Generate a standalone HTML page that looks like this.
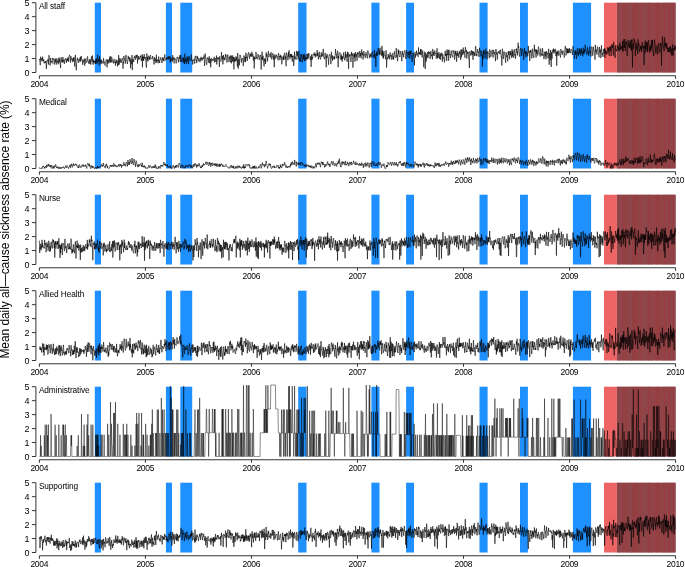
<!DOCTYPE html><html><head><meta charset="utf-8"><style>html,body{margin:0;padding:0;background:#fff;overflow:hidden}svg{display:block;will-change:transform}text{font-family:"Liberation Sans",sans-serif;fill:#000}</style></head><body>
<svg width="685" height="567" viewBox="0 0 685 567">
<rect width="685" height="567" fill="#fff"/>
<text transform="translate(8.9,229.5) rotate(-90)" text-anchor="middle" font-size="12" textLength="258.2" lengthAdjust="spacing">Mean daily all—cause sickness absence rate (%)</text>
<rect x="94.80" y="2.70" width="6.20" height="69.80" fill="#1E90FF"/>
<rect x="165.90" y="2.70" width="6.10" height="69.80" fill="#1E90FF"/>
<rect x="180.30" y="2.70" width="11.90" height="69.80" fill="#1E90FF"/>
<rect x="298.20" y="2.70" width="8.30" height="69.80" fill="#1E90FF"/>
<rect x="371.40" y="2.70" width="8.10" height="69.80" fill="#1E90FF"/>
<rect x="406.10" y="2.70" width="7.90" height="69.80" fill="#1E90FF"/>
<rect x="479.50" y="2.70" width="8.10" height="69.80" fill="#1E90FF"/>
<rect x="520.00" y="2.70" width="7.90" height="69.80" fill="#1E90FF"/>
<rect x="572.90" y="2.70" width="18.20" height="69.80" fill="#1E90FF"/>
<rect x="604.00" y="2.70" width="12.90" height="69.80" fill="#EC6464"/>
<rect x="616.90" y="2.70" width="58.90" height="69.80" fill="#924346"/>
<rect x="617.50" y="2.70" width="0.90" height="69.80" fill="#8C494D"/>
<rect x="619.01" y="2.70" width="1.18" height="69.80" fill="#8C494D"/>
<rect x="620.85" y="2.70" width="0.77" height="69.80" fill="#8C494D"/>
<rect x="623.56" y="2.70" width="0.79" height="69.80" fill="#983E41"/>
<rect x="626.07" y="2.70" width="1.06" height="69.80" fill="#983E41"/>
<rect x="627.58" y="2.70" width="1.02" height="69.80" fill="#8C494D"/>
<rect x="629.51" y="2.70" width="0.86" height="69.80" fill="#8C494D"/>
<rect x="631.04" y="2.70" width="0.96" height="69.80" fill="#8C494D"/>
<rect x="632.61" y="2.70" width="0.72" height="69.80" fill="#983E41"/>
<rect x="633.73" y="2.70" width="0.66" height="69.80" fill="#983E41"/>
<rect x="634.81" y="2.70" width="0.96" height="69.80" fill="#983E41"/>
<rect x="636.59" y="2.70" width="1.18" height="69.80" fill="#983E41"/>
<rect x="638.15" y="2.70" width="1.01" height="69.80" fill="#8C494D"/>
<rect x="639.98" y="2.70" width="0.97" height="69.80" fill="#983E41"/>
<rect x="641.88" y="2.70" width="0.94" height="69.80" fill="#8C494D"/>
<rect x="643.56" y="2.70" width="1.06" height="69.80" fill="#8C494D"/>
<rect x="645.15" y="2.70" width="0.62" height="69.80" fill="#8C494D"/>
<rect x="646.69" y="2.70" width="0.69" height="69.80" fill="#8C494D"/>
<rect x="648.10" y="2.70" width="1.02" height="69.80" fill="#983E41"/>
<rect x="649.39" y="2.70" width="0.76" height="69.80" fill="#8C494D"/>
<rect x="650.66" y="2.70" width="0.75" height="69.80" fill="#983E41"/>
<rect x="652.19" y="2.70" width="0.75" height="69.80" fill="#8C494D"/>
<rect x="655.45" y="2.70" width="0.93" height="69.80" fill="#983E41"/>
<rect x="657.12" y="2.70" width="1.11" height="69.80" fill="#983E41"/>
<rect x="658.46" y="2.70" width="0.88" height="69.80" fill="#983E41"/>
<rect x="661.60" y="2.70" width="1.10" height="69.80" fill="#8C494D"/>
<rect x="663.47" y="2.70" width="1.19" height="69.80" fill="#983E41"/>
<rect x="665.07" y="2.70" width="0.91" height="69.80" fill="#983E41"/>
<rect x="666.82" y="2.70" width="1.15" height="69.80" fill="#8C494D"/>
<rect x="668.28" y="2.70" width="0.83" height="69.80" fill="#983E41"/>
<rect x="669.82" y="2.70" width="0.75" height="69.80" fill="#983E41"/>
<rect x="671.18" y="2.70" width="0.77" height="69.80" fill="#8C494D"/>
<rect x="672.42" y="2.70" width="1.06" height="69.80" fill="#983E41"/>
<rect x="674.27" y="2.70" width="0.67" height="69.80" fill="#8C494D"/>
<path d="M39.40 59.61 L39.69 58.95 L39.98 62.12 L40.27 65.13 L40.56 56.74 L40.85 58.32 L41.14 60.01 L41.43 58.27 L41.72 59.75 L42.01 61.42 L42.30 61.02 L42.59 56.63 L42.88 60.63 L43.17 59.93 L43.46 61.00 L43.75 59.35 L44.04 63.34 L44.34 63.28 L44.63 61.55 L44.92 61.66 L45.21 61.29 L45.50 62.87 L45.79 61.06 L46.08 63.43 L46.37 68.90 L46.66 62.89 L46.95 60.78 L47.24 61.35 L47.53 60.32 L47.82 60.59 L48.11 58.83 L48.40 64.57 L48.69 59.15 L48.98 55.14 L49.27 57.21 L49.56 57.32 L49.85 61.00 L50.14 65.46 L50.43 61.62 L50.72 57.98 L51.01 62.02 L51.30 61.67 L51.59 61.08 L51.88 63.05 L52.17 63.38 L52.46 62.19 L52.75 57.95 L53.04 59.50 L53.33 58.63 L53.62 58.87 L53.92 60.58 L54.21 64.50 L54.50 61.41 L54.79 60.02 L55.08 58.67 L55.37 62.37 L55.66 58.78 L55.95 60.49 L56.24 64.63 L56.53 62.34 L56.82 58.34 L57.11 59.18 L57.40 62.27 L57.69 62.62 L57.98 60.70 L58.27 64.22 L58.56 62.43 L58.85 57.51 L59.14 62.61 L59.43 60.02 L59.72 58.60 L60.01 61.91 L60.30 64.79 L60.59 68.09 L60.88 58.31 L61.17 57.19 L61.46 59.45 L61.75 61.74 L62.04 59.91 L62.33 62.58 L62.62 60.11 L62.91 56.98 L63.20 62.33 L63.50 62.04 L63.79 59.50 L64.08 60.22 L64.37 63.88 L64.66 62.66 L64.95 59.00 L65.24 59.15 L65.53 58.35 L65.82 59.67 L66.11 60.21 L66.40 62.75 L66.69 59.48 L66.98 61.07 L67.27 57.89 L67.56 58.19 L67.85 60.83 L68.14 57.72 L68.43 61.85 L68.72 58.25 L69.01 56.13 L69.30 55.63 L69.59 54.87 L69.88 56.61 L70.17 59.20 L70.46 62.66 L70.75 56.14 L71.04 56.41 L71.33 58.49 L71.62 58.43 L71.91 60.23 L72.20 58.59 L72.49 62.02 L72.78 61.63 L73.08 58.96 L73.37 57.55 L73.66 61.31 L73.95 58.64 L74.24 57.54 L74.53 65.19 L74.82 66.53 L75.11 57.31 L75.40 54.90 L75.69 62.07 L75.98 62.81 L76.27 70.22 L76.56 63.85 L76.85 62.62 L77.14 59.18 L77.43 57.74 L77.72 60.23 L78.01 59.37 L78.30 60.10 L78.59 62.84 L78.88 62.16 L79.17 59.33 L79.46 58.57 L79.75 61.02 L80.04 61.37 L80.33 56.91 L80.62 61.48 L80.91 61.19 L81.20 55.96 L81.49 59.22 L81.78 59.72 L82.07 59.37 L82.36 60.10 L82.66 64.78 L82.95 60.78 L83.24 59.76 L83.53 61.61 L83.82 62.58 L84.11 62.00 L84.40 58.55 L84.69 65.70 L84.98 63.04 L85.27 63.60 L85.56 59.76 L85.85 58.62 L86.14 60.90 L86.43 62.13 L86.72 62.63 L87.01 61.67 L87.30 57.24 L87.59 56.39 L87.88 60.03 L88.17 61.86 L88.46 61.49 L88.75 63.87 L89.04 63.54 L89.33 59.47 L89.62 60.13 L89.91 63.65 L90.20 59.18 L90.49 61.87 L90.78 64.51 L91.07 61.30 L91.36 56.43 L91.65 58.44 L91.94 60.17 L92.24 61.83 L92.53 55.57 L92.82 61.08 L93.11 64.72 L93.40 60.07 L93.69 59.61 L93.98 63.26 L94.27 60.96 L94.56 61.95 L94.85 61.41 L95.14 61.19 L95.43 63.89 L95.72 59.49 L96.01 63.51 L96.30 58.49 L96.59 60.19 L96.88 61.33 L97.17 63.70 L97.46 54.72 L97.75 54.96 L98.04 61.55 L98.33 59.13 L98.62 61.30 L98.91 62.62 L99.20 65.52 L99.49 55.98 L99.78 61.95 L100.07 60.77 L100.36 59.67 L100.65 62.34 L100.94 64.01 L101.23 64.13 L101.52 59.69 L101.82 62.78 L102.11 62.01 L102.40 61.46 L102.69 62.00 L102.98 63.56 L103.27 63.54 L103.56 58.20 L103.85 61.54 L104.14 61.49 L104.43 62.98 L104.72 62.57 L105.01 65.60 L105.30 62.20 L105.59 61.22 L105.88 60.73 L106.17 59.41 L106.46 60.15 L106.75 62.24 L107.04 67.34 L107.33 62.88 L107.62 59.76 L107.91 63.31 L108.20 59.40 L108.49 62.55 L108.78 63.33 L109.07 62.58 L109.36 61.92 L109.65 57.50 L109.94 61.79 L110.23 56.05 L110.52 60.83 L110.81 62.84 L111.10 60.32 L111.40 61.90 L111.69 56.79 L111.98 59.29 L112.27 59.50 L112.56 59.65 L112.85 62.18 L113.14 61.56 L113.43 63.37 L113.72 60.06 L114.01 58.83 L114.30 59.40 L114.59 60.59 L114.88 63.06 L115.17 62.10 L115.46 65.63 L115.75 60.70 L116.04 59.64 L116.33 63.08 L116.62 60.54 L116.91 62.37 L117.20 62.82 L117.49 66.33 L117.78 61.69 L118.07 60.09 L118.36 65.17 L118.65 55.14 L118.94 62.30 L119.23 64.54 L119.52 60.65 L119.81 58.16 L120.10 62.51 L120.39 59.28 L120.68 59.48 L120.98 61.75 L121.27 62.80 L121.56 60.31 L121.85 59.36 L122.14 57.93 L122.43 58.44 L122.72 60.41 L123.01 68.61 L123.30 62.28 L123.59 63.21 L123.88 55.97 L124.17 58.54 L124.46 58.19 L124.75 60.45 L125.04 59.91 L125.33 63.67 L125.62 61.20 L125.91 54.83 L126.20 59.45 L126.49 60.30 L126.78 60.02 L127.07 61.36 L127.36 63.98 L127.65 61.85 L127.94 58.42 L128.23 55.93 L128.52 58.93 L128.81 58.30 L129.10 57.52 L129.39 61.37 L129.68 57.42 L129.97 57.31 L130.26 58.62 L130.56 68.26 L130.85 59.29 L131.14 62.73 L131.43 61.63 L131.72 64.20 L132.01 55.04 L132.30 70.06 L132.59 59.23 L132.88 60.20 L133.17 59.33 L133.46 61.14 L133.75 62.14 L134.04 57.38 L134.33 56.60 L134.62 58.12 L134.91 55.74 L135.20 55.47 L135.49 59.65 L135.78 58.71 L136.07 57.48 L136.36 55.05 L136.65 57.60 L136.94 57.13 L137.23 54.69 L137.52 63.55 L137.81 58.27 L138.10 57.93 L138.39 56.04 L138.68 59.71 L138.97 58.92 L139.26 57.62 L139.55 58.72 L139.84 59.21 L140.14 56.33 L140.43 57.12 L140.72 55.47 L141.01 57.58 L141.30 61.06 L141.59 59.21 L141.88 59.09 L142.17 54.36 L142.46 67.32 L142.75 55.90 L143.04 60.00 L143.33 57.04 L143.62 60.96 L143.91 58.21 L144.20 54.19 L144.49 58.40 L144.78 57.70 L145.07 58.42 L145.36 57.07 L145.65 59.91 L145.94 62.53 L146.23 67.34 L146.52 67.57 L146.81 53.45 L147.10 60.49 L147.39 58.32 L147.68 56.94 L147.97 61.35 L148.26 57.07 L148.55 55.79 L148.84 55.65 L149.13 59.04 L149.43 57.04 L149.72 59.99 L150.01 56.69 L150.30 55.91 L150.59 55.12 L150.88 58.58 L151.17 58.38 L151.46 58.75 L151.75 58.58 L152.04 59.24 L152.33 58.01 L152.62 56.04 L152.91 57.02 L153.20 59.61 L153.49 60.08 L153.78 62.40 L154.07 64.49 L154.36 57.12 L154.65 58.16 L154.94 60.91 L155.23 58.42 L155.52 62.46 L155.81 63.16 L156.10 62.62 L156.39 54.77 L156.68 62.18 L156.97 59.61 L157.26 59.24 L157.55 60.76 L157.84 60.28 L158.13 63.22 L158.42 61.64 L158.71 56.58 L159.01 60.69 L159.30 60.04 L159.59 63.00 L159.88 60.38 L160.17 60.08 L160.46 59.79 L160.75 57.37 L161.04 59.01 L161.33 60.17 L161.62 59.88 L161.91 63.02 L162.20 61.12 L162.49 57.64 L162.78 59.33 L163.07 57.32 L163.36 60.58 L163.65 59.15 L163.94 61.16 L164.23 58.17 L164.52 57.98 L164.81 54.47 L165.10 58.01 L165.39 59.26 L165.68 60.35 L165.97 59.91 L166.26 59.94 L166.55 57.71 L166.84 58.98 L167.13 58.48 L167.42 59.19 L167.71 56.84 L168.00 58.83 L168.29 59.23 L168.59 56.43 L168.88 59.32 L169.17 59.12 L169.46 57.93 L169.75 56.05 L170.04 60.73 L170.33 62.64 L170.62 57.46 L170.91 59.58 L171.20 60.89 L171.49 59.24 L171.78 58.88 L172.07 58.13 L172.36 61.74 L172.65 55.22 L172.94 55.90 L173.23 59.57 L173.52 57.53 L173.81 60.20 L174.10 63.45 L174.39 61.74 L174.68 57.73 L174.97 58.74 L175.26 59.64 L175.55 59.39 L175.84 59.43 L176.13 63.39 L176.42 61.17 L176.71 60.07 L177.00 57.03 L177.29 56.87 L177.58 58.02 L177.87 58.63 L178.17 59.95 L178.46 62.44 L178.75 57.46 L179.04 57.39 L179.33 57.08 L179.62 58.74 L179.91 55.16 L180.20 61.81 L180.49 59.41 L180.78 54.93 L181.07 58.98 L181.36 61.63 L181.65 62.12 L181.94 59.84 L182.23 60.71 L182.52 60.92 L182.81 57.36 L183.10 59.01 L183.39 57.78 L183.68 63.08 L183.97 58.98 L184.26 61.95 L184.55 64.03 L184.84 53.64 L185.13 60.94 L185.42 61.13 L185.71 62.04 L186.00 58.55 L186.29 63.77 L186.58 60.81 L186.87 56.70 L187.16 58.01 L187.45 61.53 L187.75 60.51 L188.04 56.58 L188.33 64.20 L188.62 62.76 L188.91 56.70 L189.20 56.33 L189.49 58.16 L189.78 58.04 L190.07 60.93 L190.36 59.93 L190.65 60.16 L190.94 59.63 L191.23 55.23 L191.52 54.59 L191.81 60.89 L192.10 60.37 L192.39 59.93 L192.68 64.44 L192.97 61.41 L193.26 60.94 L193.55 59.97 L193.84 59.93 L194.13 58.75 L194.42 61.13 L194.71 63.67 L195.00 57.06 L195.29 55.84 L195.58 57.39 L195.87 58.03 L196.16 60.64 L196.45 60.19 L196.74 63.08 L197.03 55.89 L197.33 58.52 L197.62 56.79 L197.91 58.59 L198.20 61.37 L198.49 61.08 L198.78 58.41 L199.07 58.73 L199.36 59.23 L199.65 60.06 L199.94 62.24 L200.23 58.23 L200.52 59.61 L200.81 60.36 L201.10 56.84 L201.39 58.84 L201.68 58.31 L201.97 60.75 L202.26 57.82 L202.55 59.06 L202.84 59.19 L203.13 58.02 L203.42 57.42 L203.71 58.48 L204.00 55.37 L204.29 59.51 L204.58 65.95 L204.87 61.04 L205.16 53.54 L205.45 56.91 L205.74 57.56 L206.03 59.40 L206.32 63.26 L206.61 64.78 L206.91 63.46 L207.20 58.02 L207.49 57.47 L207.78 57.64 L208.07 59.40 L208.36 58.32 L208.65 62.44 L208.94 62.89 L209.23 56.25 L209.52 59.90 L209.81 63.30 L210.10 60.96 L210.39 59.03 L210.68 67.33 L210.97 62.13 L211.26 57.90 L211.55 60.90 L211.84 61.37 L212.13 60.44 L212.42 60.59 L212.71 58.98 L213.00 60.19 L213.29 59.96 L213.58 60.50 L213.87 58.28 L214.16 56.77 L214.45 59.82 L214.74 62.40 L215.03 58.97 L215.32 58.02 L215.61 59.36 L215.90 61.84 L216.19 60.46 L216.49 55.57 L216.78 64.51 L217.07 61.07 L217.36 59.25 L217.65 57.54 L217.94 57.24 L218.23 59.09 L218.52 57.68 L218.81 60.04 L219.10 59.99 L219.39 66.86 L219.68 56.19 L219.97 59.39 L220.26 60.41 L220.55 61.18 L220.84 60.99 L221.13 61.48 L221.42 52.11 L221.71 54.99 L222.00 59.28 L222.29 59.54 L222.58 56.04 L222.87 64.37 L223.16 62.17 L223.45 54.99 L223.74 59.10 L224.03 58.72 L224.32 59.23 L224.61 57.63 L224.90 60.33 L225.19 58.71 L225.48 53.93 L225.77 56.52 L226.07 55.28 L226.36 58.85 L226.65 60.44 L226.94 62.51 L227.23 61.91 L227.52 56.06 L227.81 54.47 L228.10 56.51 L228.39 58.77 L228.68 60.55 L228.97 62.09 L229.26 60.84 L229.55 56.61 L229.84 59.30 L230.13 57.94 L230.42 55.46 L230.71 62.17 L231.00 60.54 L231.29 63.38 L231.58 55.63 L231.87 58.75 L232.16 61.75 L232.45 58.02 L232.74 55.48 L233.03 61.17 L233.32 58.59 L233.61 57.05 L233.90 69.36 L234.19 57.41 L234.48 59.48 L234.77 62.06 L235.06 59.79 L235.35 61.08 L235.65 58.29 L235.94 56.38 L236.23 60.45 L236.52 57.47 L236.81 60.59 L237.10 60.41 L237.39 66.67 L237.68 53.13 L237.97 56.08 L238.26 68.74 L238.55 59.71 L238.84 59.23 L239.13 59.03 L239.42 65.30 L239.71 58.03 L240.00 54.88 L240.29 55.90 L240.58 55.81 L240.87 58.35 L241.16 60.21 L241.45 62.53 L241.74 58.74 L242.03 59.59 L242.32 58.21 L242.61 58.44 L242.90 58.96 L243.19 66.12 L243.48 63.25 L243.77 55.74 L244.06 55.44 L244.35 57.90 L244.64 58.93 L244.93 62.09 L245.23 56.82 L245.52 62.03 L245.81 52.71 L246.10 53.27 L246.39 56.06 L246.68 58.26 L246.97 56.83 L247.26 60.97 L247.55 57.75 L247.84 53.88 L248.13 53.89 L248.42 53.72 L248.71 52.31 L249.00 56.84 L249.29 56.88 L249.58 58.82 L249.87 53.92 L250.16 54.47 L250.45 56.43 L250.74 53.30 L251.03 53.58 L251.32 55.12 L251.61 56.78 L251.90 51.72 L252.19 54.00 L252.48 56.24 L252.77 54.19 L253.06 55.36 L253.35 60.56 L253.64 56.25 L253.93 56.62 L254.22 68.44 L254.51 56.87 L254.81 57.75 L255.10 59.23 L255.39 58.52 L255.68 58.70 L255.97 51.92 L256.26 54.94 L256.55 58.15 L256.84 57.38 L257.13 59.19 L257.42 59.19 L257.71 57.20 L258.00 54.15 L258.29 55.97 L258.58 56.42 L258.87 56.09 L259.16 59.86 L259.45 59.82 L259.74 58.87 L260.03 54.93 L260.32 55.94 L260.61 55.39 L260.90 57.91 L261.19 69.55 L261.48 57.61 L261.77 58.73 L262.06 51.71 L262.35 57.19 L262.64 60.21 L262.93 55.76 L263.22 56.35 L263.51 62.13 L263.80 62.84 L264.09 66.40 L264.39 59.22 L264.68 58.50 L264.97 61.57 L265.26 58.72 L265.55 64.01 L265.84 60.09 L266.13 52.39 L266.42 56.67 L266.71 54.23 L267.00 56.73 L267.29 57.94 L267.58 61.40 L267.87 55.88 L268.16 53.00 L268.45 51.09 L268.74 57.15 L269.03 56.48 L269.32 56.21 L269.61 55.79 L269.90 53.70 L270.19 53.82 L270.48 55.62 L270.77 57.66 L271.06 52.22 L271.35 55.53 L271.64 59.34 L271.93 58.54 L272.22 58.09 L272.51 57.64 L272.80 53.22 L273.09 55.05 L273.38 55.03 L273.67 59.95 L273.97 56.43 L274.26 67.24 L274.55 55.63 L274.84 54.39 L275.13 56.25 L275.42 55.84 L275.71 58.58 L276.00 58.38 L276.29 54.87 L276.58 54.78 L276.87 56.65 L277.16 56.30 L277.45 56.48 L277.74 58.24 L278.03 60.29 L278.32 54.32 L278.61 53.06 L278.90 56.26 L279.19 57.07 L279.48 56.19 L279.77 60.07 L280.06 59.66 L280.35 54.85 L280.64 57.67 L280.93 56.00 L281.22 55.72 L281.51 57.67 L281.80 64.35 L282.09 59.77 L282.38 57.21 L282.67 56.75 L282.96 57.42 L283.25 59.98 L283.55 55.58 L283.84 59.97 L284.13 57.77 L284.42 53.02 L284.71 52.74 L285.00 53.45 L285.29 59.03 L285.58 56.62 L285.87 63.25 L286.16 66.21 L286.45 52.59 L286.74 53.60 L287.03 54.01 L287.32 56.95 L287.61 56.89 L287.90 60.30 L288.19 57.32 L288.48 52.27 L288.77 57.01 L289.06 50.42 L289.35 56.81 L289.64 58.28 L289.93 59.21 L290.22 58.50 L290.51 53.88 L290.80 56.87 L291.09 54.40 L291.38 57.26 L291.67 54.24 L291.96 57.68 L292.25 61.69 L292.54 55.95 L292.83 57.00 L293.13 55.62 L293.42 57.48 L293.71 65.90 L294.00 61.55 L294.29 58.81 L294.58 51.61 L294.87 58.62 L295.16 57.32 L295.45 56.74 L295.74 57.62 L296.03 59.90 L296.32 54.95 L296.61 50.88 L296.90 52.39 L297.19 55.89 L297.48 51.69 L297.77 56.01 L298.06 59.32 L298.35 58.53 L298.64 54.01 L298.93 50.96 L299.22 55.41 L299.51 56.76 L299.80 61.54 L300.09 58.47 L300.38 61.49 L300.67 56.92 L300.96 54.23 L301.25 57.51 L301.54 54.75 L301.83 54.37 L302.12 62.37 L302.41 59.00 L302.71 57.55 L303.00 55.54 L303.29 54.64 L303.58 59.28 L303.87 54.50 L304.16 60.48 L304.45 61.21 L304.74 54.28 L305.03 54.35 L305.32 59.40 L305.61 57.37 L305.90 60.69 L306.19 58.22 L306.48 59.08 L306.77 55.48 L307.06 53.93 L307.35 59.19 L307.64 57.61 L307.93 53.68 L308.22 58.61 L308.51 55.44 L308.80 53.05 L309.09 55.63 L309.38 55.76 L309.67 55.67 L309.96 56.62 L310.25 60.03 L310.54 59.15 L310.83 56.42 L311.12 66.82 L311.41 54.48 L311.70 54.51 L311.99 59.93 L312.29 57.09 L312.58 58.29 L312.87 55.39 L313.16 53.99 L313.45 53.54 L313.74 54.52 L314.03 53.91 L314.32 56.00 L314.61 55.54 L314.90 52.39 L315.19 57.42 L315.48 56.17 L315.77 54.00 L316.06 55.55 L316.35 56.36 L316.64 55.64 L316.93 52.61 L317.22 50.06 L317.51 55.87 L317.80 53.01 L318.09 56.54 L318.38 59.34 L318.67 56.12 L318.96 53.49 L319.25 51.69 L319.54 56.85 L319.83 55.52 L320.12 58.09 L320.41 59.43 L320.70 58.44 L320.99 54.84 L321.28 52.29 L321.57 56.67 L321.87 56.98 L322.16 53.77 L322.45 55.98 L322.74 55.48 L323.03 50.79 L323.32 48.86 L323.61 57.19 L323.90 56.87 L324.19 58.39 L324.48 58.04 L324.77 59.16 L325.06 52.82 L325.35 54.17 L325.64 57.08 L325.93 57.78 L326.22 67.20 L326.51 55.77 L326.80 57.93 L327.09 53.90 L327.38 56.57 L327.67 56.88 L327.96 58.15 L328.25 58.09 L328.54 64.69 L328.83 59.39 L329.12 54.89 L329.41 54.36 L329.70 55.08 L329.99 54.58 L330.28 56.50 L330.57 58.10 L330.86 64.13 L331.15 56.50 L331.45 51.85 L331.74 58.30 L332.03 57.35 L332.32 55.36 L332.61 60.74 L332.90 57.25 L333.19 56.52 L333.48 58.45 L333.77 57.95 L334.06 59.10 L334.35 56.36 L334.64 59.31 L334.93 57.15 L335.22 54.26 L335.51 49.01 L335.80 54.34 L336.09 54.14 L336.38 53.79 L336.67 58.22 L336.96 58.36 L337.25 52.14 L337.54 50.75 L337.83 51.88 L338.12 67.21 L338.41 56.03 L338.70 58.44 L338.99 53.44 L339.28 52.71 L339.57 52.61 L339.86 53.11 L340.15 52.73 L340.44 58.30 L340.73 59.89 L341.03 59.47 L341.32 54.35 L341.61 59.40 L341.90 56.12 L342.19 61.71 L342.48 56.58 L342.77 58.82 L343.06 57.93 L343.35 55.67 L343.64 52.47 L343.93 57.11 L344.22 58.21 L344.51 58.01 L344.80 60.44 L345.09 57.83 L345.38 51.63 L345.67 57.93 L345.96 56.59 L346.25 54.32 L346.54 56.34 L346.83 58.63 L347.12 61.77 L347.41 51.73 L347.70 57.03 L347.99 54.60 L348.28 52.70 L348.57 68.85 L348.86 58.13 L349.15 57.64 L349.44 55.15 L349.73 56.06 L350.02 53.84 L350.31 56.44 L350.61 56.69 L350.90 61.96 L351.19 58.84 L351.48 51.94 L351.77 55.38 L352.06 55.86 L352.35 53.50 L352.64 56.92 L352.93 67.64 L353.22 61.35 L353.51 55.10 L353.80 55.61 L354.09 52.99 L354.38 57.62 L354.67 53.89 L354.96 61.63 L355.25 59.62 L355.54 52.15 L355.83 54.90 L356.12 56.78 L356.41 54.53 L356.70 53.85 L356.99 60.78 L357.28 57.62 L357.57 52.43 L357.86 53.86 L358.15 52.32 L358.44 55.20 L358.73 55.58 L359.02 57.80 L359.31 55.37 L359.60 51.54 L359.90 50.87 L360.19 56.13 L360.48 53.10 L360.77 57.73 L361.06 58.36 L361.35 57.33 L361.64 49.48 L361.93 51.70 L362.22 55.17 L362.51 52.78 L362.80 55.65 L363.09 59.56 L363.38 56.74 L363.67 52.09 L363.96 51.13 L364.25 55.47 L364.54 54.72 L364.83 54.88 L365.12 57.75 L365.41 58.00 L365.70 53.78 L365.99 52.25 L366.28 54.67 L366.57 54.05 L366.86 56.29 L367.15 57.04 L367.44 58.30 L367.73 50.64 L368.02 50.39 L368.31 53.26 L368.60 53.17 L368.89 54.57 L369.18 55.79 L369.48 58.26 L369.77 55.75 L370.06 53.51 L370.35 54.94 L370.64 56.66 L370.93 54.24 L371.22 57.37 L371.51 56.86 L371.80 52.63 L372.09 53.22 L372.38 53.35 L372.67 51.50 L372.96 56.80 L373.25 57.75 L373.54 56.25 L373.83 55.19 L374.12 55.92 L374.41 49.99 L374.70 57.75 L374.99 53.86 L375.28 58.89 L375.57 57.79 L375.86 67.00 L376.15 53.74 L376.44 51.71 L376.73 55.71 L377.02 53.14 L377.31 55.62 L377.60 51.17 L377.89 49.66 L378.18 47.99 L378.47 48.90 L378.76 51.42 L379.06 54.34 L379.35 50.18 L379.64 55.08 L379.93 48.23 L380.22 47.81 L380.51 49.46 L380.80 53.69 L381.09 52.81 L381.38 55.79 L381.67 52.65 L381.96 45.90 L382.25 54.91 L382.54 50.47 L382.83 57.41 L383.12 53.36 L383.41 58.58 L383.70 52.75 L383.99 51.03 L384.28 54.58 L384.57 55.32 L384.86 55.38 L385.15 55.06 L385.44 59.14 L385.73 57.12 L386.02 50.27 L386.31 52.64 L386.60 67.53 L386.89 58.62 L387.18 57.92 L387.47 57.65 L387.76 59.31 L388.05 54.37 L388.34 54.04 L388.64 57.47 L388.93 57.85 L389.22 55.37 L389.51 59.40 L389.80 58.52 L390.09 52.46 L390.38 55.37 L390.67 56.19 L390.96 56.55 L391.25 55.11 L391.54 58.46 L391.83 59.89 L392.12 53.53 L392.41 53.43 L392.70 53.17 L392.99 58.79 L393.28 56.47 L393.57 59.59 L393.86 56.91 L394.15 52.54 L394.44 51.34 L394.73 54.46 L395.02 56.89 L395.31 57.47 L395.60 58.07 L395.89 57.04 L396.18 48.09 L396.47 50.86 L396.76 56.90 L397.05 54.92 L397.34 58.11 L397.63 61.24 L397.92 55.67 L398.22 49.47 L398.51 54.02 L398.80 50.37 L399.09 55.57 L399.38 56.40 L399.67 56.04 L399.96 56.96 L400.25 51.09 L400.54 52.17 L400.83 53.10 L401.12 55.38 L401.41 55.42 L401.70 61.15 L401.99 59.53 L402.28 50.91 L402.57 54.54 L402.86 53.32 L403.15 53.67 L403.44 55.95 L403.73 57.34 L404.02 53.61 L404.31 50.97 L404.60 50.32 L404.89 50.73 L405.18 52.61 L405.47 55.37 L405.76 59.07 L406.05 58.75 L406.34 50.12 L406.63 51.47 L406.92 53.66 L407.21 52.35 L407.50 55.71 L407.80 55.98 L408.09 57.70 L408.38 52.23 L408.67 54.01 L408.96 55.08 L409.25 51.04 L409.54 58.70 L409.83 58.10 L410.12 55.61 L410.41 51.06 L410.70 53.90 L410.99 50.68 L411.28 56.82 L411.57 58.46 L411.86 58.07 L412.15 61.97 L412.44 58.23 L412.73 53.02 L413.02 53.62 L413.31 53.55 L413.60 56.30 L413.89 57.77 L414.18 59.44 L414.47 65.43 L414.76 51.87 L415.05 52.46 L415.34 57.77 L415.63 54.22 L415.92 55.50 L416.21 55.33 L416.50 50.69 L416.79 53.25 L417.08 54.38 L417.38 53.21 L417.67 54.51 L417.96 56.16 L418.25 56.85 L418.54 47.46 L418.83 53.40 L419.12 52.70 L419.41 54.16 L419.70 52.28 L419.99 54.52 L420.28 54.57 L420.57 49.08 L420.86 54.87 L421.15 49.28 L421.44 52.75 L421.73 55.36 L422.02 57.19 L422.31 57.47 L422.60 50.53 L422.89 51.89 L423.18 54.42 L423.47 59.35 L423.76 67.16 L424.05 57.56 L424.34 56.73 L424.63 51.70 L424.92 52.25 L425.21 68.96 L425.50 56.07 L425.79 52.92 L426.08 61.62 L426.37 60.13 L426.66 54.70 L426.96 58.25 L427.25 56.17 L427.54 52.02 L427.83 53.03 L428.12 57.66 L428.41 53.63 L428.70 51.38 L428.99 53.48 L429.28 52.47 L429.57 53.57 L429.86 52.43 L430.15 59.08 L430.44 54.08 L430.73 51.66 L431.02 50.93 L431.31 56.29 L431.60 55.21 L431.89 54.47 L432.18 55.99 L432.47 59.22 L432.76 48.96 L433.05 52.14 L433.34 55.15 L433.63 51.92 L433.92 55.27 L434.21 56.01 L434.50 53.36 L434.79 50.52 L435.08 53.36 L435.37 53.71 L435.66 52.88 L435.95 53.46 L436.24 58.66 L436.54 57.39 L436.83 49.95 L437.12 48.29 L437.41 58.36 L437.70 53.01 L437.99 55.95 L438.28 57.73 L438.57 56.79 L438.86 52.12 L439.15 55.22 L439.44 56.91 L439.73 58.94 L440.02 53.93 L440.31 59.52 L440.60 59.63 L440.89 53.13 L441.18 56.13 L441.47 53.82 L441.76 52.63 L442.05 53.83 L442.34 61.60 L442.63 55.65 L442.92 54.26 L443.21 57.62 L443.50 57.87 L443.79 58.66 L444.08 57.66 L444.37 62.44 L444.66 62.13 L444.95 53.96 L445.24 50.86 L445.53 55.82 L445.82 54.18 L446.12 55.25 L446.41 53.68 L446.70 60.86 L446.99 49.49 L447.28 55.00 L447.57 55.12 L447.86 55.17 L448.15 50.02 L448.44 59.94 L448.73 60.77 L449.02 49.69 L449.31 54.91 L449.60 54.81 L449.89 54.00 L450.18 54.47 L450.47 58.06 L450.76 56.25 L451.05 50.59 L451.34 50.76 L451.63 54.71 L451.92 55.02 L452.21 56.24 L452.50 56.32 L452.79 57.33 L453.08 50.36 L453.37 51.58 L453.66 50.72 L453.95 53.48 L454.24 53.24 L454.53 59.64 L454.82 58.60 L455.11 50.72 L455.40 53.84 L455.70 51.33 L455.99 55.53 L456.28 53.39 L456.57 61.71 L456.86 58.09 L457.15 50.84 L457.44 52.30 L457.73 56.06 L458.02 54.03 L458.31 53.36 L458.60 56.73 L458.89 57.80 L459.18 51.74 L459.47 53.94 L459.76 51.73 L460.05 50.52 L460.34 54.91 L460.63 59.79 L460.92 55.82 L461.21 49.35 L461.50 57.26 L461.79 53.26 L462.08 49.68 L462.37 51.41 L462.66 55.01 L462.95 54.97 L463.24 47.62 L463.53 52.41 L463.82 53.49 L464.11 51.11 L464.40 53.47 L464.69 54.45 L464.98 57.82 L465.28 47.07 L465.57 47.94 L465.86 51.09 L466.15 51.94 L466.44 49.97 L466.73 58.51 L467.02 56.86 L467.31 51.54 L467.60 51.85 L467.89 53.79 L468.18 51.95 L468.47 53.94 L468.76 58.74 L469.05 58.68 L469.34 68.03 L469.63 51.50 L469.92 51.80 L470.21 51.54 L470.50 53.80 L470.79 55.63 L471.08 55.14 L471.37 50.29 L471.66 52.92 L471.95 54.56 L472.24 55.00 L472.53 51.15 L472.82 58.30 L473.11 59.84 L473.40 51.44 L473.69 53.11 L473.98 52.04 L474.27 55.48 L474.56 53.09 L474.86 56.05 L475.15 53.79 L475.44 46.16 L475.73 46.22 L476.02 50.07 L476.31 55.21 L476.60 54.33 L476.89 56.16 L477.18 52.43 L477.47 49.12 L477.76 49.65 L478.05 52.91 L478.34 52.10 L478.63 51.69 L478.92 56.92 L479.21 54.02 L479.50 47.79 L479.79 51.32 L480.08 50.37 L480.37 50.25 L480.66 53.69 L480.95 56.12 L481.24 56.40 L481.53 51.25 L481.82 51.17 L482.11 53.07 L482.40 66.45 L482.69 54.80 L482.98 59.24 L483.27 57.82 L483.56 49.88 L483.85 54.11 L484.14 54.54 L484.44 50.79 L484.73 51.89 L485.02 58.37 L485.31 55.61 L485.60 51.29 L485.89 48.57 L486.18 52.95 L486.47 53.62 L486.76 51.93 L487.05 59.31 L487.34 54.91 L487.63 52.34 L487.92 51.25 L488.21 53.26 L488.50 53.13 L488.79 53.81 L489.08 57.08 L489.37 58.17 L489.66 49.43 L489.95 50.58 L490.24 50.78 L490.53 51.04 L490.82 56.93 L491.11 55.02 L491.40 54.03 L491.69 51.32 L491.98 49.97 L492.27 49.90 L492.56 54.10 L492.85 56.44 L493.14 57.55 L493.43 51.17 L493.72 49.93 L494.02 53.49 L494.31 52.02 L494.60 54.29 L494.89 53.95 L495.18 56.47 L495.47 61.16 L495.76 49.34 L496.05 49.03 L496.34 52.79 L496.63 54.33 L496.92 52.53 L497.21 59.55 L497.50 58.60 L497.79 52.72 L498.08 51.63 L498.37 51.52 L498.66 52.65 L498.95 51.48 L499.24 53.82 L499.53 53.88 L499.82 50.74 L500.11 51.33 L500.40 49.74 L500.69 53.99 L500.98 53.91 L501.27 57.54 L501.56 56.85 L501.85 65.55 L502.14 54.16 L502.43 48.79 L502.72 53.14 L503.01 56.55 L503.30 58.93 L503.60 56.31 L503.89 51.59 L504.18 51.58 L504.47 54.85 L504.76 54.94 L505.05 55.63 L505.34 59.69 L505.63 62.75 L505.92 52.09 L506.21 52.72 L506.50 53.98 L506.79 57.04 L507.08 55.16 L507.37 58.37 L507.66 61.34 L507.95 55.53 L508.24 51.25 L508.53 54.98 L508.82 52.10 L509.11 51.30 L509.40 59.31 L509.69 58.44 L509.98 51.14 L510.27 51.00 L510.56 55.27 L510.85 51.51 L511.14 52.31 L511.43 55.57 L511.72 57.86 L512.01 49.21 L512.30 51.78 L512.59 56.36 L512.88 51.14 L513.18 56.25 L513.47 57.25 L513.76 57.95 L514.05 49.71 L514.34 49.34 L514.63 53.19 L514.92 55.52 L515.21 54.12 L515.50 58.74 L515.79 56.06 L516.08 49.13 L516.37 50.40 L516.66 48.43 L516.95 52.99 L517.24 51.49 L517.53 55.43 L517.82 51.29 L518.11 42.68 L518.40 47.97 L518.69 46.34 L518.98 51.50 L519.27 53.67 L519.56 56.57 L519.85 56.57 L520.14 49.08 L520.43 49.42 L520.72 48.00 L521.01 49.61 L521.30 50.77 L521.59 55.28 L521.88 55.89 L522.17 48.76 L522.46 49.12 L522.76 50.83 L523.05 51.60 L523.34 52.85 L523.63 59.96 L523.92 58.16 L524.21 51.89 L524.50 47.95 L524.79 53.16 L525.08 51.54 L525.37 51.03 L525.66 56.08 L525.95 57.16 L526.24 51.48 L526.53 54.24 L526.82 53.30 L527.11 52.42 L527.40 53.93 L527.69 56.30 L527.98 55.00 L528.27 45.97 L528.56 52.56 L528.85 52.41 L529.14 51.33 L529.43 51.04 L529.72 60.90 L530.01 56.31 L530.30 49.96 L530.59 52.41 L530.88 50.16 L531.17 51.45 L531.46 53.35 L531.75 58.34 L532.04 56.73 L532.34 49.47 L532.63 48.66 L532.92 52.97 L533.21 55.85 L533.50 56.15 L533.79 57.80 L534.08 52.92 L534.37 44.81 L534.66 51.75 L534.95 49.39 L535.24 49.21 L535.53 49.79 L535.82 55.55 L536.11 57.61 L536.40 49.44 L536.69 53.47 L536.98 50.26 L537.27 50.19 L537.56 55.54 L537.85 55.38 L538.14 54.29 L538.43 46.60 L538.72 47.48 L539.01 50.10 L539.30 53.90 L539.59 53.58 L539.88 54.09 L540.17 56.62 L540.46 50.09 L540.75 48.58 L541.04 51.71 L541.33 55.07 L541.62 53.70 L541.92 55.21 L542.21 56.00 L542.50 48.20 L542.79 49.95 L543.08 54.21 L543.37 55.27 L543.66 54.56 L543.95 59.16 L544.24 56.07 L544.53 51.82 L544.82 52.29 L545.11 55.49 L545.40 56.54 L545.69 51.57 L545.98 59.24 L546.27 57.29 L546.56 51.07 L546.85 52.03 L547.14 54.19 L547.43 53.59 L547.72 55.54 L548.01 58.20 L548.30 56.13 L548.59 48.79 L548.88 50.76 L549.17 64.69 L549.46 53.21 L549.75 54.94 L550.04 58.10 L550.33 60.31 L550.62 49.95 L550.91 52.20 L551.20 66.95 L551.50 52.31 L551.79 55.70 L552.08 58.61 L552.37 53.36 L552.66 51.30 L552.95 49.63 L553.24 52.47 L553.53 48.64 L553.82 53.43 L554.11 52.99 L554.40 52.76 L554.69 49.72 L554.98 51.12 L555.27 48.80 L555.56 53.13 L555.85 55.87 L556.14 56.10 L556.43 52.38 L556.72 65.69 L557.01 50.71 L557.30 53.91 L557.59 51.90 L557.88 55.39 L558.17 55.01 L558.46 55.46 L558.75 50.46 L559.04 50.72 L559.33 53.91 L559.62 55.02 L559.91 54.97 L560.20 55.43 L560.49 57.48 L560.78 48.98 L561.08 50.35 L561.37 50.72 L561.66 52.91 L561.95 51.86 L562.24 54.94 L562.53 52.15 L562.82 50.48 L563.11 51.31 L563.40 51.47 L563.69 52.36 L563.98 54.88 L564.27 57.55 L564.56 53.28 L564.85 49.16 L565.14 47.25 L565.43 45.95 L565.72 48.86 L566.01 55.36 L566.30 53.94 L566.59 53.77 L566.88 47.96 L567.17 52.94 L567.46 49.14 L567.75 53.19 L568.04 49.73 L568.33 53.17 L568.62 49.70 L568.91 48.64 L569.20 52.51 L569.49 48.31 L569.78 49.38 L570.07 52.49 L570.37 52.17 L570.66 53.08 L570.95 50.23 L571.24 49.08 L571.53 50.22 L571.82 50.34 L572.11 50.81 L572.40 54.98 L572.69 53.07 L572.98 46.28 L573.27 48.55 L573.56 50.34 L573.85 51.68 L574.14 52.08 L574.43 58.79 L574.72 53.89 L575.01 50.46 L575.30 50.32 L575.59 54.59 L575.88 50.95 L576.17 52.59 L576.46 58.99 L576.75 55.66 L577.04 51.85 L577.33 48.54 L577.62 52.27 L577.91 54.26 L578.20 52.24 L578.49 56.19 L578.78 53.18 L579.07 48.29 L579.36 49.60 L579.65 53.73 L579.95 50.65 L580.24 49.08 L580.53 54.94 L580.82 55.45 L581.11 48.31 L581.40 51.84 L581.69 50.64 L581.98 53.58 L582.27 51.92 L582.56 55.94 L582.85 56.28 L583.14 47.75 L583.43 52.79 L583.72 51.14 L584.01 54.27 L584.30 49.14 L584.59 51.03 L584.88 52.12 L585.17 44.77 L585.46 48.02 L585.75 49.16 L586.04 52.09 L586.33 53.11 L586.62 54.49 L586.91 54.63 L587.20 48.49 L587.49 47.38 L587.78 50.18 L588.07 53.16 L588.36 51.17 L588.65 55.90 L588.94 54.26 L589.23 49.27 L589.53 46.61 L589.82 47.19 L590.11 53.26 L590.40 50.92 L590.69 53.69 L590.98 56.51 L591.27 47.64 L591.56 46.65 L591.85 47.71 L592.14 47.54 L592.43 52.98 L592.72 55.70 L593.01 53.57 L593.30 46.69 L593.59 48.52 L593.88 49.97 L594.17 51.49 L594.46 53.09 L594.75 54.13 L595.04 59.62 L595.33 44.78 L595.62 49.41 L595.91 52.24 L596.20 49.42 L596.49 53.72 L596.78 53.85 L597.07 54.63 L597.36 46.57 L597.65 47.48 L597.94 47.81 L598.23 52.01 L598.52 52.49 L598.81 55.44 L599.11 57.29 L599.40 46.98 L599.69 48.40 L599.98 52.86 L600.27 49.50 L600.56 49.91 L600.85 58.05 L601.14 53.80 L601.43 45.22 L601.72 48.23 L602.01 52.83 L602.30 54.90 L602.59 53.19 L602.88 56.87 L603.17 55.79 L603.46 48.96 L603.75 49.46 L604.04 53.14 L604.33 53.67 L604.62 48.07 L604.91 57.88 L605.20 54.75 L605.49 49.72 L605.78 50.99 L606.07 53.90 L606.36 51.49 L606.65 52.93 L606.94 54.55 L607.23 50.73 L607.52 48.25 L607.81 47.19 L608.10 52.40 L608.39 50.65 L608.69 47.82 L608.98 55.09 L609.27 55.71 L609.56 46.74 L609.85 48.62 L610.14 50.16 L610.43 51.14 L610.72 46.28 L611.01 56.12 L611.30 53.77 L611.59 47.08 L611.88 44.01 L612.17 47.89 L612.46 45.28 L612.75 47.98 L613.04 51.70 L613.33 55.57 L613.62 41.76 L613.91 45.87 L614.20 47.42 L614.49 50.71 L614.78 51.73 L615.07 57.89 L615.36 50.17 L615.65 45.29 L615.94 48.44 L616.23 51.12 L616.52 49.85 L616.81 51.06 L617.10 49.44 L617.39 49.39 L617.68 44.99 L617.97 47.59 L618.27 46.67 L618.56 49.63 L618.85 47.90 L619.14 51.17 L619.43 49.25 L619.72 42.66 L620.01 45.68 L620.30 44.79 L620.59 49.70 L620.88 47.02 L621.17 47.98 L621.46 48.18 L621.75 46.02 L622.04 47.50 L622.33 50.38 L622.62 40.97 L622.91 51.39 L623.20 51.52 L623.49 44.74 L623.78 39.41 L624.07 41.43 L624.36 47.91 L624.65 44.30 L624.94 39.02 L625.23 50.99 L625.52 48.40 L625.81 42.87 L626.10 43.41 L626.39 44.14 L626.68 41.58 L626.97 50.04 L627.26 56.09 L627.55 50.58 L627.85 43.09 L628.14 39.85 L628.43 42.90 L628.72 47.05 L629.01 43.84 L629.30 46.43 L629.59 48.03 L629.88 41.87 L630.17 40.68 L630.46 43.98 L630.75 48.66 L631.04 40.25 L631.33 51.06 L631.62 47.58 L631.91 39.42 L632.20 41.30 L632.49 67.27 L632.78 47.83 L633.07 43.58 L633.36 48.99 L633.65 47.87 L633.94 38.51 L634.23 40.43 L634.52 40.62 L634.81 40.10 L635.10 45.75 L635.39 56.09 L635.68 48.91 L635.97 42.60 L636.26 44.31 L636.55 46.92 L636.84 49.90 L637.13 45.29 L637.43 49.69 L637.72 54.03 L638.01 39.35 L638.30 44.01 L638.59 45.98 L638.88 43.46 L639.17 46.83 L639.46 51.89 L639.75 49.67 L640.04 47.88 L640.33 46.04 L640.62 46.86 L640.91 50.11 L641.20 45.71 L641.49 49.54 L641.78 51.84 L642.07 42.68 L642.36 42.27 L642.65 42.64 L642.94 48.30 L643.23 46.01 L643.52 47.91 L643.81 49.98 L644.10 65.10 L644.39 45.95 L644.68 45.44 L644.97 48.42 L645.26 40.50 L645.55 52.81 L645.84 49.49 L646.13 42.04 L646.42 42.03 L646.71 47.42 L647.01 50.31 L647.30 42.48 L647.59 51.97 L647.88 50.89 L648.17 41.78 L648.46 40.26 L648.75 44.25 L649.04 44.24 L649.33 46.56 L649.62 52.48 L649.91 51.43 L650.20 45.39 L650.49 50.90 L650.78 47.37 L651.07 49.72 L651.36 40.08 L651.65 47.46 L651.94 47.51 L652.23 44.90 L652.52 40.07 L652.81 52.19 L653.10 51.86 L653.39 52.27 L653.68 56.07 L653.97 51.33 L654.26 42.55 L654.55 39.64 L654.84 43.67 L655.13 44.19 L655.42 46.72 L655.71 53.34 L656.00 53.65 L656.29 47.65 L656.59 48.25 L656.88 47.64 L657.17 45.34 L657.46 52.01 L657.75 54.39 L658.04 48.93 L658.33 44.69 L658.62 42.95 L658.91 46.94 L659.20 48.58 L659.49 52.09 L659.78 51.84 L660.07 52.27 L660.36 43.87 L660.65 45.25 L660.94 42.73 L661.23 43.69 L661.52 65.62 L661.81 48.96 L662.10 47.01 L662.39 36.53 L662.68 40.53 L662.97 42.99 L663.26 47.94 L663.55 48.19 L663.84 47.36 L664.13 51.17 L664.42 37.37 L664.71 38.02 L665.00 46.19 L665.29 43.03 L665.58 46.30 L665.87 44.06 L666.17 48.43 L666.46 43.68 L666.75 42.82 L667.04 49.12 L667.33 47.36 L667.62 47.78 L667.91 52.17 L668.20 51.93 L668.49 47.84 L668.78 52.08 L669.07 48.99 L669.36 51.07 L669.65 51.76 L669.94 46.96 L670.23 49.78 L670.52 45.98 L670.81 52.97 L671.10 53.81 L671.39 49.96 L671.68 48.63 L671.97 55.86 L672.26 52.67 L672.55 45.11 L672.84 44.48 L673.13 55.45 L673.42 48.95 L673.71 48.09 L674.00 50.03 L674.29 49.91 L674.58 45.90 L674.87 46.60 L675.16 50.18 L675.45 45.33" fill="none" stroke="#000" stroke-opacity="0.85" stroke-width="0.70" stroke-linejoin="miter" stroke-miterlimit="4"/>
<path d="M35.90 2.70 V72.50" stroke="#333" stroke-width="1" fill="none"/>
<text x="29.6" y="75.80" text-anchor="end" font-size="9">0</text>
<text x="29.6" y="61.84" text-anchor="end" font-size="9">1</text>
<text x="29.6" y="47.88" text-anchor="end" font-size="9">2</text>
<text x="29.6" y="33.92" text-anchor="end" font-size="9">3</text>
<text x="29.6" y="19.96" text-anchor="end" font-size="9">4</text>
<text x="29.6" y="6.00" text-anchor="end" font-size="9">5</text>
<path d="M31.90 72.50 H35.90 M31.90 58.54 H35.90 M31.90 44.58 H35.90 M31.90 30.62 H35.90 M31.90 16.66 H35.90 M31.90 2.70 H35.90" stroke="#333" stroke-width="1" fill="none"/>
<path d="M39.40 75.75 H675.60" stroke="#333" stroke-width="1" fill="none"/>
<text x="39.25" y="86.90" text-anchor="middle" font-size="8.5" letter-spacing="-0.3">2004</text>
<text x="145.28" y="86.90" text-anchor="middle" font-size="8.5" letter-spacing="-0.3">2005</text>
<text x="251.32" y="86.90" text-anchor="middle" font-size="8.5" letter-spacing="-0.3">2006</text>
<text x="357.35" y="86.90" text-anchor="middle" font-size="8.5" letter-spacing="-0.3">2007</text>
<text x="463.38" y="86.90" text-anchor="middle" font-size="8.5" letter-spacing="-0.3">2008</text>
<text x="569.42" y="86.90" text-anchor="middle" font-size="8.5" letter-spacing="-0.3">2009</text>
<text x="675.45" y="86.90" text-anchor="middle" font-size="8.5" letter-spacing="-0.3">2010</text>
<path d="M39.40 75.75 V78.75 M145.43 75.75 V78.75 M251.47 75.75 V78.75 M357.50 75.75 V78.75 M463.53 75.75 V78.75 M569.57 75.75 V78.75 M675.60 75.75 V78.75" stroke="#333" stroke-width="1" fill="none"/>
<text x="38.9" y="9.20" font-size="8.3" letter-spacing="-0.1">All staff</text>
<rect x="94.80" y="98.70" width="6.20" height="69.80" fill="#1E90FF"/>
<rect x="165.90" y="98.70" width="6.10" height="69.80" fill="#1E90FF"/>
<rect x="180.30" y="98.70" width="11.90" height="69.80" fill="#1E90FF"/>
<rect x="298.20" y="98.70" width="8.30" height="69.80" fill="#1E90FF"/>
<rect x="371.40" y="98.70" width="8.10" height="69.80" fill="#1E90FF"/>
<rect x="406.10" y="98.70" width="7.90" height="69.80" fill="#1E90FF"/>
<rect x="479.50" y="98.70" width="8.10" height="69.80" fill="#1E90FF"/>
<rect x="520.00" y="98.70" width="7.90" height="69.80" fill="#1E90FF"/>
<rect x="572.90" y="98.70" width="18.20" height="69.80" fill="#1E90FF"/>
<rect x="604.00" y="98.70" width="12.90" height="69.80" fill="#EC6464"/>
<rect x="616.90" y="98.70" width="58.90" height="69.80" fill="#924346"/>
<rect x="617.50" y="98.70" width="0.90" height="69.80" fill="#8C494D"/>
<rect x="619.01" y="98.70" width="1.18" height="69.80" fill="#8C494D"/>
<rect x="620.85" y="98.70" width="0.77" height="69.80" fill="#8C494D"/>
<rect x="623.56" y="98.70" width="0.79" height="69.80" fill="#983E41"/>
<rect x="626.07" y="98.70" width="1.06" height="69.80" fill="#983E41"/>
<rect x="627.58" y="98.70" width="1.02" height="69.80" fill="#8C494D"/>
<rect x="629.51" y="98.70" width="0.86" height="69.80" fill="#8C494D"/>
<rect x="631.04" y="98.70" width="0.96" height="69.80" fill="#8C494D"/>
<rect x="632.61" y="98.70" width="0.72" height="69.80" fill="#983E41"/>
<rect x="633.73" y="98.70" width="0.66" height="69.80" fill="#983E41"/>
<rect x="634.81" y="98.70" width="0.96" height="69.80" fill="#983E41"/>
<rect x="636.59" y="98.70" width="1.18" height="69.80" fill="#983E41"/>
<rect x="638.15" y="98.70" width="1.01" height="69.80" fill="#8C494D"/>
<rect x="639.98" y="98.70" width="0.97" height="69.80" fill="#983E41"/>
<rect x="641.88" y="98.70" width="0.94" height="69.80" fill="#8C494D"/>
<rect x="643.56" y="98.70" width="1.06" height="69.80" fill="#8C494D"/>
<rect x="645.15" y="98.70" width="0.62" height="69.80" fill="#8C494D"/>
<rect x="646.69" y="98.70" width="0.69" height="69.80" fill="#8C494D"/>
<rect x="648.10" y="98.70" width="1.02" height="69.80" fill="#983E41"/>
<rect x="649.39" y="98.70" width="0.76" height="69.80" fill="#8C494D"/>
<rect x="650.66" y="98.70" width="0.75" height="69.80" fill="#983E41"/>
<rect x="652.19" y="98.70" width="0.75" height="69.80" fill="#8C494D"/>
<rect x="655.45" y="98.70" width="0.93" height="69.80" fill="#983E41"/>
<rect x="657.12" y="98.70" width="1.11" height="69.80" fill="#983E41"/>
<rect x="658.46" y="98.70" width="0.88" height="69.80" fill="#983E41"/>
<rect x="661.60" y="98.70" width="1.10" height="69.80" fill="#8C494D"/>
<rect x="663.47" y="98.70" width="1.19" height="69.80" fill="#983E41"/>
<rect x="665.07" y="98.70" width="0.91" height="69.80" fill="#983E41"/>
<rect x="666.82" y="98.70" width="1.15" height="69.80" fill="#8C494D"/>
<rect x="668.28" y="98.70" width="0.83" height="69.80" fill="#983E41"/>
<rect x="669.82" y="98.70" width="0.75" height="69.80" fill="#983E41"/>
<rect x="671.18" y="98.70" width="0.77" height="69.80" fill="#8C494D"/>
<rect x="672.42" y="98.70" width="1.06" height="69.80" fill="#983E41"/>
<rect x="674.27" y="98.70" width="0.67" height="69.80" fill="#8C494D"/>
<path d="M39.40 167.35 L39.69 168.50 L39.98 168.50 L40.27 168.50 L40.56 168.10 L40.85 168.50 L41.14 168.50 L41.43 168.38 L41.72 167.68 L42.01 168.50 L42.30 167.66 L42.59 167.08 L42.88 166.10 L43.17 166.76 L43.46 165.86 L43.75 166.60 L44.04 167.16 L44.34 168.50 L44.63 167.24 L44.92 168.14 L45.21 167.05 L45.50 166.07 L45.79 166.42 L46.08 166.65 L46.37 167.85 L46.66 164.88 L46.95 164.57 L47.24 166.14 L47.53 166.82 L47.82 166.47 L48.11 164.89 L48.40 165.82 L48.69 163.89 L48.98 164.63 L49.27 165.92 L49.56 166.54 L49.85 166.74 L50.14 165.32 L50.43 167.22 L50.72 165.56 L51.01 166.04 L51.30 164.99 L51.59 167.84 L51.88 168.50 L52.17 168.50 L52.46 167.67 L52.75 167.50 L53.04 165.72 L53.33 168.15 L53.62 166.60 L53.92 167.47 L54.21 168.50 L54.50 167.47 L54.79 165.73 L55.08 166.76 L55.37 165.71 L55.66 164.32 L55.95 165.36 L56.24 166.72 L56.53 167.72 L56.82 166.88 L57.11 167.92 L57.40 168.05 L57.69 167.34 L57.98 166.58 L58.27 168.50 L58.56 168.10 L58.85 168.50 L59.14 166.87 L59.43 168.35 L59.72 167.82 L60.01 168.50 L60.30 168.50 L60.59 168.50 L60.88 167.08 L61.17 168.50 L61.46 168.50 L61.75 167.22 L62.04 167.66 L62.33 167.55 L62.62 167.99 L62.91 167.40 L63.20 166.54 L63.50 166.74 L63.79 167.90 L64.08 168.50 L64.37 168.50 L64.66 168.50 L64.95 167.05 L65.24 167.36 L65.53 165.80 L65.82 166.07 L66.11 166.89 L66.40 167.87 L66.69 167.06 L66.98 165.34 L67.27 166.54 L67.56 166.80 L67.85 166.85 L68.14 167.05 L68.43 168.50 L68.72 168.50 L69.01 166.84 L69.30 166.27 L69.59 166.48 L69.88 164.80 L70.17 165.69 L70.46 167.68 L70.75 165.37 L71.04 165.45 L71.33 163.84 L71.62 165.30 L71.91 164.38 L72.20 167.47 L72.49 166.42 L72.78 166.37 L73.08 165.04 L73.37 163.43 L73.66 164.86 L73.95 165.76 L74.24 165.98 L74.53 164.86 L74.82 164.74 L75.11 163.90 L75.40 163.95 L75.69 165.17 L75.98 163.90 L76.27 164.17 L76.56 165.78 L76.85 165.62 L77.14 165.39 L77.43 165.89 L77.72 165.89 L78.01 167.92 L78.30 166.76 L78.59 167.78 L78.88 165.17 L79.17 164.62 L79.46 164.61 L79.75 166.14 L80.04 167.57 L80.33 166.59 L80.62 167.02 L80.91 166.96 L81.20 167.42 L81.49 166.47 L81.78 166.84 L82.07 164.70 L82.36 165.49 L82.66 166.10 L82.95 165.94 L83.24 164.55 L83.53 166.58 L83.82 166.37 L84.11 166.54 L84.40 165.62 L84.69 166.24 L84.98 166.36 L85.27 164.68 L85.56 164.74 L85.85 166.65 L86.14 166.80 L86.43 166.76 L86.72 168.50 L87.01 165.39 L87.30 164.33 L87.59 164.19 L87.88 163.07 L88.17 163.87 L88.46 164.12 L88.75 166.00 L89.04 165.81 L89.33 163.74 L89.62 166.39 L89.91 165.28 L90.20 166.21 L90.49 168.50 L90.78 168.23 L91.07 168.50 L91.36 165.49 L91.65 166.43 L91.94 167.25 L92.24 166.96 L92.53 165.85 L92.82 168.06 L93.11 166.84 L93.40 166.50 L93.69 166.83 L93.98 166.80 L94.27 168.50 L94.56 167.95 L94.85 168.50 L95.14 168.50 L95.43 167.54 L95.72 167.37 L96.01 167.90 L96.30 168.45 L96.59 168.50 L96.88 167.35 L97.17 168.50 L97.46 166.23 L97.75 167.37 L98.04 166.70 L98.33 167.86 L98.62 166.83 L98.91 167.73 L99.20 167.92 L99.49 167.46 L99.78 166.93 L100.07 166.30 L100.36 166.64 L100.65 166.29 L100.94 166.14 L101.23 165.07 L101.52 164.36 L101.82 164.61 L102.11 166.81 L102.40 165.06 L102.69 165.03 L102.98 166.16 L103.27 162.94 L103.56 163.91 L103.85 165.66 L104.14 166.38 L104.43 166.34 L104.72 167.06 L105.01 167.99 L105.30 168.15 L105.59 164.81 L105.88 165.50 L106.17 165.96 L106.46 163.81 L106.75 164.67 L107.04 166.86 L107.33 167.57 L107.62 165.90 L107.91 168.02 L108.20 168.21 L108.49 168.44 L108.78 168.50 L109.07 168.50 L109.36 167.85 L109.65 166.99 L109.94 166.30 L110.23 165.07 L110.52 165.87 L110.81 165.81 L111.10 166.82 L111.40 165.93 L111.69 165.03 L111.98 166.19 L112.27 164.97 L112.56 165.99 L112.85 166.16 L113.14 167.00 L113.43 166.57 L113.72 163.50 L114.01 163.53 L114.30 165.70 L114.59 165.48 L114.88 164.89 L115.17 166.64 L115.46 165.24 L115.75 165.08 L116.04 166.51 L116.33 166.76 L116.62 165.73 L116.91 166.33 L117.20 166.53 L117.49 167.05 L117.78 165.71 L118.07 165.54 L118.36 165.75 L118.65 164.10 L118.94 164.59 L119.23 166.52 L119.52 165.25 L119.81 164.60 L120.10 163.95 L120.39 164.51 L120.68 165.93 L120.98 164.57 L121.27 166.23 L121.56 167.68 L121.85 164.78 L122.14 165.01 L122.43 165.99 L122.72 165.32 L123.01 165.63 L123.30 165.82 L123.59 165.58 L123.88 162.29 L124.17 164.87 L124.46 164.60 L124.75 165.34 L125.04 164.36 L125.33 166.21 L125.62 166.27 L125.91 162.87 L126.20 162.42 L126.49 163.02 L126.78 162.43 L127.07 163.15 L127.36 166.40 L127.65 163.70 L127.94 159.97 L128.23 162.20 L128.52 163.23 L128.81 164.84 L129.10 161.97 L129.39 164.36 L129.68 164.61 L129.97 159.22 L130.26 160.41 L130.56 162.18 L130.85 162.63 L131.14 162.75 L131.43 163.84 L131.72 163.15 L132.01 157.97 L132.30 162.65 L132.59 161.42 L132.88 161.94 L133.17 163.58 L133.46 165.06 L133.75 164.92 L134.04 158.95 L134.33 161.41 L134.62 161.99 L134.91 162.55 L135.20 163.49 L135.49 166.77 L135.78 163.26 L136.07 160.60 L136.36 161.14 L136.65 161.92 L136.94 164.63 L137.23 165.42 L137.52 166.34 L137.81 167.12 L138.10 164.24 L138.39 166.71 L138.68 165.70 L138.97 164.95 L139.26 164.79 L139.55 166.15 L139.84 164.54 L140.14 163.92 L140.43 163.78 L140.72 163.67 L141.01 164.87 L141.30 165.68 L141.59 165.05 L141.88 167.07 L142.17 162.71 L142.46 164.19 L142.75 166.30 L143.04 167.04 L143.33 165.90 L143.62 167.24 L143.91 166.31 L144.20 166.33 L144.49 165.51 L144.78 167.51 L145.07 166.41 L145.36 166.71 L145.65 168.50 L145.94 168.21 L146.23 168.50 L146.52 168.32 L146.81 167.76 L147.10 167.41 L147.39 167.60 L147.68 168.50 L147.97 168.30 L148.26 166.80 L148.55 165.47 L148.84 165.04 L149.13 165.82 L149.43 167.67 L149.72 167.66 L150.01 166.64 L150.30 165.56 L150.59 166.42 L150.88 167.04 L151.17 166.88 L151.46 167.11 L151.75 168.24 L152.04 167.25 L152.33 166.58 L152.62 167.21 L152.91 167.83 L153.20 166.11 L153.49 166.48 L153.78 167.75 L154.07 166.39 L154.36 166.65 L154.65 167.95 L154.94 164.59 L155.23 164.78 L155.52 166.73 L155.81 165.69 L156.10 168.48 L156.39 167.32 L156.68 167.93 L156.97 168.50 L157.26 168.50 L157.55 168.50 L157.84 168.22 L158.13 167.47 L158.42 168.50 L158.71 166.20 L159.01 167.43 L159.30 166.59 L159.59 167.05 L159.88 167.43 L160.17 168.50 L160.46 166.15 L160.75 164.94 L161.04 165.79 L161.33 165.53 L161.62 165.16 L161.91 166.76 L162.20 166.68 L162.49 165.48 L162.78 166.27 L163.07 165.46 L163.36 164.23 L163.65 164.43 L163.94 162.08 L164.23 164.86 L164.52 164.44 L164.81 164.24 L165.10 165.44 L165.39 163.80 L165.68 165.76 L165.97 165.30 L166.26 165.50 L166.55 165.63 L166.84 164.94 L167.13 166.29 L167.42 164.52 L167.71 166.48 L168.00 167.32 L168.29 167.68 L168.59 166.84 L168.88 166.37 L169.17 166.87 L169.46 166.80 L169.75 166.63 L170.04 167.62 L170.33 165.78 L170.62 167.37 L170.91 166.57 L171.20 168.47 L171.49 168.36 L171.78 167.70 L172.07 168.50 L172.36 166.80 L172.65 166.51 L172.94 165.97 L173.23 165.02 L173.52 166.43 L173.81 167.03 L174.10 168.34 L174.39 168.50 L174.68 166.21 L174.97 165.86 L175.26 166.74 L175.55 167.59 L175.84 165.64 L176.13 167.61 L176.42 165.10 L176.71 165.75 L177.00 164.95 L177.29 165.57 L177.58 165.97 L177.87 166.10 L178.17 167.55 L178.46 165.58 L178.75 163.87 L179.04 163.37 L179.33 163.72 L179.62 163.13 L179.91 165.06 L180.20 165.85 L180.49 167.79 L180.78 166.24 L181.07 165.97 L181.36 165.33 L181.65 164.60 L181.94 166.05 L182.23 167.88 L182.52 166.33 L182.81 165.20 L183.10 165.22 L183.39 165.68 L183.68 165.84 L183.97 168.50 L184.26 168.24 L184.55 167.19 L184.84 166.68 L185.13 167.15 L185.42 168.09 L185.71 165.50 L186.00 166.71 L186.29 165.43 L186.58 165.27 L186.87 165.35 L187.16 165.06 L187.45 165.85 L187.75 166.67 L188.04 167.43 L188.33 165.25 L188.62 165.60 L188.91 165.23 L189.20 165.71 L189.49 164.63 L189.78 164.59 L190.07 166.25 L190.36 166.65 L190.65 167.25 L190.94 164.95 L191.23 165.87 L191.52 167.40 L191.81 166.20 L192.10 167.03 L192.39 168.26 L192.68 166.01 L192.97 165.26 L193.26 164.57 L193.55 165.24 L193.84 167.09 L194.13 164.20 L194.42 165.37 L194.71 164.08 L195.00 163.25 L195.29 164.74 L195.58 165.37 L195.87 165.51 L196.16 164.52 L196.45 167.56 L196.74 167.38 L197.03 164.77 L197.33 165.24 L197.62 164.91 L197.91 166.56 L198.20 164.66 L198.49 165.55 L198.78 165.54 L199.07 163.24 L199.36 164.06 L199.65 165.17 L199.94 166.40 L200.23 167.61 L200.52 167.57 L200.81 168.03 L201.10 166.14 L201.39 168.11 L201.68 166.99 L201.97 166.74 L202.26 164.93 L202.55 166.71 L202.84 165.60 L203.13 164.72 L203.42 163.41 L203.71 165.49 L204.00 165.22 L204.29 164.07 L204.58 164.56 L204.87 164.35 L205.16 163.69 L205.45 163.87 L205.74 162.41 L206.03 161.64 L206.32 163.57 L206.61 164.47 L206.91 164.45 L207.20 162.07 L207.49 162.57 L207.78 162.91 L208.07 164.44 L208.36 165.13 L208.65 165.75 L208.94 164.77 L209.23 161.99 L209.52 163.29 L209.81 164.47 L210.10 162.68 L210.39 162.98 L210.68 166.67 L210.97 165.74 L211.26 163.24 L211.55 164.41 L211.84 163.51 L212.13 162.67 L212.42 164.24 L212.71 166.05 L213.00 164.93 L213.29 164.45 L213.58 163.63 L213.87 164.03 L214.16 164.88 L214.45 164.09 L214.74 163.43 L215.03 165.75 L215.32 163.61 L215.61 165.08 L215.90 166.10 L216.19 165.98 L216.49 163.65 L216.78 165.34 L217.07 166.88 L217.36 164.89 L217.65 163.76 L217.94 164.11 L218.23 165.40 L218.52 165.52 L218.81 166.67 L219.10 165.91 L219.39 163.84 L219.68 166.64 L219.97 164.20 L220.26 166.40 L220.55 164.55 L220.84 164.17 L221.13 164.79 L221.42 163.75 L221.71 163.65 L222.00 164.89 L222.29 165.82 L222.58 166.43 L222.87 164.72 L223.16 166.32 L223.45 166.01 L223.74 166.66 L224.03 166.90 L224.32 166.15 L224.61 166.29 L224.90 166.69 L225.19 165.62 L225.48 165.09 L225.77 165.04 L226.07 164.32 L226.36 165.82 L226.65 166.71 L226.94 166.88 L227.23 167.25 L227.52 167.05 L227.81 167.25 L228.10 167.30 L228.39 167.05 L228.68 167.23 L228.97 168.50 L229.26 168.50 L229.55 167.63 L229.84 167.65 L230.13 166.54 L230.42 165.61 L230.71 166.36 L231.00 167.42 L231.29 167.78 L231.58 165.24 L231.87 165.91 L232.16 166.53 L232.45 167.73 L232.74 166.17 L233.03 166.60 L233.32 168.03 L233.61 165.79 L233.90 168.50 L234.19 167.79 L234.48 168.24 L234.77 168.50 L235.06 168.50 L235.35 167.56 L235.65 166.29 L235.94 168.18 L236.23 167.74 L236.52 166.58 L236.81 167.88 L237.10 168.50 L237.39 168.14 L237.68 167.17 L237.97 165.51 L238.26 166.87 L238.55 167.28 L238.84 166.05 L239.13 167.78 L239.42 166.73 L239.71 165.86 L240.00 166.21 L240.29 167.89 L240.58 167.37 L240.87 167.90 L241.16 168.50 L241.45 168.50 L241.74 167.36 L242.03 167.26 L242.32 166.90 L242.61 167.84 L242.90 165.90 L243.19 166.24 L243.48 168.20 L243.77 164.33 L244.06 166.79 L244.35 168.50 L244.64 166.62 L244.93 167.91 L245.23 167.41 L245.52 167.78 L245.81 164.48 L246.10 164.30 L246.39 165.12 L246.68 165.22 L246.97 165.54 L247.26 165.79 L247.55 165.61 L247.84 164.29 L248.13 164.73 L248.42 164.31 L248.71 164.29 L249.00 166.18 L249.29 166.12 L249.58 164.78 L249.87 168.11 L250.16 167.70 L250.45 168.23 L250.74 167.82 L251.03 168.50 L251.32 168.46 L251.61 167.70 L251.90 167.15 L252.19 166.84 L252.48 166.88 L252.77 168.50 L253.06 165.92 L253.35 167.08 L253.64 168.34 L253.93 166.09 L254.22 166.37 L254.51 168.41 L254.81 165.74 L255.10 167.88 L255.39 168.25 L255.68 168.44 L255.97 166.95 L256.26 166.58 L256.55 167.57 L256.84 168.37 L257.13 168.50 L257.42 167.90 L257.71 167.86 L258.00 167.82 L258.29 168.05 L258.58 166.35 L258.87 167.69 L259.16 167.70 L259.45 167.61 L259.74 166.86 L260.03 165.27 L260.32 164.22 L260.61 164.52 L260.90 166.22 L261.19 168.42 L261.48 167.55 L261.77 165.56 L262.06 164.22 L262.35 162.52 L262.64 165.01 L262.93 165.32 L263.22 164.21 L263.51 164.81 L263.80 165.34 L264.09 164.89 L264.39 167.22 L264.68 165.87 L264.97 164.19 L265.26 166.03 L265.55 164.24 L265.84 163.25 L266.13 160.89 L266.42 163.54 L266.71 164.10 L267.00 165.78 L267.29 166.83 L267.58 168.36 L267.87 167.14 L268.16 166.09 L268.45 165.52 L268.74 164.22 L269.03 163.44 L269.32 165.18 L269.61 165.09 L269.90 163.86 L270.19 165.27 L270.48 164.13 L270.77 167.70 L271.06 168.17 L271.35 168.50 L271.64 168.50 L271.93 167.94 L272.22 166.24 L272.51 166.92 L272.80 167.43 L273.09 166.74 L273.38 167.12 L273.67 166.77 L273.97 165.58 L274.26 167.85 L274.55 166.30 L274.84 167.39 L275.13 167.77 L275.42 167.47 L275.71 167.97 L276.00 168.04 L276.29 167.71 L276.58 166.44 L276.87 165.22 L277.16 166.09 L277.45 166.00 L277.74 166.13 L278.03 166.29 L278.32 165.39 L278.61 168.22 L278.90 167.11 L279.19 168.38 L279.48 167.29 L279.77 168.50 L280.06 167.32 L280.35 164.54 L280.64 167.18 L280.93 166.14 L281.22 166.64 L281.51 167.11 L281.80 167.82 L282.09 165.83 L282.38 163.89 L282.67 165.51 L282.96 165.82 L283.25 165.76 L283.55 164.45 L283.84 165.09 L284.13 165.43 L284.42 163.00 L284.71 162.19 L285.00 163.80 L285.29 164.65 L285.58 165.49 L285.87 167.56 L286.16 166.53 L286.45 165.43 L286.74 165.84 L287.03 167.99 L287.32 167.36 L287.61 167.23 L287.90 167.90 L288.19 166.16 L288.48 166.50 L288.77 166.44 L289.06 166.95 L289.35 166.18 L289.64 166.04 L289.93 167.48 L290.22 166.62 L290.51 163.87 L290.80 165.89 L291.09 163.04 L291.38 162.32 L291.67 164.39 L291.96 164.49 L292.25 163.67 L292.54 161.59 L292.83 163.13 L293.13 164.53 L293.42 164.09 L293.71 164.40 L294.00 163.23 L294.29 164.72 L294.58 159.93 L294.87 160.68 L295.16 161.85 L295.45 162.88 L295.74 163.52 L296.03 165.05 L296.32 166.41 L296.61 161.82 L296.90 161.84 L297.19 163.49 L297.48 163.34 L297.77 164.33 L298.06 165.19 L298.35 164.41 L298.64 162.54 L298.93 164.02 L299.22 162.91 L299.51 164.88 L299.80 164.31 L300.09 165.21 L300.38 165.19 L300.67 162.37 L300.96 163.28 L301.25 162.14 L301.54 162.69 L301.83 162.10 L302.12 164.86 L302.41 165.33 L302.71 163.58 L303.00 163.73 L303.29 164.05 L303.58 164.01 L303.87 165.30 L304.16 164.91 L304.45 166.45 L304.74 165.20 L305.03 164.55 L305.32 166.74 L305.61 166.16 L305.90 165.86 L306.19 166.91 L306.48 164.66 L306.77 164.52 L307.06 165.86 L307.35 165.47 L307.64 165.35 L307.93 164.76 L308.22 166.57 L308.51 166.83 L308.80 165.36 L309.09 166.60 L309.38 166.20 L309.67 166.57 L309.96 165.72 L310.25 167.38 L310.54 165.71 L310.83 166.22 L311.12 168.13 L311.41 166.14 L311.70 165.71 L311.99 165.88 L312.29 167.00 L312.58 167.83 L312.87 168.38 L313.16 167.53 L313.45 168.10 L313.74 166.34 L314.03 166.54 L314.32 168.28 L314.61 167.66 L314.90 167.51 L315.19 165.79 L315.48 165.37 L315.77 163.35 L316.06 164.52 L316.35 167.24 L316.64 165.32 L316.93 164.46 L317.22 163.11 L317.51 164.04 L317.80 164.49 L318.09 162.68 L318.38 163.90 L318.67 163.47 L318.96 163.59 L319.25 162.70 L319.54 164.52 L319.83 163.79 L320.12 165.52 L320.41 167.16 L320.70 165.45 L320.99 163.73 L321.28 161.67 L321.57 162.31 L321.87 162.20 L322.16 163.31 L322.45 162.13 L322.74 164.96 L323.03 162.05 L323.32 164.40 L323.61 164.06 L323.90 164.76 L324.19 164.19 L324.48 167.24 L324.77 167.21 L325.06 165.47 L325.35 166.64 L325.64 164.41 L325.93 164.85 L326.22 164.53 L326.51 165.47 L326.80 165.53 L327.09 162.68 L327.38 162.51 L327.67 161.47 L327.96 164.43 L328.25 164.56 L328.54 164.97 L328.83 163.57 L329.12 165.55 L329.41 164.28 L329.70 165.20 L329.99 166.94 L330.28 164.74 L330.57 163.80 L330.86 164.03 L331.15 163.27 L331.45 161.48 L331.74 161.41 L332.03 161.02 L332.32 164.08 L332.61 164.86 L332.90 165.27 L333.19 161.56 L333.48 161.68 L333.77 162.59 L334.06 163.03 L334.35 165.15 L334.64 165.66 L334.93 166.20 L335.22 163.92 L335.51 164.19 L335.80 163.24 L336.09 163.96 L336.38 165.28 L336.67 166.47 L336.96 165.11 L337.25 163.21 L337.54 163.94 L337.83 163.98 L338.12 161.56 L338.41 160.69 L338.70 162.99 L338.99 163.75 L339.28 158.65 L339.57 160.18 L339.86 163.09 L340.15 164.32 L340.44 166.49 L340.73 165.63 L341.03 167.16 L341.32 162.71 L341.61 162.72 L341.90 163.43 L342.19 161.32 L342.48 163.25 L342.77 164.80 L343.06 163.55 L343.35 161.90 L343.64 163.15 L343.93 161.88 L344.22 162.85 L344.51 163.32 L344.80 165.18 L345.09 165.06 L345.38 160.91 L345.67 163.42 L345.96 164.34 L346.25 165.16 L346.54 164.41 L346.83 165.18 L347.12 163.64 L347.41 161.86 L347.70 163.83 L347.99 163.74 L348.28 163.16 L348.57 163.18 L348.86 166.12 L349.15 164.28 L349.44 162.34 L349.73 162.61 L350.02 161.92 L350.31 163.48 L350.61 162.82 L350.90 165.22 L351.19 164.97 L351.48 161.87 L351.77 162.94 L352.06 163.83 L352.35 164.35 L352.64 164.27 L352.93 163.62 L353.22 163.52 L353.51 160.75 L353.80 162.08 L354.09 163.08 L354.38 163.15 L354.67 163.27 L354.96 164.87 L355.25 164.73 L355.54 163.66 L355.83 161.68 L356.12 164.73 L356.41 163.85 L356.70 163.90 L356.99 164.66 L357.28 163.80 L357.57 163.03 L357.86 164.49 L358.15 164.37 L358.44 164.66 L358.73 164.40 L359.02 165.74 L359.31 165.27 L359.60 163.11 L359.90 163.88 L360.19 165.27 L360.48 164.66 L360.77 163.93 L361.06 165.90 L361.35 164.82 L361.64 162.59 L361.93 162.69 L362.22 164.77 L362.51 165.18 L362.80 164.18 L363.09 164.77 L363.38 167.85 L363.67 164.38 L363.96 164.56 L364.25 164.05 L364.54 163.26 L364.83 164.51 L365.12 166.69 L365.41 164.93 L365.70 162.59 L365.99 163.22 L366.28 165.14 L366.57 164.22 L366.86 166.46 L367.15 165.33 L367.44 163.99 L367.73 162.59 L368.02 162.36 L368.31 164.52 L368.60 165.08 L368.89 166.86 L369.18 167.60 L369.48 165.94 L369.77 163.26 L370.06 163.88 L370.35 162.97 L370.64 162.91 L370.93 164.17 L371.22 167.02 L371.51 163.38 L371.80 162.88 L372.09 161.19 L372.38 163.61 L372.67 164.05 L372.96 164.42 L373.25 165.49 L373.54 163.70 L373.83 161.68 L374.12 163.47 L374.41 163.51 L374.70 164.40 L374.99 166.01 L375.28 165.53 L375.57 166.05 L375.86 164.68 L376.15 163.70 L376.44 165.32 L376.73 164.26 L377.02 165.65 L377.31 165.67 L377.60 166.18 L377.89 162.61 L378.18 163.90 L378.47 162.62 L378.76 162.11 L379.06 162.86 L379.35 165.11 L379.64 164.87 L379.93 164.16 L380.22 162.28 L380.51 163.46 L380.80 164.80 L381.09 166.35 L381.38 167.85 L381.67 167.20 L381.96 164.34 L382.25 164.18 L382.54 165.39 L382.83 165.15 L383.12 165.54 L383.41 165.88 L383.70 164.75 L383.99 163.52 L384.28 165.73 L384.57 167.88 L384.86 168.50 L385.15 168.33 L385.44 168.50 L385.73 168.47 L386.02 167.98 L386.31 165.07 L386.60 166.96 L386.89 165.52 L387.18 164.92 L387.47 166.77 L387.76 165.80 L388.05 162.10 L388.34 163.43 L388.64 163.73 L388.93 163.85 L389.22 164.32 L389.51 164.45 L389.80 164.75 L390.09 162.69 L390.38 162.86 L390.67 162.18 L390.96 164.26 L391.25 164.45 L391.54 165.76 L391.83 164.95 L392.12 162.00 L392.41 162.59 L392.70 163.06 L392.99 163.21 L393.28 164.56 L393.57 164.60 L393.86 165.47 L394.15 162.14 L394.44 162.59 L394.73 163.24 L395.02 162.64 L395.31 165.21 L395.60 164.33 L395.89 164.79 L396.18 162.97 L396.47 162.51 L396.76 165.37 L397.05 164.21 L397.34 165.29 L397.63 166.66 L397.92 165.92 L398.22 164.08 L398.51 164.37 L398.80 162.95 L399.09 161.96 L399.38 162.81 L399.67 161.82 L399.96 162.42 L400.25 161.01 L400.54 162.52 L400.83 162.93 L401.12 164.79 L401.41 164.29 L401.70 165.64 L401.99 164.24 L402.28 163.23 L402.57 164.81 L402.86 166.01 L403.15 164.65 L403.44 162.62 L403.73 165.99 L404.02 165.13 L404.31 162.35 L404.60 163.33 L404.89 162.51 L405.18 163.80 L405.47 164.78 L405.76 167.41 L406.05 164.85 L406.34 162.53 L406.63 164.03 L406.92 162.33 L407.21 164.05 L407.50 163.33 L407.80 163.33 L408.09 164.63 L408.38 163.62 L408.67 163.42 L408.96 165.48 L409.25 165.67 L409.54 166.56 L409.83 166.49 L410.12 165.49 L410.41 164.38 L410.70 165.70 L410.99 164.09 L411.28 166.47 L411.57 166.53 L411.86 166.65 L412.15 164.83 L412.44 164.41 L412.73 164.23 L413.02 165.13 L413.31 165.05 L413.60 164.99 L413.89 167.44 L414.18 167.23 L414.47 163.51 L414.76 161.82 L415.05 162.03 L415.34 161.87 L415.63 163.62 L415.92 165.17 L416.21 164.81 L416.50 164.64 L416.79 163.41 L417.08 165.45 L417.38 163.86 L417.67 165.38 L417.96 165.97 L418.25 167.56 L418.54 164.20 L418.83 165.88 L419.12 164.08 L419.41 164.03 L419.70 164.32 L419.99 164.50 L420.28 166.42 L420.57 163.95 L420.86 165.92 L421.15 166.18 L421.44 166.89 L421.73 164.54 L422.02 165.16 L422.31 164.38 L422.60 163.75 L422.89 164.35 L423.18 162.57 L423.47 163.33 L423.76 165.60 L424.05 165.94 L424.34 167.52 L424.63 163.47 L424.92 164.24 L425.21 164.13 L425.50 165.72 L425.79 165.34 L426.08 165.15 L426.37 164.23 L426.66 162.99 L426.96 163.50 L427.25 165.51 L427.54 165.48 L427.83 163.77 L428.12 165.10 L428.41 166.04 L428.70 164.35 L428.99 166.46 L429.28 166.37 L429.57 166.40 L429.86 164.70 L430.15 166.00 L430.44 166.21 L430.73 164.41 L431.02 164.82 L431.31 165.85 L431.60 165.00 L431.89 165.60 L432.18 165.70 L432.47 166.06 L432.76 165.87 L433.05 165.17 L433.34 166.79 L433.63 166.63 L433.92 167.46 L434.21 166.86 L434.50 167.67 L434.79 163.98 L435.08 162.43 L435.37 163.86 L435.66 165.83 L435.95 164.69 L436.24 166.35 L436.54 164.11 L436.83 163.29 L437.12 162.96 L437.41 163.22 L437.70 165.05 L437.99 163.28 L438.28 165.44 L438.57 166.21 L438.86 163.04 L439.15 163.03 L439.44 165.16 L439.73 166.58 L440.02 164.76 L440.31 166.91 L440.60 166.39 L440.89 165.40 L441.18 165.92 L441.47 165.07 L441.76 164.38 L442.05 164.31 L442.34 164.88 L442.63 165.52 L442.92 164.13 L443.21 164.30 L443.50 163.67 L443.79 164.07 L444.08 165.76 L444.37 165.56 L444.66 164.51 L444.95 163.14 L445.24 163.78 L445.53 162.41 L445.82 161.44 L446.12 162.99 L446.41 164.70 L446.70 164.54 L446.99 164.06 L447.28 163.79 L447.57 163.71 L447.86 162.75 L448.15 164.06 L448.44 163.81 L448.73 166.80 L449.02 164.32 L449.31 164.52 L449.60 163.00 L449.89 163.91 L450.18 163.09 L450.47 164.49 L450.76 164.51 L451.05 161.53 L451.34 160.65 L451.63 162.66 L451.92 164.53 L452.21 164.85 L452.50 162.06 L452.79 164.46 L453.08 162.27 L453.37 161.04 L453.66 161.07 L453.95 163.25 L454.24 164.11 L454.53 163.34 L454.82 163.54 L455.11 161.17 L455.40 160.47 L455.70 163.72 L455.99 161.43 L456.28 161.42 L456.57 160.79 L456.86 163.04 L457.15 160.09 L457.44 161.58 L457.73 160.99 L458.02 161.57 L458.31 162.20 L458.60 164.36 L458.89 162.07 L459.18 159.55 L459.47 160.21 L459.76 161.10 L460.05 162.19 L460.34 163.84 L460.63 165.36 L460.92 163.44 L461.21 159.76 L461.50 159.92 L461.79 161.82 L462.08 162.82 L462.37 162.24 L462.66 163.74 L462.95 164.24 L463.24 159.43 L463.53 160.00 L463.82 160.43 L464.11 161.39 L464.40 161.77 L464.69 163.94 L464.98 164.74 L465.28 158.31 L465.57 158.42 L465.86 159.89 L466.15 159.86 L466.44 159.52 L466.73 162.67 L467.02 162.94 L467.31 157.28 L467.60 159.53 L467.89 158.37 L468.18 159.12 L468.47 159.77 L468.76 161.78 L469.05 161.16 L469.34 157.34 L469.63 159.46 L469.92 159.62 L470.21 160.64 L470.50 159.77 L470.79 165.02 L471.08 162.97 L471.37 158.56 L471.66 160.26 L471.95 161.42 L472.24 161.98 L472.53 161.00 L472.82 163.25 L473.11 161.97 L473.40 157.88 L473.69 160.28 L473.98 159.99 L474.27 160.83 L474.56 160.88 L474.86 163.25 L475.15 162.98 L475.44 160.51 L475.73 158.76 L476.02 160.71 L476.31 161.09 L476.60 159.54 L476.89 163.39 L477.18 161.96 L477.47 157.92 L477.76 158.00 L478.05 160.59 L478.34 160.43 L478.63 161.96 L478.92 161.80 L479.21 161.62 L479.50 157.38 L479.79 158.96 L480.08 159.07 L480.37 159.09 L480.66 161.52 L480.95 165.20 L481.24 164.03 L481.53 159.20 L481.82 160.96 L482.11 161.22 L482.40 162.88 L482.69 163.38 L482.98 164.40 L483.27 162.53 L483.56 158.10 L483.85 160.34 L484.14 159.24 L484.44 159.38 L484.73 159.32 L485.02 161.87 L485.31 161.15 L485.60 158.02 L485.89 159.13 L486.18 158.52 L486.47 160.24 L486.76 162.35 L487.05 161.33 L487.34 163.03 L487.63 159.11 L487.92 159.73 L488.21 162.87 L488.50 160.66 L488.79 161.38 L489.08 164.09 L489.37 163.30 L489.66 160.03 L489.95 160.65 L490.24 160.06 L490.53 161.88 L490.82 161.41 L491.11 161.59 L491.40 162.13 L491.69 157.64 L491.98 159.85 L492.27 161.05 L492.56 160.67 L492.85 159.60 L493.14 163.06 L493.43 161.88 L493.72 158.06 L494.02 158.34 L494.31 159.76 L494.60 162.58 L494.89 162.36 L495.18 162.62 L495.47 162.65 L495.76 159.01 L496.05 159.15 L496.34 159.69 L496.63 159.48 L496.92 161.48 L497.21 163.39 L497.50 164.66 L497.79 159.45 L498.08 158.65 L498.37 161.61 L498.66 161.69 L498.95 163.25 L499.24 162.78 L499.53 163.50 L499.82 158.32 L500.11 160.83 L500.40 162.52 L500.69 159.60 L500.98 162.40 L501.27 163.31 L501.56 161.98 L501.85 157.68 L502.14 161.49 L502.43 161.19 L502.72 161.02 L503.01 162.01 L503.30 163.29 L503.60 162.82 L503.89 157.86 L504.18 159.46 L504.47 161.32 L504.76 160.84 L505.05 160.84 L505.34 162.11 L505.63 162.35 L505.92 158.37 L506.21 158.71 L506.50 160.30 L506.79 160.96 L507.08 161.14 L507.37 163.39 L507.66 161.78 L507.95 159.16 L508.24 159.26 L508.53 161.63 L508.82 160.59 L509.11 161.35 L509.40 165.26 L509.69 163.30 L509.98 158.98 L510.27 161.17 L510.56 161.96 L510.85 163.61 L511.14 163.28 L511.43 164.85 L511.72 162.41 L512.01 158.39 L512.30 159.29 L512.59 160.13 L512.88 159.05 L513.18 158.82 L513.47 161.60 L513.76 161.31 L514.05 157.44 L514.34 157.67 L514.63 158.49 L514.92 160.26 L515.21 162.45 L515.50 163.33 L515.79 162.15 L516.08 158.31 L516.37 160.20 L516.66 160.98 L516.95 159.78 L517.24 160.42 L517.53 163.00 L517.82 160.72 L518.11 157.22 L518.40 158.27 L518.69 158.08 L518.98 158.96 L519.27 160.56 L519.56 164.03 L519.85 163.88 L520.14 159.74 L520.43 160.54 L520.72 161.76 L521.01 160.73 L521.30 161.58 L521.59 164.68 L521.88 162.73 L522.17 160.43 L522.46 160.49 L522.76 160.67 L523.05 160.79 L523.34 162.68 L523.63 164.97 L523.92 163.98 L524.21 161.78 L524.50 161.81 L524.79 161.79 L525.08 163.06 L525.37 161.72 L525.66 165.11 L525.95 164.91 L526.24 159.89 L526.53 160.73 L526.82 161.32 L527.11 162.53 L527.40 162.37 L527.69 165.59 L527.98 165.91 L528.27 162.19 L528.56 159.88 L528.85 161.96 L529.14 162.34 L529.43 162.30 L529.72 164.58 L530.01 163.95 L530.30 159.24 L530.59 159.72 L530.88 162.24 L531.17 161.71 L531.46 161.53 L531.75 164.65 L532.04 164.26 L532.34 159.80 L532.63 161.78 L532.92 162.42 L533.21 160.44 L533.50 162.22 L533.79 165.91 L534.08 164.66 L534.37 161.82 L534.66 161.11 L534.95 163.28 L535.24 162.90 L535.53 162.58 L535.82 165.58 L536.11 165.33 L536.40 161.16 L536.69 162.98 L536.98 162.53 L537.27 164.23 L537.56 162.33 L537.85 163.25 L538.14 163.09 L538.43 159.37 L538.72 158.51 L539.01 158.94 L539.30 160.34 L539.59 161.01 L539.88 162.69 L540.17 162.61 L540.46 158.79 L540.75 158.16 L541.04 159.32 L541.33 159.40 L541.62 159.70 L541.92 163.78 L542.21 161.01 L542.50 156.40 L542.79 157.10 L543.08 157.05 L543.37 158.46 L543.66 160.25 L543.95 163.00 L544.24 164.45 L544.53 159.96 L544.82 158.66 L545.11 161.39 L545.40 163.34 L545.69 162.59 L545.98 164.62 L546.27 166.31 L546.56 160.63 L546.85 162.55 L547.14 161.26 L547.43 163.18 L547.72 161.03 L548.01 166.58 L548.30 165.18 L548.59 161.54 L548.88 160.80 L549.17 162.22 L549.46 162.36 L549.75 163.02 L550.04 164.97 L550.33 164.32 L550.62 160.37 L550.91 161.95 L551.20 161.25 L551.50 161.01 L551.79 161.45 L552.08 164.15 L552.37 164.73 L552.66 159.77 L552.95 162.22 L553.24 161.33 L553.53 161.49 L553.82 162.18 L554.11 164.97 L554.40 165.42 L554.69 160.10 L554.98 160.91 L555.27 162.26 L555.56 161.47 L555.85 162.38 L556.14 162.07 L556.43 162.69 L556.72 160.70 L557.01 159.54 L557.30 160.62 L557.59 159.71 L557.88 161.02 L558.17 163.38 L558.46 163.05 L558.75 158.72 L559.04 159.91 L559.33 158.86 L559.62 161.51 L559.91 162.10 L560.20 165.33 L560.49 165.47 L560.78 160.34 L561.08 162.95 L561.37 163.16 L561.66 160.57 L561.95 163.21 L562.24 162.86 L562.53 164.06 L562.82 159.69 L563.11 161.53 L563.40 159.51 L563.69 160.25 L563.98 160.95 L564.27 163.10 L564.56 162.31 L564.85 159.80 L565.14 160.57 L565.43 162.40 L565.72 163.42 L566.01 161.82 L566.30 164.48 L566.59 160.63 L566.88 157.69 L567.17 158.81 L567.46 160.42 L567.75 160.09 L568.04 160.83 L568.33 160.53 L568.62 160.15 L568.91 154.75 L569.20 156.68 L569.49 159.07 L569.78 157.50 L570.07 160.96 L570.37 162.62 L570.66 160.61 L570.95 155.97 L571.24 158.95 L571.53 158.90 L571.82 158.80 L572.11 159.09 L572.40 162.15 L572.69 160.95 L572.98 155.78 L573.27 154.92 L573.56 157.80 L573.85 155.89 L574.14 158.83 L574.43 160.37 L574.72 158.87 L575.01 153.03 L575.30 153.09 L575.59 154.17 L575.88 155.88 L576.17 156.41 L576.46 160.29 L576.75 159.28 L577.04 153.34 L577.33 152.39 L577.62 155.29 L577.91 156.50 L578.20 157.10 L578.49 161.16 L578.78 160.61 L579.07 153.06 L579.36 154.20 L579.65 154.79 L579.95 157.09 L580.24 158.15 L580.53 162.07 L580.82 160.99 L581.11 155.07 L581.40 156.49 L581.69 157.84 L581.98 158.76 L582.27 159.57 L582.56 161.26 L582.85 159.33 L583.14 153.97 L583.43 155.14 L583.72 158.28 L584.01 157.86 L584.30 158.90 L584.59 162.02 L584.88 161.32 L585.17 156.19 L585.46 156.54 L585.75 157.25 L586.04 156.38 L586.33 158.92 L586.62 162.66 L586.91 159.62 L587.20 154.48 L587.49 156.52 L587.78 156.02 L588.07 158.68 L588.36 159.60 L588.65 159.83 L588.94 159.92 L589.23 155.84 L589.53 156.77 L589.82 158.01 L590.11 160.04 L590.40 160.00 L590.69 162.02 L590.98 162.65 L591.27 158.25 L591.56 158.37 L591.85 159.41 L592.14 160.42 L592.43 158.25 L592.72 160.11 L593.01 161.01 L593.30 158.45 L593.59 158.02 L593.88 157.74 L594.17 162.67 L594.46 163.40 L594.75 162.30 L595.04 161.52 L595.33 158.47 L595.62 157.98 L595.91 159.00 L596.20 158.15 L596.49 158.65 L596.78 161.29 L597.07 162.63 L597.36 159.58 L597.65 159.51 L597.94 160.71 L598.23 162.64 L598.52 161.30 L598.81 164.64 L599.11 162.95 L599.40 160.19 L599.69 162.07 L599.98 161.86 L600.27 161.11 L600.56 161.19 L600.85 165.67 L601.14 165.41 L601.43 162.92 L601.72 163.16 L602.01 163.31 L602.30 163.71 L602.59 163.37 L602.88 164.39 L603.17 164.45 L603.46 162.66 L603.75 163.88 L604.04 165.82 L604.33 165.09 L604.62 164.63 L604.91 164.70 L605.20 164.87 L605.49 160.03 L605.78 161.57 L606.07 163.91 L606.36 163.20 L606.65 164.44 L606.94 167.48 L607.23 165.17 L607.52 162.26 L607.81 162.60 L608.10 163.71 L608.39 165.14 L608.69 165.02 L608.98 164.87 L609.27 164.04 L609.56 162.70 L609.85 163.70 L610.14 164.48 L610.43 168.26 L610.72 166.68 L611.01 168.50 L611.30 168.50 L611.59 163.60 L611.88 166.42 L612.17 165.62 L612.46 165.31 L612.75 168.41 L613.04 168.50 L613.33 166.82 L613.62 165.23 L613.91 163.82 L614.20 164.49 L614.49 162.84 L614.78 165.50 L615.07 164.67 L615.36 163.87 L615.65 164.35 L615.94 162.76 L616.23 164.73 L616.52 163.98 L616.81 166.09 L617.10 164.45 L617.39 164.31 L617.68 162.78 L617.97 163.87 L618.27 163.62 L618.56 164.71 L618.85 163.50 L619.14 162.76 L619.43 161.65 L619.72 159.42 L620.01 160.68 L620.30 161.43 L620.59 164.37 L620.88 162.14 L621.17 165.09 L621.46 162.63 L621.75 158.64 L622.04 159.10 L622.33 162.10 L622.62 162.51 L622.91 161.11 L623.20 164.98 L623.49 164.05 L623.78 158.81 L624.07 161.17 L624.36 161.07 L624.65 162.85 L624.94 162.62 L625.23 161.67 L625.52 162.10 L625.81 156.44 L626.10 161.43 L626.39 160.52 L626.68 158.91 L626.97 161.14 L627.26 160.80 L627.55 160.10 L627.85 157.90 L628.14 158.25 L628.43 160.36 L628.72 160.38 L629.01 160.52 L629.30 162.28 L629.59 163.65 L629.88 161.59 L630.17 160.78 L630.46 162.01 L630.75 163.60 L631.04 163.40 L631.33 163.61 L631.62 162.39 L631.91 159.85 L632.20 162.96 L632.49 161.41 L632.78 161.02 L633.07 164.00 L633.36 164.97 L633.65 160.68 L633.94 163.13 L634.23 157.98 L634.52 157.90 L634.81 159.04 L635.10 160.14 L635.39 163.26 L635.68 158.85 L635.97 158.63 L636.26 159.05 L636.55 158.01 L636.84 159.42 L637.13 160.91 L637.43 162.92 L637.72 163.67 L638.01 157.30 L638.30 160.79 L638.59 163.04 L638.88 158.41 L639.17 160.08 L639.46 162.48 L639.75 163.07 L640.04 156.19 L640.33 160.38 L640.62 162.60 L640.91 161.00 L641.20 159.79 L641.49 161.42 L641.78 159.11 L642.07 156.52 L642.36 156.44 L642.65 157.39 L642.94 159.22 L643.23 162.31 L643.52 165.65 L643.81 166.94 L644.10 162.23 L644.39 163.52 L644.68 163.44 L644.97 163.30 L645.26 163.17 L645.55 162.93 L645.84 164.10 L646.13 158.71 L646.42 160.17 L646.71 160.65 L647.01 160.56 L647.30 161.10 L647.59 165.12 L647.88 162.47 L648.17 157.71 L648.46 161.52 L648.75 161.85 L649.04 160.95 L649.33 162.07 L649.62 162.48 L649.91 162.48 L650.20 154.65 L650.49 157.68 L650.78 162.03 L651.07 161.51 L651.36 159.17 L651.65 163.10 L651.94 161.97 L652.23 159.86 L652.52 161.16 L652.81 160.68 L653.10 161.33 L653.39 160.75 L653.68 161.09 L653.97 157.11 L654.26 153.87 L654.55 156.69 L654.84 156.76 L655.13 160.07 L655.42 163.54 L655.71 162.43 L656.00 164.94 L656.29 158.86 L656.59 158.89 L656.88 158.61 L657.17 162.15 L657.46 158.90 L657.75 160.25 L658.04 162.70 L658.33 159.44 L658.62 160.06 L658.91 160.49 L659.20 160.90 L659.49 157.62 L659.78 162.36 L660.07 161.05 L660.36 157.21 L660.65 161.10 L660.94 160.12 L661.23 159.09 L661.52 159.01 L661.81 165.55 L662.10 160.82 L662.39 156.43 L662.68 158.65 L662.97 156.51 L663.26 157.79 L663.55 158.26 L663.84 162.27 L664.13 161.39 L664.42 156.14 L664.71 157.20 L665.00 157.86 L665.29 156.40 L665.58 160.37 L665.87 160.86 L666.17 162.44 L666.46 153.88 L666.75 156.70 L667.04 156.32 L667.33 155.19 L667.62 155.09 L667.91 159.14 L668.20 158.89 L668.49 149.86 L668.78 154.04 L669.07 157.47 L669.36 156.45 L669.65 156.32 L669.94 159.58 L670.23 158.69 L670.52 151.62 L670.81 156.69 L671.10 156.83 L671.39 157.34 L671.68 158.64 L671.97 159.68 L672.26 160.16 L672.55 153.28 L672.84 156.92 L673.13 157.85 L673.42 159.52 L673.71 159.55 L674.00 162.02 L674.29 162.45 L674.58 154.99 L674.87 157.36 L675.16 159.34 L675.45 159.66" fill="none" stroke="#000" stroke-opacity="0.85" stroke-width="0.70" stroke-linejoin="miter" stroke-miterlimit="4"/>
<path d="M35.90 98.70 V168.50" stroke="#333" stroke-width="1" fill="none"/>
<text x="29.6" y="171.80" text-anchor="end" font-size="9">0</text>
<text x="29.6" y="157.84" text-anchor="end" font-size="9">1</text>
<text x="29.6" y="143.88" text-anchor="end" font-size="9">2</text>
<text x="29.6" y="129.92" text-anchor="end" font-size="9">3</text>
<text x="29.6" y="115.96" text-anchor="end" font-size="9">4</text>
<text x="29.6" y="102.00" text-anchor="end" font-size="9">5</text>
<path d="M31.90 168.50 H35.90 M31.90 154.54 H35.90 M31.90 140.58 H35.90 M31.90 126.62 H35.90 M31.90 112.66 H35.90 M31.90 98.70 H35.90" stroke="#333" stroke-width="1" fill="none"/>
<path d="M39.40 171.75 H675.60" stroke="#333" stroke-width="1" fill="none"/>
<text x="39.25" y="182.90" text-anchor="middle" font-size="8.5" letter-spacing="-0.3">2004</text>
<text x="145.28" y="182.90" text-anchor="middle" font-size="8.5" letter-spacing="-0.3">2005</text>
<text x="251.32" y="182.90" text-anchor="middle" font-size="8.5" letter-spacing="-0.3">2006</text>
<text x="357.35" y="182.90" text-anchor="middle" font-size="8.5" letter-spacing="-0.3">2007</text>
<text x="463.38" y="182.90" text-anchor="middle" font-size="8.5" letter-spacing="-0.3">2008</text>
<text x="569.42" y="182.90" text-anchor="middle" font-size="8.5" letter-spacing="-0.3">2009</text>
<text x="675.45" y="182.90" text-anchor="middle" font-size="8.5" letter-spacing="-0.3">2010</text>
<path d="M39.40 171.75 V174.75 M145.43 171.75 V174.75 M251.47 171.75 V174.75 M357.50 171.75 V174.75 M463.53 171.75 V174.75 M569.57 171.75 V174.75 M675.60 171.75 V174.75" stroke="#333" stroke-width="1" fill="none"/>
<text x="38.9" y="105.20" font-size="8.3" letter-spacing="-0.1">Medical</text>
<rect x="94.80" y="194.70" width="6.20" height="69.80" fill="#1E90FF"/>
<rect x="165.90" y="194.70" width="6.10" height="69.80" fill="#1E90FF"/>
<rect x="180.30" y="194.70" width="11.90" height="69.80" fill="#1E90FF"/>
<rect x="298.20" y="194.70" width="8.30" height="69.80" fill="#1E90FF"/>
<rect x="371.40" y="194.70" width="8.10" height="69.80" fill="#1E90FF"/>
<rect x="406.10" y="194.70" width="7.90" height="69.80" fill="#1E90FF"/>
<rect x="479.50" y="194.70" width="8.10" height="69.80" fill="#1E90FF"/>
<rect x="520.00" y="194.70" width="7.90" height="69.80" fill="#1E90FF"/>
<rect x="572.90" y="194.70" width="18.20" height="69.80" fill="#1E90FF"/>
<rect x="604.00" y="194.70" width="12.90" height="69.80" fill="#EC6464"/>
<rect x="616.90" y="194.70" width="58.90" height="69.80" fill="#924346"/>
<rect x="617.50" y="194.70" width="0.90" height="69.80" fill="#8C494D"/>
<rect x="619.01" y="194.70" width="1.18" height="69.80" fill="#8C494D"/>
<rect x="620.85" y="194.70" width="0.77" height="69.80" fill="#8C494D"/>
<rect x="623.56" y="194.70" width="0.79" height="69.80" fill="#983E41"/>
<rect x="626.07" y="194.70" width="1.06" height="69.80" fill="#983E41"/>
<rect x="627.58" y="194.70" width="1.02" height="69.80" fill="#8C494D"/>
<rect x="629.51" y="194.70" width="0.86" height="69.80" fill="#8C494D"/>
<rect x="631.04" y="194.70" width="0.96" height="69.80" fill="#8C494D"/>
<rect x="632.61" y="194.70" width="0.72" height="69.80" fill="#983E41"/>
<rect x="633.73" y="194.70" width="0.66" height="69.80" fill="#983E41"/>
<rect x="634.81" y="194.70" width="0.96" height="69.80" fill="#983E41"/>
<rect x="636.59" y="194.70" width="1.18" height="69.80" fill="#983E41"/>
<rect x="638.15" y="194.70" width="1.01" height="69.80" fill="#8C494D"/>
<rect x="639.98" y="194.70" width="0.97" height="69.80" fill="#983E41"/>
<rect x="641.88" y="194.70" width="0.94" height="69.80" fill="#8C494D"/>
<rect x="643.56" y="194.70" width="1.06" height="69.80" fill="#8C494D"/>
<rect x="645.15" y="194.70" width="0.62" height="69.80" fill="#8C494D"/>
<rect x="646.69" y="194.70" width="0.69" height="69.80" fill="#8C494D"/>
<rect x="648.10" y="194.70" width="1.02" height="69.80" fill="#983E41"/>
<rect x="649.39" y="194.70" width="0.76" height="69.80" fill="#8C494D"/>
<rect x="650.66" y="194.70" width="0.75" height="69.80" fill="#983E41"/>
<rect x="652.19" y="194.70" width="0.75" height="69.80" fill="#8C494D"/>
<rect x="655.45" y="194.70" width="0.93" height="69.80" fill="#983E41"/>
<rect x="657.12" y="194.70" width="1.11" height="69.80" fill="#983E41"/>
<rect x="658.46" y="194.70" width="0.88" height="69.80" fill="#983E41"/>
<rect x="661.60" y="194.70" width="1.10" height="69.80" fill="#8C494D"/>
<rect x="663.47" y="194.70" width="1.19" height="69.80" fill="#983E41"/>
<rect x="665.07" y="194.70" width="0.91" height="69.80" fill="#983E41"/>
<rect x="666.82" y="194.70" width="1.15" height="69.80" fill="#8C494D"/>
<rect x="668.28" y="194.70" width="0.83" height="69.80" fill="#983E41"/>
<rect x="669.82" y="194.70" width="0.75" height="69.80" fill="#983E41"/>
<rect x="671.18" y="194.70" width="0.77" height="69.80" fill="#8C494D"/>
<rect x="672.42" y="194.70" width="1.06" height="69.80" fill="#983E41"/>
<rect x="674.27" y="194.70" width="0.67" height="69.80" fill="#8C494D"/>
<path d="M39.40 240.60 L39.69 252.90 L39.98 247.45 L40.27 248.99 L40.56 243.83 L40.85 245.51 L41.14 250.29 L41.43 245.89 L41.72 247.94 L42.01 239.79 L42.30 246.97 L42.59 243.32 L42.88 244.95 L43.17 246.78 L43.46 248.10 L43.75 247.38 L44.04 248.30 L44.34 248.29 L44.63 239.90 L44.92 244.17 L45.21 244.79 L45.50 243.24 L45.79 247.12 L46.08 252.26 L46.37 249.89 L46.66 244.28 L46.95 242.16 L47.24 247.10 L47.53 247.05 L47.82 244.14 L48.11 250.59 L48.40 248.62 L48.69 240.78 L48.98 242.19 L49.27 243.73 L49.56 243.59 L49.85 251.97 L50.14 246.01 L50.43 250.88 L50.72 245.62 L51.01 242.28 L51.30 241.70 L51.59 245.89 L51.88 248.28 L52.17 248.52 L52.46 248.41 L52.75 239.27 L53.04 240.92 L53.33 242.67 L53.62 240.04 L53.92 244.41 L54.21 247.94 L54.50 243.42 L54.79 257.50 L55.08 241.37 L55.37 244.01 L55.66 241.34 L55.95 248.59 L56.24 243.30 L56.53 243.92 L56.82 244.50 L57.11 241.22 L57.40 244.36 L57.69 241.16 L57.98 249.12 L58.27 248.70 L58.56 244.93 L58.85 238.26 L59.14 247.85 L59.43 244.73 L59.72 244.89 L60.01 257.92 L60.30 246.43 L60.59 253.13 L60.88 244.79 L61.17 249.03 L61.46 243.49 L61.75 247.69 L62.04 250.33 L62.33 255.13 L62.62 246.08 L62.91 242.86 L63.20 244.31 L63.50 244.07 L63.79 246.06 L64.08 248.88 L64.37 251.13 L64.66 250.68 L64.95 238.88 L65.24 248.42 L65.53 247.43 L65.82 246.63 L66.11 245.99 L66.40 247.92 L66.69 253.07 L66.98 248.35 L67.27 246.32 L67.56 243.65 L67.85 245.15 L68.14 246.43 L68.43 249.33 L68.72 247.73 L69.01 244.55 L69.30 243.18 L69.59 249.14 L69.88 246.72 L70.17 248.09 L70.46 248.79 L70.75 249.69 L71.04 238.66 L71.33 242.73 L71.62 243.50 L71.91 253.53 L72.20 249.01 L72.49 252.53 L72.78 250.63 L73.08 251.99 L73.37 244.45 L73.66 245.95 L73.95 250.64 L74.24 250.34 L74.53 253.22 L74.82 250.80 L75.11 243.83 L75.40 241.45 L75.69 247.01 L75.98 258.45 L76.27 247.01 L76.56 245.44 L76.85 246.99 L77.14 240.60 L77.43 248.15 L77.72 246.16 L78.01 247.99 L78.30 243.65 L78.59 248.63 L78.88 250.68 L79.17 245.97 L79.46 245.13 L79.75 247.98 L80.04 249.70 L80.33 259.81 L80.62 244.63 L80.91 252.23 L81.20 248.39 L81.49 250.43 L81.78 252.35 L82.07 248.55 L82.36 247.33 L82.66 251.50 L82.95 249.93 L83.24 245.09 L83.53 246.47 L83.82 251.15 L84.11 249.04 L84.40 246.44 L84.69 250.87 L84.98 249.77 L85.27 245.59 L85.56 245.46 L85.85 244.22 L86.14 248.42 L86.43 247.26 L86.72 248.26 L87.01 248.41 L87.30 239.92 L87.59 249.54 L87.88 243.66 L88.17 246.62 L88.46 245.91 L88.75 245.64 L89.04 244.22 L89.33 239.53 L89.62 242.50 L89.91 239.44 L90.20 245.39 L90.49 244.30 L90.78 244.88 L91.07 247.11 L91.36 235.70 L91.65 241.04 L91.94 239.76 L92.24 245.93 L92.53 246.95 L92.82 260.18 L93.11 245.08 L93.40 243.58 L93.69 243.16 L93.98 245.06 L94.27 241.35 L94.56 249.10 L94.85 246.45 L95.14 249.38 L95.43 243.65 L95.72 244.89 L96.01 247.01 L96.30 244.30 L96.59 243.58 L96.88 248.88 L97.17 247.77 L97.46 239.73 L97.75 243.98 L98.04 244.13 L98.33 246.19 L98.62 251.03 L98.91 247.32 L99.20 252.82 L99.49 241.22 L99.78 243.26 L100.07 241.71 L100.36 244.82 L100.65 248.02 L100.94 247.54 L101.23 248.87 L101.52 242.95 L101.82 243.44 L102.11 245.70 L102.40 246.82 L102.69 248.87 L102.98 250.57 L103.27 255.37 L103.56 243.60 L103.85 247.19 L104.14 242.77 L104.43 243.61 L104.72 251.33 L105.01 250.44 L105.30 250.67 L105.59 247.36 L105.88 244.84 L106.17 247.78 L106.46 252.27 L106.75 248.99 L107.04 251.15 L107.33 249.87 L107.62 247.95 L107.91 244.37 L108.20 244.16 L108.49 249.64 L108.78 249.36 L109.07 250.63 L109.36 251.44 L109.65 241.45 L109.94 247.57 L110.23 252.17 L110.52 251.76 L110.81 250.72 L111.10 247.41 L111.40 250.98 L111.69 244.28 L111.98 244.56 L112.27 247.18 L112.56 240.98 L112.85 257.53 L113.14 247.66 L113.43 248.21 L113.72 241.07 L114.01 247.31 L114.30 240.26 L114.59 246.86 L114.88 247.17 L115.17 251.49 L115.46 250.01 L115.75 242.89 L116.04 242.52 L116.33 243.70 L116.62 243.22 L116.91 245.54 L117.20 250.02 L117.49 247.78 L117.78 242.61 L118.07 245.20 L118.36 243.33 L118.65 242.13 L118.94 246.27 L119.23 250.28 L119.52 245.67 L119.81 260.36 L120.10 244.74 L120.39 245.89 L120.68 247.19 L120.98 244.21 L121.27 253.89 L121.56 247.34 L121.85 239.89 L122.14 245.56 L122.43 241.82 L122.72 244.31 L123.01 247.43 L123.30 248.32 L123.59 252.21 L123.88 245.24 L124.17 239.65 L124.46 247.92 L124.75 242.60 L125.04 247.99 L125.33 248.21 L125.62 250.02 L125.91 249.58 L126.20 246.64 L126.49 245.52 L126.78 248.02 L127.07 250.11 L127.36 248.19 L127.65 249.47 L127.94 246.07 L128.23 243.39 L128.52 241.05 L128.81 244.79 L129.10 242.10 L129.39 243.69 L129.68 247.50 L129.97 246.32 L130.26 247.73 L130.56 244.96 L130.85 244.03 L131.14 245.68 L131.43 247.98 L131.72 250.59 L132.01 245.23 L132.30 247.47 L132.59 247.43 L132.88 250.60 L133.17 252.08 L133.46 252.71 L133.75 253.25 L134.04 247.66 L134.33 244.27 L134.62 246.92 L134.91 240.77 L135.20 247.25 L135.49 253.31 L135.78 250.15 L136.07 245.64 L136.36 248.64 L136.65 245.71 L136.94 250.38 L137.23 256.53 L137.52 248.96 L137.81 252.24 L138.10 241.65 L138.39 247.77 L138.68 248.69 L138.97 241.92 L139.26 248.79 L139.55 249.05 L139.84 245.10 L140.14 243.71 L140.43 245.36 L140.72 245.54 L141.01 243.61 L141.30 247.95 L141.59 246.90 L141.88 246.49 L142.17 236.05 L142.46 244.58 L142.75 246.92 L143.04 242.50 L143.33 246.15 L143.62 246.57 L143.91 245.92 L144.20 236.99 L144.49 260.66 L144.78 243.01 L145.07 249.94 L145.36 246.31 L145.65 242.43 L145.94 247.37 L146.23 241.19 L146.52 243.20 L146.81 240.62 L147.10 242.85 L147.39 248.38 L147.68 245.28 L147.97 245.97 L148.26 239.77 L148.55 245.59 L148.84 240.82 L149.13 244.50 L149.43 246.73 L149.72 258.88 L150.01 249.80 L150.30 240.54 L150.59 244.98 L150.88 243.47 L151.17 245.64 L151.46 244.50 L151.75 248.47 L152.04 250.23 L152.33 250.35 L152.62 246.01 L152.91 245.31 L153.20 248.32 L153.49 246.50 L153.78 250.56 L154.07 251.00 L154.36 247.42 L154.65 242.09 L154.94 245.11 L155.23 246.23 L155.52 250.27 L155.81 250.70 L156.10 246.44 L156.39 243.30 L156.68 248.14 L156.97 243.27 L157.26 243.52 L157.55 244.74 L157.84 248.70 L158.13 247.03 L158.42 243.27 L158.71 244.09 L159.01 247.97 L159.30 243.03 L159.59 245.84 L159.88 244.39 L160.17 252.94 L160.46 239.83 L160.75 241.00 L161.04 245.09 L161.33 243.58 L161.62 244.18 L161.91 246.77 L162.20 248.70 L162.49 243.16 L162.78 241.40 L163.07 241.10 L163.36 244.84 L163.65 246.02 L163.94 256.66 L164.23 245.35 L164.52 245.21 L164.81 246.38 L165.10 243.19 L165.39 248.20 L165.68 247.73 L165.97 248.76 L166.26 247.32 L166.55 245.58 L166.84 241.70 L167.13 248.99 L167.42 243.62 L167.71 248.92 L168.00 250.04 L168.29 246.02 L168.59 242.03 L168.88 244.67 L169.17 244.24 L169.46 243.73 L169.75 245.99 L170.04 249.39 L170.33 245.32 L170.62 243.96 L170.91 244.55 L171.20 245.70 L171.49 241.80 L171.78 243.49 L172.07 245.77 L172.36 248.97 L172.65 243.44 L172.94 242.03 L173.23 246.85 L173.52 244.05 L173.81 244.50 L174.10 249.76 L174.39 248.03 L174.68 242.62 L174.97 237.79 L175.26 236.85 L175.55 244.53 L175.84 244.56 L176.13 253.38 L176.42 246.59 L176.71 242.27 L177.00 246.66 L177.29 242.29 L177.58 249.06 L177.87 246.92 L178.17 248.82 L178.46 251.77 L178.75 240.98 L179.04 241.01 L179.33 246.88 L179.62 248.42 L179.91 244.15 L180.20 249.58 L180.49 251.76 L180.78 243.81 L181.07 244.92 L181.36 246.44 L181.65 245.15 L181.94 247.71 L182.23 246.27 L182.52 245.29 L182.81 242.49 L183.10 241.50 L183.39 241.83 L183.68 244.87 L183.97 249.87 L184.26 246.73 L184.55 247.87 L184.84 238.91 L185.13 242.83 L185.42 242.89 L185.71 243.62 L186.00 240.48 L186.29 247.59 L186.58 249.41 L186.87 243.79 L187.16 247.01 L187.45 246.03 L187.75 248.13 L188.04 248.32 L188.33 245.63 L188.62 251.97 L188.91 245.12 L189.20 246.52 L189.49 244.58 L189.78 250.72 L190.07 249.73 L190.36 251.53 L190.65 248.44 L190.94 245.13 L191.23 247.08 L191.52 249.31 L191.81 246.22 L192.10 245.36 L192.39 250.46 L192.68 249.67 L192.97 260.46 L193.26 247.15 L193.55 246.18 L193.84 257.02 L194.13 245.02 L194.42 247.31 L194.71 250.27 L195.00 239.37 L195.29 239.34 L195.58 244.79 L195.87 243.63 L196.16 244.09 L196.45 245.36 L196.74 250.93 L197.03 238.00 L197.33 244.20 L197.62 242.32 L197.91 244.95 L198.20 247.13 L198.49 257.30 L198.78 246.03 L199.07 245.33 L199.36 246.23 L199.65 247.45 L199.94 250.15 L200.23 242.46 L200.52 246.14 L200.81 247.51 L201.10 259.07 L201.39 245.28 L201.68 243.05 L201.97 239.24 L202.26 242.47 L202.55 254.51 L202.84 255.75 L203.13 245.74 L203.42 241.32 L203.71 245.46 L204.00 243.30 L204.29 241.86 L204.58 248.51 L204.87 245.01 L205.16 238.07 L205.45 239.35 L205.74 240.18 L206.03 244.01 L206.32 243.37 L206.61 248.27 L206.91 243.85 L207.20 234.47 L207.49 244.94 L207.78 249.33 L208.07 246.04 L208.36 245.20 L208.65 245.02 L208.94 244.28 L209.23 243.82 L209.52 244.56 L209.81 240.86 L210.10 247.64 L210.39 243.18 L210.68 247.80 L210.97 244.56 L211.26 239.06 L211.55 239.42 L211.84 240.47 L212.13 245.84 L212.42 244.39 L212.71 247.47 L213.00 246.02 L213.29 238.71 L213.58 242.90 L213.87 246.17 L214.16 246.52 L214.45 247.00 L214.74 247.70 L215.03 251.10 L215.32 239.82 L215.61 243.95 L215.90 246.72 L216.19 250.77 L216.49 245.88 L216.78 247.01 L217.07 252.28 L217.36 238.13 L217.65 238.08 L217.94 243.75 L218.23 244.28 L218.52 240.80 L218.81 244.98 L219.10 250.70 L219.39 242.89 L219.68 244.73 L219.97 245.84 L220.26 251.90 L220.55 244.67 L220.84 251.22 L221.13 249.34 L221.42 245.05 L221.71 258.32 L222.00 248.45 L222.29 249.99 L222.58 247.13 L222.87 247.08 L223.16 257.27 L223.45 239.78 L223.74 244.17 L224.03 247.63 L224.32 242.23 L224.61 249.11 L224.90 246.98 L225.19 249.44 L225.48 241.75 L225.77 247.36 L226.07 246.55 L226.36 242.14 L226.65 245.30 L226.94 249.14 L227.23 249.93 L227.52 243.39 L227.81 249.64 L228.10 250.38 L228.39 248.14 L228.68 249.73 L228.97 260.45 L229.26 250.31 L229.55 245.70 L229.84 247.81 L230.13 243.99 L230.42 245.59 L230.71 245.10 L231.00 250.36 L231.29 251.00 L231.58 249.73 L231.87 247.25 L232.16 251.42 L232.45 247.51 L232.74 244.04 L233.03 243.80 L233.32 243.08 L233.61 242.24 L233.90 239.14 L234.19 242.92 L234.48 239.24 L234.77 242.52 L235.06 243.22 L235.35 239.26 L235.65 237.78 L235.94 235.78 L236.23 257.39 L236.52 245.44 L236.81 242.66 L237.10 243.25 L237.39 248.58 L237.68 241.58 L237.97 247.40 L238.26 245.85 L238.55 242.93 L238.84 246.11 L239.13 249.82 L239.42 250.08 L239.71 238.91 L240.00 238.72 L240.29 257.38 L240.58 241.46 L240.87 246.27 L241.16 240.13 L241.45 245.16 L241.74 240.24 L242.03 240.67 L242.32 249.75 L242.61 244.79 L242.90 245.27 L243.19 246.48 L243.48 243.69 L243.77 241.01 L244.06 248.35 L244.35 245.71 L244.64 244.16 L244.93 243.92 L245.23 249.98 L245.52 250.79 L245.81 240.54 L246.10 242.05 L246.39 244.04 L246.68 250.15 L246.97 240.96 L247.26 255.39 L247.55 248.62 L247.84 237.64 L248.13 245.00 L248.42 244.22 L248.71 248.95 L249.00 243.01 L249.29 251.86 L249.58 246.10 L249.87 240.65 L250.16 244.92 L250.45 241.31 L250.74 247.16 L251.03 245.32 L251.32 246.76 L251.61 246.82 L251.90 239.42 L252.19 240.66 L252.48 245.30 L252.77 245.94 L253.06 245.52 L253.35 247.45 L253.64 244.13 L253.93 241.87 L254.22 241.18 L254.51 243.18 L254.81 246.83 L255.10 242.69 L255.39 250.67 L255.68 246.98 L255.97 237.52 L256.26 256.63 L256.55 242.41 L256.84 246.50 L257.13 245.24 L257.42 251.19 L257.71 257.49 L258.00 241.86 L258.29 259.10 L258.58 241.14 L258.87 244.33 L259.16 242.46 L259.45 246.46 L259.74 246.61 L260.03 242.58 L260.32 248.13 L260.61 244.96 L260.90 240.88 L261.19 243.77 L261.48 250.45 L261.77 243.48 L262.06 242.89 L262.35 243.94 L262.64 246.51 L262.93 246.51 L263.22 246.06 L263.51 242.89 L263.80 247.22 L264.09 244.52 L264.39 257.39 L264.68 244.70 L264.97 248.33 L265.26 243.68 L265.55 246.61 L265.84 246.62 L266.13 239.77 L266.42 246.13 L266.71 248.21 L267.00 241.41 L267.29 243.25 L267.58 252.60 L267.87 246.49 L268.16 241.19 L268.45 240.10 L268.74 241.29 L269.03 243.01 L269.32 241.96 L269.61 244.44 L269.90 258.54 L270.19 241.57 L270.48 245.77 L270.77 241.93 L271.06 245.54 L271.35 241.45 L271.64 242.92 L271.93 244.89 L272.22 240.97 L272.51 240.96 L272.80 239.03 L273.09 244.89 L273.38 239.89 L273.67 242.77 L273.97 244.42 L274.26 236.58 L274.55 242.80 L274.84 239.32 L275.13 244.69 L275.42 245.05 L275.71 248.80 L276.00 244.82 L276.29 243.59 L276.58 241.96 L276.87 247.78 L277.16 243.27 L277.45 241.01 L277.74 248.28 L278.03 244.84 L278.32 240.69 L278.61 237.15 L278.90 243.40 L279.19 248.62 L279.48 241.68 L279.77 248.71 L280.06 250.52 L280.35 244.53 L280.64 247.75 L280.93 245.34 L281.22 249.37 L281.51 244.28 L281.80 248.90 L282.09 254.63 L282.38 250.20 L282.67 247.74 L282.96 251.52 L283.25 247.71 L283.55 248.32 L283.84 252.36 L284.13 250.11 L284.42 242.31 L284.71 240.83 L285.00 241.90 L285.29 245.87 L285.58 245.10 L285.87 252.96 L286.16 249.20 L286.45 246.99 L286.74 243.31 L287.03 249.49 L287.32 248.35 L287.61 246.42 L287.90 246.66 L288.19 251.30 L288.48 242.50 L288.77 258.29 L289.06 242.79 L289.35 245.50 L289.64 245.05 L289.93 249.45 L290.22 243.37 L290.51 241.02 L290.80 247.28 L291.09 250.00 L291.38 243.83 L291.67 242.11 L291.96 247.35 L292.25 245.73 L292.54 259.98 L292.83 246.56 L293.13 241.96 L293.42 244.25 L293.71 243.13 L294.00 251.03 L294.29 246.40 L294.58 243.16 L294.87 241.47 L295.16 245.40 L295.45 246.85 L295.74 246.69 L296.03 243.39 L296.32 244.97 L296.61 240.01 L296.90 242.85 L297.19 243.86 L297.48 238.92 L297.77 248.39 L298.06 249.98 L298.35 246.44 L298.64 260.14 L298.93 242.98 L299.22 240.77 L299.51 240.77 L299.80 240.41 L300.09 246.24 L300.38 241.75 L300.67 239.39 L300.96 236.55 L301.25 244.49 L301.54 240.43 L301.83 246.95 L302.12 249.34 L302.41 243.45 L302.71 241.57 L303.00 240.23 L303.29 244.76 L303.58 239.85 L303.87 244.64 L304.16 250.66 L304.45 247.10 L304.74 239.55 L305.03 244.61 L305.32 240.26 L305.61 237.08 L305.90 240.31 L306.19 257.58 L306.48 247.94 L306.77 238.71 L307.06 243.96 L307.35 249.52 L307.64 244.31 L307.93 245.31 L308.22 241.05 L308.51 246.17 L308.80 242.72 L309.09 244.54 L309.38 240.84 L309.67 245.51 L309.96 244.93 L310.25 245.85 L310.54 245.35 L310.83 239.45 L311.12 241.14 L311.41 239.46 L311.70 239.69 L311.99 249.00 L312.29 241.57 L312.58 246.24 L312.87 237.96 L313.16 244.91 L313.45 242.18 L313.74 242.71 L314.03 242.95 L314.32 244.00 L314.61 260.76 L314.90 242.16 L315.19 241.87 L315.48 240.63 L315.77 241.28 L316.06 244.41 L316.35 246.56 L316.64 246.83 L316.93 243.37 L317.22 245.61 L317.51 239.51 L317.80 244.72 L318.09 244.03 L318.38 249.39 L318.67 243.06 L318.96 236.30 L319.25 241.87 L319.54 240.16 L319.83 244.29 L320.12 239.36 L320.41 244.23 L320.70 247.50 L320.99 236.44 L321.28 240.74 L321.57 242.65 L321.87 243.95 L322.16 247.66 L322.45 249.58 L322.74 245.87 L323.03 241.23 L323.32 244.73 L323.61 237.01 L323.90 243.28 L324.19 244.44 L324.48 247.92 L324.77 243.52 L325.06 236.47 L325.35 239.13 L325.64 237.77 L325.93 244.91 L326.22 242.53 L326.51 244.61 L326.80 242.82 L327.09 236.25 L327.38 244.19 L327.67 232.66 L327.96 243.34 L328.25 240.13 L328.54 241.62 L328.83 241.13 L329.12 237.69 L329.41 247.73 L329.70 242.59 L329.99 239.05 L330.28 243.98 L330.57 247.60 L330.86 250.22 L331.15 235.95 L331.45 239.00 L331.74 242.60 L332.03 241.94 L332.32 242.24 L332.61 247.80 L332.90 244.68 L333.19 238.25 L333.48 238.59 L333.77 238.49 L334.06 243.48 L334.35 246.18 L334.64 247.39 L334.93 249.97 L335.22 245.89 L335.51 240.26 L335.80 245.68 L336.09 244.62 L336.38 243.71 L336.67 251.34 L336.96 246.81 L337.25 241.16 L337.54 260.66 L337.83 243.21 L338.12 246.73 L338.41 250.92 L338.70 249.70 L338.99 250.43 L339.28 239.92 L339.57 241.45 L339.86 245.21 L340.15 244.88 L340.44 242.07 L340.73 245.75 L341.03 247.19 L341.32 241.19 L341.61 244.31 L341.90 244.78 L342.19 243.21 L342.48 246.58 L342.77 247.87 L343.06 252.13 L343.35 246.47 L343.64 247.09 L343.93 245.20 L344.22 240.64 L344.51 241.69 L344.80 249.70 L345.09 258.24 L345.38 238.10 L345.67 240.22 L345.96 245.40 L346.25 240.10 L346.54 243.24 L346.83 243.84 L347.12 246.81 L347.41 238.56 L347.70 240.73 L347.99 245.80 L348.28 244.31 L348.57 245.89 L348.86 246.37 L349.15 250.74 L349.44 246.26 L349.73 240.70 L350.02 239.72 L350.31 238.78 L350.61 240.15 L350.90 248.97 L351.19 247.16 L351.48 240.67 L351.77 240.22 L352.06 247.44 L352.35 242.56 L352.64 241.52 L352.93 246.34 L353.22 242.28 L353.51 234.51 L353.80 238.90 L354.09 237.82 L354.38 237.90 L354.67 240.77 L354.96 244.52 L355.25 246.89 L355.54 236.93 L355.83 242.23 L356.12 244.16 L356.41 241.75 L356.70 246.06 L356.99 245.13 L357.28 243.78 L357.57 240.43 L357.86 241.46 L358.15 240.09 L358.44 240.31 L358.73 246.21 L359.02 248.42 L359.31 240.26 L359.60 236.23 L359.90 243.72 L360.19 242.86 L360.48 240.99 L360.77 244.18 L361.06 244.05 L361.35 245.19 L361.64 238.53 L361.93 245.09 L362.22 242.06 L362.51 239.55 L362.80 246.77 L363.09 244.48 L363.38 244.30 L363.67 238.22 L363.96 240.76 L364.25 245.26 L364.54 246.31 L364.83 243.33 L365.12 246.14 L365.41 246.00 L365.70 241.70 L365.99 243.96 L366.28 248.33 L366.57 249.65 L366.86 245.39 L367.15 248.07 L367.44 259.14 L367.73 247.45 L368.02 247.06 L368.31 250.19 L368.60 246.46 L368.89 250.28 L369.18 250.33 L369.48 248.46 L369.77 242.16 L370.06 240.56 L370.35 247.05 L370.64 250.44 L370.93 243.05 L371.22 244.35 L371.51 244.43 L371.80 241.80 L372.09 242.38 L372.38 244.46 L372.67 248.37 L372.96 247.62 L373.25 255.63 L373.54 250.52 L373.83 238.01 L374.12 248.35 L374.41 245.58 L374.70 241.79 L374.99 246.14 L375.28 249.86 L375.57 257.77 L375.86 241.42 L376.15 237.61 L376.44 241.13 L376.73 241.06 L377.02 244.15 L377.31 243.60 L377.60 258.05 L377.89 242.29 L378.18 242.39 L378.47 240.86 L378.76 239.55 L379.06 242.85 L379.35 244.15 L379.64 239.65 L379.93 241.19 L380.22 243.71 L380.51 240.21 L380.80 242.08 L381.09 243.79 L381.38 246.12 L381.67 246.52 L381.96 238.17 L382.25 242.05 L382.54 239.57 L382.83 245.48 L383.12 243.63 L383.41 244.98 L383.70 246.31 L383.99 258.06 L384.28 240.74 L384.57 242.19 L384.86 240.91 L385.15 243.69 L385.44 248.02 L385.73 245.72 L386.02 239.19 L386.31 239.85 L386.60 240.49 L386.89 239.10 L387.18 239.57 L387.47 240.31 L387.76 241.86 L388.05 239.42 L388.34 237.65 L388.64 238.80 L388.93 244.49 L389.22 243.58 L389.51 244.58 L389.80 245.14 L390.09 236.86 L390.38 240.94 L390.67 242.13 L390.96 245.04 L391.25 245.15 L391.54 249.97 L391.83 246.99 L392.12 246.14 L392.41 241.42 L392.70 259.54 L392.99 243.46 L393.28 245.05 L393.57 246.99 L393.86 250.02 L394.15 244.53 L394.44 244.68 L394.73 244.67 L395.02 241.49 L395.31 245.80 L395.60 244.21 L395.89 250.49 L396.18 241.73 L396.47 242.94 L396.76 241.70 L397.05 246.21 L397.34 249.12 L397.63 246.17 L397.92 246.48 L398.22 243.70 L398.51 244.88 L398.80 244.95 L399.09 244.01 L399.38 242.87 L399.67 259.58 L399.96 240.71 L400.25 240.52 L400.54 243.40 L400.83 255.63 L401.12 242.97 L401.41 238.48 L401.70 243.66 L401.99 246.33 L402.28 240.50 L402.57 242.06 L402.86 242.92 L403.15 241.58 L403.44 244.89 L403.73 241.64 L404.02 245.51 L404.31 239.65 L404.60 238.37 L404.89 246.26 L405.18 243.36 L405.47 240.67 L405.76 245.03 L406.05 244.46 L406.34 236.98 L406.63 239.97 L406.92 240.58 L407.21 245.65 L407.50 247.70 L407.80 243.87 L408.09 247.52 L408.38 241.25 L408.67 237.43 L408.96 239.07 L409.25 243.55 L409.54 244.48 L409.83 246.36 L410.12 247.21 L410.41 237.46 L410.70 238.62 L410.99 239.51 L411.28 240.22 L411.57 240.37 L411.86 241.76 L412.15 241.60 L412.44 242.01 L412.73 236.18 L413.02 243.09 L413.31 245.11 L413.60 240.40 L413.89 246.09 L414.18 244.96 L414.47 234.60 L414.76 240.19 L415.05 241.95 L415.34 239.73 L415.63 237.13 L415.92 243.07 L416.21 248.40 L416.50 239.34 L416.79 238.85 L417.08 235.56 L417.38 239.46 L417.67 240.97 L417.96 242.75 L418.25 246.23 L418.54 237.04 L418.83 237.88 L419.12 242.46 L419.41 240.64 L419.70 239.56 L419.99 246.33 L420.28 240.98 L420.57 234.80 L420.86 259.64 L421.15 240.83 L421.44 238.77 L421.73 236.32 L422.02 241.73 L422.31 255.94 L422.60 235.20 L422.89 232.77 L423.18 238.82 L423.47 238.30 L423.76 233.95 L424.05 243.94 L424.34 243.73 L424.63 239.93 L424.92 240.84 L425.21 236.69 L425.50 241.34 L425.79 245.46 L426.08 248.71 L426.37 246.29 L426.66 238.71 L426.96 243.33 L427.25 241.30 L427.54 244.89 L427.83 243.26 L428.12 245.37 L428.41 244.33 L428.70 239.86 L428.99 240.59 L429.28 239.74 L429.57 244.44 L429.86 242.40 L430.15 244.38 L430.44 241.33 L430.73 237.70 L431.02 239.66 L431.31 238.69 L431.60 241.62 L431.89 240.31 L432.18 243.60 L432.47 243.18 L432.76 240.55 L433.05 239.90 L433.34 244.71 L433.63 238.26 L433.92 242.52 L434.21 245.62 L434.50 247.68 L434.79 237.90 L435.08 237.90 L435.37 237.94 L435.66 244.30 L435.95 238.82 L436.24 244.17 L436.54 257.14 L436.83 234.78 L437.12 239.14 L437.41 239.95 L437.70 240.94 L437.99 239.75 L438.28 243.49 L438.57 243.83 L438.86 240.29 L439.15 260.08 L439.44 241.13 L439.73 239.33 L440.02 242.91 L440.31 241.83 L440.60 245.21 L440.89 241.88 L441.18 239.97 L441.47 258.59 L441.76 242.30 L442.05 239.35 L442.34 246.67 L442.63 245.60 L442.92 232.10 L443.21 239.53 L443.50 240.09 L443.79 239.67 L444.08 242.73 L444.37 245.27 L444.66 243.53 L444.95 244.88 L445.24 236.13 L445.53 243.38 L445.82 244.44 L446.12 241.56 L446.41 245.59 L446.70 248.48 L446.99 238.23 L447.28 242.32 L447.57 242.32 L447.86 244.33 L448.15 255.72 L448.44 243.96 L448.73 243.58 L449.02 235.48 L449.31 235.45 L449.60 254.78 L449.89 240.94 L450.18 241.49 L450.47 240.49 L450.76 244.29 L451.05 236.59 L451.34 239.58 L451.63 239.74 L451.92 239.39 L452.21 240.43 L452.50 243.49 L452.79 243.49 L453.08 238.08 L453.37 236.79 L453.66 236.88 L453.95 236.53 L454.24 239.23 L454.53 245.30 L454.82 241.15 L455.11 235.85 L455.40 242.08 L455.70 238.57 L455.99 239.65 L456.28 236.92 L456.57 246.60 L456.86 247.36 L457.15 235.52 L457.44 243.64 L457.73 242.22 L458.02 242.75 L458.31 243.12 L458.60 249.58 L458.89 245.35 L459.18 235.27 L459.47 237.88 L459.76 239.66 L460.05 243.41 L460.34 239.83 L460.63 245.52 L460.92 242.79 L461.21 243.05 L461.50 239.19 L461.79 243.12 L462.08 241.11 L462.37 242.49 L462.66 247.95 L462.95 244.20 L463.24 235.15 L463.53 237.58 L463.82 238.92 L464.11 243.52 L464.40 244.80 L464.69 248.68 L464.98 245.06 L465.28 236.00 L465.57 240.89 L465.86 242.24 L466.15 245.15 L466.44 242.37 L466.73 246.42 L467.02 251.37 L467.31 244.23 L467.60 243.13 L467.89 243.62 L468.18 239.57 L468.47 244.93 L468.76 251.15 L469.05 248.26 L469.34 235.75 L469.63 243.17 L469.92 240.00 L470.21 240.06 L470.50 238.66 L470.79 244.03 L471.08 244.48 L471.37 236.43 L471.66 239.56 L471.95 237.62 L472.24 240.66 L472.53 237.16 L472.82 245.60 L473.11 242.24 L473.40 238.63 L473.69 237.66 L473.98 238.99 L474.27 239.89 L474.56 237.79 L474.86 244.16 L475.15 243.58 L475.44 232.39 L475.73 237.45 L476.02 239.52 L476.31 235.57 L476.60 237.64 L476.89 249.96 L477.18 242.83 L477.47 234.20 L477.76 235.93 L478.05 240.72 L478.34 236.65 L478.63 244.08 L478.92 246.44 L479.21 244.23 L479.50 238.17 L479.79 238.05 L480.08 237.46 L480.37 241.74 L480.66 238.14 L480.95 246.43 L481.24 245.41 L481.53 234.18 L481.82 239.89 L482.11 237.66 L482.40 241.53 L482.69 242.06 L482.98 245.75 L483.27 245.38 L483.56 240.03 L483.85 241.41 L484.14 240.83 L484.44 240.19 L484.73 243.26 L485.02 244.44 L485.31 242.89 L485.60 240.87 L485.89 243.65 L486.18 236.05 L486.47 237.00 L486.76 239.90 L487.05 241.69 L487.34 244.83 L487.63 240.36 L487.92 237.22 L488.21 242.15 L488.50 237.44 L488.79 241.27 L489.08 242.24 L489.37 237.58 L489.66 230.95 L489.95 238.87 L490.24 237.75 L490.53 243.94 L490.82 244.29 L491.11 245.15 L491.40 241.80 L491.69 241.65 L491.98 240.68 L492.27 242.35 L492.56 247.85 L492.85 245.72 L493.14 245.59 L493.43 249.81 L493.72 240.59 L494.02 240.27 L494.31 245.35 L494.60 241.27 L494.89 240.20 L495.18 242.37 L495.47 242.27 L495.76 239.43 L496.05 241.11 L496.34 242.90 L496.63 243.51 L496.92 244.24 L497.21 242.69 L497.50 240.94 L497.79 239.83 L498.08 238.02 L498.37 243.98 L498.66 241.74 L498.95 243.90 L499.24 249.42 L499.53 244.06 L499.82 237.93 L500.11 255.13 L500.40 242.80 L500.69 244.10 L500.98 255.91 L501.27 246.37 L501.56 242.65 L501.85 239.12 L502.14 237.36 L502.43 237.34 L502.72 236.54 L503.01 237.60 L503.30 242.82 L503.60 244.43 L503.89 241.69 L504.18 238.72 L504.47 236.49 L504.76 236.69 L505.05 248.23 L505.34 247.80 L505.63 246.99 L505.92 241.45 L506.21 239.24 L506.50 240.42 L506.79 242.54 L507.08 240.77 L507.37 247.64 L507.66 245.40 L507.95 238.04 L508.24 235.16 L508.53 256.03 L508.82 239.37 L509.11 237.39 L509.40 242.92 L509.69 240.41 L509.98 237.14 L510.27 235.28 L510.56 235.95 L510.85 233.79 L511.14 239.07 L511.43 240.12 L511.72 243.11 L512.01 235.64 L512.30 234.01 L512.59 237.10 L512.88 236.17 L513.18 239.02 L513.47 238.50 L513.76 237.37 L514.05 239.12 L514.34 233.25 L514.63 238.01 L514.92 237.87 L515.21 238.55 L515.50 240.36 L515.79 244.56 L516.08 237.95 L516.37 256.64 L516.66 257.05 L516.95 237.37 L517.24 238.43 L517.53 242.46 L517.82 244.71 L518.11 241.99 L518.40 237.29 L518.69 238.88 L518.98 238.37 L519.27 236.49 L519.56 243.47 L519.85 243.17 L520.14 241.79 L520.43 236.20 L520.72 238.64 L521.01 240.28 L521.30 237.89 L521.59 246.83 L521.88 244.87 L522.17 231.80 L522.46 235.81 L522.76 236.42 L523.05 238.09 L523.34 239.60 L523.63 244.28 L523.92 238.67 L524.21 236.84 L524.50 235.91 L524.79 239.41 L525.08 239.89 L525.37 244.57 L525.66 246.94 L525.95 237.61 L526.24 231.29 L526.53 238.52 L526.82 239.06 L527.11 238.79 L527.40 243.23 L527.69 239.37 L527.98 245.13 L528.27 238.08 L528.56 244.09 L528.85 235.14 L529.14 239.67 L529.43 235.66 L529.72 244.91 L530.01 240.19 L530.30 232.87 L530.59 233.62 L530.88 230.45 L531.17 231.08 L531.46 234.75 L531.75 242.62 L532.04 239.24 L532.34 231.81 L532.63 235.99 L532.92 238.19 L533.21 237.52 L533.50 241.24 L533.79 243.17 L534.08 238.71 L534.37 238.81 L534.66 238.96 L534.95 238.23 L535.24 255.06 L535.53 241.47 L535.82 248.02 L536.11 245.06 L536.40 240.25 L536.69 240.01 L536.98 239.76 L537.27 239.74 L537.56 240.28 L537.85 248.46 L538.14 238.55 L538.43 237.40 L538.72 239.82 L539.01 239.54 L539.30 237.27 L539.59 241.27 L539.88 243.53 L540.17 243.27 L540.46 233.87 L540.75 238.96 L541.04 237.14 L541.33 238.22 L541.62 239.71 L541.92 239.17 L542.21 240.53 L542.50 237.30 L542.79 235.23 L543.08 236.27 L543.37 237.34 L543.66 239.09 L543.95 236.95 L544.24 241.53 L544.53 234.45 L544.82 238.00 L545.11 235.65 L545.40 239.04 L545.69 241.23 L545.98 245.59 L546.27 239.75 L546.56 231.84 L546.85 239.85 L547.14 239.55 L547.43 237.53 L547.72 236.81 L548.01 246.14 L548.30 242.30 L548.59 232.05 L548.88 237.20 L549.17 238.97 L549.46 240.11 L549.75 241.36 L550.04 241.89 L550.33 241.04 L550.62 238.61 L550.91 235.49 L551.20 234.17 L551.50 237.94 L551.79 237.22 L552.08 244.46 L552.37 238.78 L552.66 236.65 L552.95 229.90 L553.24 236.16 L553.53 237.37 L553.82 238.77 L554.11 241.68 L554.40 240.88 L554.69 233.84 L554.98 234.13 L555.27 233.07 L555.56 233.05 L555.85 237.23 L556.14 237.00 L556.43 255.61 L556.72 235.45 L557.01 237.43 L557.30 233.70 L557.59 240.04 L557.88 240.63 L558.17 236.83 L558.46 234.71 L558.75 228.23 L559.04 237.60 L559.33 234.32 L559.62 233.26 L559.91 236.75 L560.20 244.76 L560.49 241.70 L560.78 238.93 L561.08 239.57 L561.37 231.62 L561.66 236.99 L561.95 242.96 L562.24 246.66 L562.53 239.99 L562.82 235.71 L563.11 233.95 L563.40 237.38 L563.69 237.86 L563.98 237.83 L564.27 245.48 L564.56 247.48 L564.85 238.51 L565.14 238.88 L565.43 238.52 L565.72 239.17 L566.01 240.38 L566.30 242.41 L566.59 245.69 L566.88 233.65 L567.17 234.54 L567.46 239.71 L567.75 240.48 L568.04 239.22 L568.33 244.31 L568.62 245.96 L568.91 240.43 L569.20 243.07 L569.49 245.86 L569.78 241.44 L570.07 240.90 L570.37 249.51 L570.66 246.39 L570.95 239.40 L571.24 242.29 L571.53 243.58 L571.82 243.55 L572.11 247.83 L572.40 246.76 L572.69 246.60 L572.98 232.62 L573.27 237.00 L573.56 241.84 L573.85 241.27 L574.14 237.55 L574.43 241.52 L574.72 243.76 L575.01 239.32 L575.30 243.60 L575.59 240.59 L575.88 240.70 L576.17 244.02 L576.46 240.32 L576.75 246.96 L577.04 235.31 L577.33 236.21 L577.62 237.73 L577.91 235.42 L578.20 243.80 L578.49 244.90 L578.78 241.68 L579.07 236.08 L579.36 239.07 L579.65 241.21 L579.95 236.15 L580.24 242.64 L580.53 257.31 L580.82 240.09 L581.11 232.12 L581.40 236.93 L581.69 241.63 L581.98 242.39 L582.27 242.69 L582.56 246.31 L582.85 243.39 L583.14 231.29 L583.43 234.51 L583.72 238.53 L584.01 239.53 L584.30 240.75 L584.59 238.31 L584.88 246.15 L585.17 233.42 L585.46 239.91 L585.75 240.49 L586.04 244.52 L586.33 238.93 L586.62 243.80 L586.91 235.44 L587.20 237.49 L587.49 239.11 L587.78 236.56 L588.07 237.10 L588.36 239.99 L588.65 247.98 L588.94 238.35 L589.23 233.90 L589.53 235.80 L589.82 239.06 L590.11 236.15 L590.40 239.93 L590.69 241.49 L590.98 241.28 L591.27 232.13 L591.56 239.24 L591.85 240.14 L592.14 237.89 L592.43 240.39 L592.72 245.26 L593.01 245.14 L593.30 235.27 L593.59 241.15 L593.88 239.68 L594.17 236.36 L594.46 240.99 L594.75 247.66 L595.04 247.62 L595.33 236.66 L595.62 241.68 L595.91 244.07 L596.20 243.03 L596.49 244.79 L596.78 243.53 L597.07 248.35 L597.36 231.77 L597.65 238.46 L597.94 237.43 L598.23 236.45 L598.52 238.02 L598.81 239.57 L599.11 257.20 L599.40 239.18 L599.69 234.25 L599.98 239.88 L600.27 255.89 L600.56 235.52 L600.85 243.16 L601.14 244.57 L601.43 237.52 L601.72 235.93 L602.01 237.53 L602.30 242.88 L602.59 237.59 L602.88 245.57 L603.17 240.92 L603.46 234.26 L603.75 231.38 L604.04 231.99 L604.33 235.18 L604.62 237.70 L604.91 240.36 L605.20 238.15 L605.49 231.63 L605.78 236.79 L606.07 237.33 L606.36 234.63 L606.65 245.50 L606.94 241.99 L607.23 245.87 L607.52 232.30 L607.81 238.68 L608.10 238.63 L608.39 243.58 L608.69 239.81 L608.98 241.97 L609.27 237.99 L609.56 239.70 L609.85 238.77 L610.14 226.29 L610.43 236.92 L610.72 241.00 L611.01 243.60 L611.30 252.59 L611.59 231.30 L611.88 238.28 L612.17 243.56 L612.46 235.93 L612.75 244.15 L613.04 249.02 L613.33 242.55 L613.62 235.50 L613.91 238.11 L614.20 238.39 L614.49 242.47 L614.78 242.87 L615.07 236.67 L615.36 234.53 L615.65 230.91 L615.94 233.00 L616.23 236.84 L616.52 235.82 L616.81 238.23 L617.10 233.56 L617.39 240.66 L617.68 229.40 L617.97 232.71 L618.27 240.54 L618.56 228.05 L618.85 239.82 L619.14 243.76 L619.43 240.43 L619.72 237.25 L620.01 235.31 L620.30 239.88 L620.59 235.92 L620.88 237.85 L621.17 246.80 L621.46 234.73 L621.75 230.58 L622.04 237.68 L622.33 235.05 L622.62 235.92 L622.91 229.24 L623.20 244.41 L623.49 237.19 L623.78 233.76 L624.07 231.65 L624.36 238.24 L624.65 236.30 L624.94 234.33 L625.23 244.17 L625.52 247.16 L625.81 229.42 L626.10 233.51 L626.39 231.96 L626.68 230.68 L626.97 236.47 L627.26 234.75 L627.55 238.27 L627.85 230.64 L628.14 229.91 L628.43 232.22 L628.72 236.72 L629.01 237.81 L629.30 244.94 L629.59 244.42 L629.88 233.35 L630.17 231.32 L630.46 236.26 L630.75 231.01 L631.04 227.81 L631.33 230.38 L631.62 239.38 L631.91 227.33 L632.20 231.34 L632.49 230.51 L632.78 231.95 L633.07 233.92 L633.36 237.29 L633.65 238.37 L633.94 232.07 L634.23 232.77 L634.52 231.06 L634.81 228.59 L635.10 234.48 L635.39 254.83 L635.68 235.99 L635.97 239.84 L636.26 238.69 L636.55 238.57 L636.84 240.70 L637.13 247.05 L637.43 242.72 L637.72 243.97 L638.01 240.24 L638.30 230.00 L638.59 242.54 L638.88 238.43 L639.17 241.21 L639.46 242.56 L639.75 240.11 L640.04 237.76 L640.33 236.40 L640.62 238.40 L640.91 242.33 L641.20 233.66 L641.49 240.71 L641.78 241.62 L642.07 236.43 L642.36 235.97 L642.65 234.39 L642.94 238.69 L643.23 234.92 L643.52 254.00 L643.81 250.28 L644.10 234.01 L644.39 243.25 L644.68 235.87 L644.97 239.98 L645.26 234.80 L645.55 239.72 L645.84 234.22 L646.13 227.61 L646.42 228.27 L646.71 231.78 L647.01 231.22 L647.30 234.78 L647.59 243.36 L647.88 246.01 L648.17 237.12 L648.46 231.06 L648.75 243.95 L649.04 235.54 L649.33 239.65 L649.62 237.25 L649.91 237.94 L650.20 234.13 L650.49 233.07 L650.78 242.21 L651.07 233.60 L651.36 233.96 L651.65 249.01 L651.94 237.62 L652.23 234.21 L652.52 234.99 L652.81 241.99 L653.10 235.24 L653.39 235.66 L653.68 242.26 L653.97 245.66 L654.26 232.61 L654.55 231.74 L654.84 235.62 L655.13 234.93 L655.42 242.60 L655.71 245.15 L656.00 243.43 L656.29 237.34 L656.59 227.55 L656.88 238.31 L657.17 242.21 L657.46 238.10 L657.75 251.17 L658.04 244.15 L658.33 234.93 L658.62 239.52 L658.91 239.67 L659.20 241.39 L659.49 237.34 L659.78 244.82 L660.07 235.74 L660.36 232.32 L660.65 236.78 L660.94 242.69 L661.23 229.24 L661.52 232.68 L661.81 241.27 L662.10 241.05 L662.39 233.96 L662.68 238.17 L662.97 228.50 L663.26 238.08 L663.55 245.66 L663.84 245.93 L664.13 251.55 L664.42 230.44 L664.71 232.56 L665.00 257.77 L665.29 227.85 L665.58 242.10 L665.87 240.91 L666.17 239.44 L666.46 234.75 L666.75 242.36 L667.04 238.90 L667.33 242.69 L667.62 237.57 L667.91 248.05 L668.20 247.12 L668.49 239.04 L668.78 237.68 L669.07 240.72 L669.36 238.03 L669.65 236.59 L669.94 240.63 L670.23 236.52 L670.52 230.25 L670.81 233.31 L671.10 239.63 L671.39 231.37 L671.68 229.26 L671.97 244.49 L672.26 243.71 L672.55 234.39 L672.84 235.95 L673.13 233.75 L673.42 237.62 L673.71 234.19 L674.00 244.18 L674.29 238.97 L674.58 230.98 L674.87 235.50 L675.16 227.96 L675.45 231.63" fill="none" stroke="#000" stroke-opacity="0.85" stroke-width="0.70" stroke-linejoin="miter" stroke-miterlimit="4"/>
<path d="M35.90 194.70 V264.50" stroke="#333" stroke-width="1" fill="none"/>
<text x="29.6" y="267.80" text-anchor="end" font-size="9">0</text>
<text x="29.6" y="253.84" text-anchor="end" font-size="9">1</text>
<text x="29.6" y="239.88" text-anchor="end" font-size="9">2</text>
<text x="29.6" y="225.92" text-anchor="end" font-size="9">3</text>
<text x="29.6" y="211.96" text-anchor="end" font-size="9">4</text>
<text x="29.6" y="198.00" text-anchor="end" font-size="9">5</text>
<path d="M31.90 264.50 H35.90 M31.90 250.54 H35.90 M31.90 236.58 H35.90 M31.90 222.62 H35.90 M31.90 208.66 H35.90 M31.90 194.70 H35.90" stroke="#333" stroke-width="1" fill="none"/>
<path d="M39.40 267.75 H675.60" stroke="#333" stroke-width="1" fill="none"/>
<text x="39.25" y="278.90" text-anchor="middle" font-size="8.5" letter-spacing="-0.3">2004</text>
<text x="145.28" y="278.90" text-anchor="middle" font-size="8.5" letter-spacing="-0.3">2005</text>
<text x="251.32" y="278.90" text-anchor="middle" font-size="8.5" letter-spacing="-0.3">2006</text>
<text x="357.35" y="278.90" text-anchor="middle" font-size="8.5" letter-spacing="-0.3">2007</text>
<text x="463.38" y="278.90" text-anchor="middle" font-size="8.5" letter-spacing="-0.3">2008</text>
<text x="569.42" y="278.90" text-anchor="middle" font-size="8.5" letter-spacing="-0.3">2009</text>
<text x="675.45" y="278.90" text-anchor="middle" font-size="8.5" letter-spacing="-0.3">2010</text>
<path d="M39.40 267.75 V270.75 M145.43 267.75 V270.75 M251.47 267.75 V270.75 M357.50 267.75 V270.75 M463.53 267.75 V270.75 M569.57 267.75 V270.75 M675.60 267.75 V270.75" stroke="#333" stroke-width="1" fill="none"/>
<text x="38.9" y="201.20" font-size="8.3" letter-spacing="-0.1">Nurse</text>
<rect x="94.80" y="290.70" width="6.20" height="69.80" fill="#1E90FF"/>
<rect x="165.90" y="290.70" width="6.10" height="69.80" fill="#1E90FF"/>
<rect x="180.30" y="290.70" width="11.90" height="69.80" fill="#1E90FF"/>
<rect x="298.20" y="290.70" width="8.30" height="69.80" fill="#1E90FF"/>
<rect x="371.40" y="290.70" width="8.10" height="69.80" fill="#1E90FF"/>
<rect x="406.10" y="290.70" width="7.90" height="69.80" fill="#1E90FF"/>
<rect x="479.50" y="290.70" width="8.10" height="69.80" fill="#1E90FF"/>
<rect x="520.00" y="290.70" width="7.90" height="69.80" fill="#1E90FF"/>
<rect x="572.90" y="290.70" width="18.20" height="69.80" fill="#1E90FF"/>
<rect x="604.00" y="290.70" width="12.90" height="69.80" fill="#EC6464"/>
<rect x="616.90" y="290.70" width="58.90" height="69.80" fill="#924346"/>
<rect x="617.50" y="290.70" width="0.90" height="69.80" fill="#8C494D"/>
<rect x="619.01" y="290.70" width="1.18" height="69.80" fill="#8C494D"/>
<rect x="620.85" y="290.70" width="0.77" height="69.80" fill="#8C494D"/>
<rect x="623.56" y="290.70" width="0.79" height="69.80" fill="#983E41"/>
<rect x="626.07" y="290.70" width="1.06" height="69.80" fill="#983E41"/>
<rect x="627.58" y="290.70" width="1.02" height="69.80" fill="#8C494D"/>
<rect x="629.51" y="290.70" width="0.86" height="69.80" fill="#8C494D"/>
<rect x="631.04" y="290.70" width="0.96" height="69.80" fill="#8C494D"/>
<rect x="632.61" y="290.70" width="0.72" height="69.80" fill="#983E41"/>
<rect x="633.73" y="290.70" width="0.66" height="69.80" fill="#983E41"/>
<rect x="634.81" y="290.70" width="0.96" height="69.80" fill="#983E41"/>
<rect x="636.59" y="290.70" width="1.18" height="69.80" fill="#983E41"/>
<rect x="638.15" y="290.70" width="1.01" height="69.80" fill="#8C494D"/>
<rect x="639.98" y="290.70" width="0.97" height="69.80" fill="#983E41"/>
<rect x="641.88" y="290.70" width="0.94" height="69.80" fill="#8C494D"/>
<rect x="643.56" y="290.70" width="1.06" height="69.80" fill="#8C494D"/>
<rect x="645.15" y="290.70" width="0.62" height="69.80" fill="#8C494D"/>
<rect x="646.69" y="290.70" width="0.69" height="69.80" fill="#8C494D"/>
<rect x="648.10" y="290.70" width="1.02" height="69.80" fill="#983E41"/>
<rect x="649.39" y="290.70" width="0.76" height="69.80" fill="#8C494D"/>
<rect x="650.66" y="290.70" width="0.75" height="69.80" fill="#983E41"/>
<rect x="652.19" y="290.70" width="0.75" height="69.80" fill="#8C494D"/>
<rect x="655.45" y="290.70" width="0.93" height="69.80" fill="#983E41"/>
<rect x="657.12" y="290.70" width="1.11" height="69.80" fill="#983E41"/>
<rect x="658.46" y="290.70" width="0.88" height="69.80" fill="#983E41"/>
<rect x="661.60" y="290.70" width="1.10" height="69.80" fill="#8C494D"/>
<rect x="663.47" y="290.70" width="1.19" height="69.80" fill="#983E41"/>
<rect x="665.07" y="290.70" width="0.91" height="69.80" fill="#983E41"/>
<rect x="666.82" y="290.70" width="1.15" height="69.80" fill="#8C494D"/>
<rect x="668.28" y="290.70" width="0.83" height="69.80" fill="#983E41"/>
<rect x="669.82" y="290.70" width="0.75" height="69.80" fill="#983E41"/>
<rect x="671.18" y="290.70" width="0.77" height="69.80" fill="#8C494D"/>
<rect x="672.42" y="290.70" width="1.06" height="69.80" fill="#983E41"/>
<rect x="674.27" y="290.70" width="0.67" height="69.80" fill="#8C494D"/>
<path d="M39.40 350.03 L39.69 349.71 L39.98 346.57 L40.27 349.13 L40.56 349.90 L40.85 347.25 L41.14 350.16 L41.43 348.66 L41.72 352.51 L42.01 349.45 L42.30 348.99 L42.59 343.40 L42.88 347.37 L43.17 347.16 L43.46 352.14 L43.75 343.84 L44.04 355.64 L44.34 347.31 L44.63 348.06 L44.92 349.65 L45.21 348.39 L45.50 348.88 L45.79 347.60 L46.08 349.59 L46.37 344.50 L46.66 350.27 L46.95 345.87 L47.24 348.72 L47.53 345.02 L47.82 354.55 L48.11 353.74 L48.40 351.48 L48.69 349.50 L48.98 344.25 L49.27 347.07 L49.56 346.14 L49.85 347.12 L50.14 353.29 L50.43 353.14 L50.72 345.68 L51.01 344.12 L51.30 344.62 L51.59 349.44 L51.88 350.54 L52.17 353.53 L52.46 353.86 L52.75 348.52 L53.04 350.79 L53.33 343.82 L53.62 350.85 L53.92 352.14 L54.21 352.03 L54.50 354.92 L54.79 349.64 L55.08 349.31 L55.37 348.75 L55.66 354.46 L55.95 348.20 L56.24 354.09 L56.53 352.74 L56.82 346.51 L57.11 350.29 L57.40 348.66 L57.69 350.99 L57.98 351.32 L58.27 352.70 L58.56 354.70 L58.85 345.10 L59.14 350.88 L59.43 352.77 L59.72 345.42 L60.01 352.15 L60.30 356.21 L60.59 347.55 L60.88 349.06 L61.17 345.42 L61.46 350.92 L61.75 349.66 L62.04 352.99 L62.33 355.26 L62.62 352.99 L62.91 347.97 L63.20 347.43 L63.50 344.91 L63.79 353.22 L64.08 351.60 L64.37 355.43 L64.66 354.48 L64.95 352.73 L65.24 353.29 L65.53 351.72 L65.82 354.39 L66.11 350.83 L66.40 354.64 L66.69 348.76 L66.98 348.51 L67.27 349.32 L67.56 348.09 L67.85 349.67 L68.14 350.83 L68.43 353.13 L68.72 352.39 L69.01 345.07 L69.30 346.84 L69.59 348.86 L69.88 349.90 L70.17 352.58 L70.46 351.68 L70.75 356.27 L71.04 345.19 L71.33 349.65 L71.62 350.26 L71.91 349.11 L72.20 352.34 L72.49 354.96 L72.78 350.46 L73.08 350.41 L73.37 354.47 L73.66 350.20 L73.95 353.93 L74.24 345.76 L74.53 351.86 L74.82 351.81 L75.11 341.20 L75.40 342.59 L75.69 348.45 L75.98 358.08 L76.27 347.35 L76.56 348.51 L76.85 352.63 L77.14 348.91 L77.43 347.40 L77.72 352.47 L78.01 352.05 L78.30 351.90 L78.59 356.89 L78.88 355.03 L79.17 356.18 L79.46 350.82 L79.75 348.12 L80.04 355.38 L80.33 348.73 L80.62 351.45 L80.91 353.75 L81.20 349.31 L81.49 349.01 L81.78 351.92 L82.07 351.11 L82.36 350.63 L82.66 351.03 L82.95 350.40 L83.24 352.14 L83.53 349.49 L83.82 353.90 L84.11 353.32 L84.40 350.37 L84.69 351.23 L84.98 349.76 L85.27 345.91 L85.56 348.61 L85.85 349.38 L86.14 348.62 L86.43 356.90 L86.72 351.58 L87.01 344.75 L87.30 344.63 L87.59 352.07 L87.88 347.19 L88.17 342.20 L88.46 346.16 L88.75 350.62 L89.04 351.73 L89.33 343.14 L89.62 344.22 L89.91 346.91 L90.20 347.75 L90.49 346.18 L90.78 348.96 L91.07 354.23 L91.36 345.37 L91.65 347.55 L91.94 349.60 L92.24 348.16 L92.53 350.54 L92.82 360.29 L93.11 348.18 L93.40 346.03 L93.69 349.59 L93.98 351.01 L94.27 350.35 L94.56 355.34 L94.85 354.66 L95.14 355.68 L95.43 351.02 L95.72 353.29 L96.01 351.73 L96.30 348.45 L96.59 357.90 L96.88 353.72 L97.17 353.31 L97.46 352.34 L97.75 348.55 L98.04 346.52 L98.33 352.73 L98.62 345.25 L98.91 355.35 L99.20 350.58 L99.49 343.43 L99.78 349.57 L100.07 352.08 L100.36 347.68 L100.65 346.71 L100.94 352.97 L101.23 347.74 L101.52 348.65 L101.82 344.68 L102.11 348.58 L102.40 347.11 L102.69 347.26 L102.98 351.55 L103.27 347.03 L103.56 342.11 L103.85 346.53 L104.14 348.31 L104.43 351.61 L104.72 349.86 L105.01 351.98 L105.30 352.42 L105.59 347.88 L105.88 348.30 L106.17 347.86 L106.46 352.57 L106.75 353.38 L107.04 351.93 L107.33 351.07 L107.62 348.93 L107.91 345.22 L108.20 356.91 L108.49 351.66 L108.78 355.31 L109.07 350.39 L109.36 350.85 L109.65 342.58 L109.94 343.65 L110.23 346.48 L110.52 346.19 L110.81 344.01 L111.10 349.77 L111.40 349.47 L111.69 345.07 L111.98 345.30 L112.27 345.50 L112.56 344.27 L112.85 349.81 L113.14 347.89 L113.43 351.67 L113.72 346.00 L114.01 348.66 L114.30 346.11 L114.59 348.92 L114.88 352.49 L115.17 351.01 L115.46 351.41 L115.75 348.21 L116.04 349.89 L116.33 352.71 L116.62 343.88 L116.91 350.34 L117.20 351.94 L117.49 356.27 L117.78 352.38 L118.07 350.27 L118.36 352.05 L118.65 349.86 L118.94 353.25 L119.23 350.11 L119.52 347.83 L119.81 347.28 L120.10 344.07 L120.39 349.43 L120.68 346.15 L120.98 346.52 L121.27 345.31 L121.56 350.68 L121.85 342.46 L122.14 341.31 L122.43 348.22 L122.72 346.75 L123.01 350.26 L123.30 352.56 L123.59 347.72 L123.88 341.82 L124.17 338.63 L124.46 342.20 L124.75 343.57 L125.04 347.71 L125.33 350.43 L125.62 349.08 L125.91 348.44 L126.20 339.00 L126.49 346.32 L126.78 347.59 L127.07 346.78 L127.36 346.18 L127.65 344.61 L127.94 342.24 L128.23 341.53 L128.52 343.79 L128.81 346.31 L129.10 343.63 L129.39 345.75 L129.68 350.35 L129.97 337.99 L130.26 347.91 L130.56 344.40 L130.85 349.43 L131.14 350.50 L131.43 352.87 L131.72 349.41 L132.01 348.70 L132.30 357.18 L132.59 344.04 L132.88 352.24 L133.17 351.13 L133.46 350.11 L133.75 353.47 L134.04 343.36 L134.33 346.36 L134.62 343.94 L134.91 346.46 L135.20 349.78 L135.49 346.35 L135.78 348.64 L136.07 342.51 L136.36 347.40 L136.65 346.39 L136.94 345.60 L137.23 346.72 L137.52 346.36 L137.81 351.10 L138.10 342.54 L138.39 340.32 L138.68 343.43 L138.97 342.81 L139.26 341.48 L139.55 348.09 L139.84 347.89 L140.14 342.98 L140.43 339.89 L140.72 343.46 L141.01 349.51 L141.30 347.98 L141.59 354.48 L141.88 347.48 L142.17 342.41 L142.46 346.71 L142.75 349.06 L143.04 353.88 L143.33 348.59 L143.62 354.32 L143.91 352.59 L144.20 344.66 L144.49 349.66 L144.78 352.39 L145.07 351.66 L145.36 352.99 L145.65 345.73 L145.94 351.10 L146.23 357.20 L146.52 344.73 L146.81 356.21 L147.10 348.49 L147.39 349.08 L147.68 355.05 L147.97 351.69 L148.26 352.02 L148.55 347.04 L148.84 345.85 L149.13 354.83 L149.43 353.75 L149.72 352.46 L150.01 352.74 L150.30 348.58 L150.59 347.76 L150.88 349.68 L151.17 353.98 L151.46 349.52 L151.75 355.50 L152.04 357.27 L152.33 354.30 L152.62 356.04 L152.91 349.59 L153.20 344.79 L153.49 354.16 L153.78 353.31 L154.07 350.30 L154.36 347.22 L154.65 346.85 L154.94 349.04 L155.23 351.83 L155.52 355.48 L155.81 355.24 L156.10 347.73 L156.39 344.43 L156.68 344.44 L156.97 349.66 L157.26 348.63 L157.55 352.27 L157.84 350.56 L158.13 351.80 L158.42 345.91 L158.71 344.94 L159.01 353.41 L159.30 349.80 L159.59 353.96 L159.88 347.73 L160.17 348.97 L160.46 342.69 L160.75 342.83 L161.04 339.85 L161.33 344.69 L161.62 347.35 L161.91 352.34 L162.20 348.16 L162.49 346.24 L162.78 347.31 L163.07 348.15 L163.36 347.60 L163.65 348.69 L163.94 348.56 L164.23 344.07 L164.52 346.40 L164.81 339.55 L165.10 339.15 L165.39 344.97 L165.68 342.57 L165.97 351.09 L166.26 346.91 L166.55 342.89 L166.84 340.61 L167.13 345.89 L167.42 346.78 L167.71 346.31 L168.00 349.53 L168.29 349.38 L168.59 342.27 L168.88 346.02 L169.17 343.63 L169.46 342.58 L169.75 350.19 L170.04 346.97 L170.33 348.39 L170.62 341.24 L170.91 344.14 L171.20 344.09 L171.49 345.18 L171.78 342.53 L172.07 349.49 L172.36 343.22 L172.65 339.71 L172.94 337.91 L173.23 337.04 L173.52 344.28 L173.81 339.90 L174.10 342.09 L174.39 348.64 L174.68 338.93 L174.97 343.89 L175.26 344.10 L175.55 344.43 L175.84 345.32 L176.13 345.54 L176.42 343.67 L176.71 339.14 L177.00 337.28 L177.29 338.71 L177.58 340.61 L177.87 344.12 L178.17 341.67 L178.46 341.78 L178.75 342.31 L179.04 341.64 L179.33 340.00 L179.62 336.30 L179.91 338.95 L180.20 344.43 L180.49 344.38 L180.78 334.61 L181.07 342.67 L181.36 341.53 L181.65 345.96 L181.94 345.14 L182.23 349.95 L182.52 352.59 L182.81 357.43 L183.10 344.79 L183.39 345.26 L183.68 346.00 L183.97 345.28 L184.26 352.76 L184.55 354.05 L184.84 346.52 L185.13 347.16 L185.42 349.84 L185.71 347.80 L186.00 349.51 L186.29 349.79 L186.58 349.06 L186.87 346.51 L187.16 345.18 L187.45 349.98 L187.75 349.83 L188.04 354.97 L188.33 352.63 L188.62 353.33 L188.91 347.13 L189.20 344.84 L189.49 343.45 L189.78 347.10 L190.07 350.79 L190.36 349.94 L190.65 355.67 L190.94 348.12 L191.23 347.79 L191.52 348.02 L191.81 348.97 L192.10 344.81 L192.39 351.27 L192.68 352.80 L192.97 344.42 L193.26 349.78 L193.55 352.20 L193.84 352.06 L194.13 347.47 L194.42 350.34 L194.71 350.24 L195.00 347.05 L195.29 351.09 L195.58 347.35 L195.87 353.04 L196.16 351.28 L196.45 355.72 L196.74 353.50 L197.03 349.43 L197.33 345.90 L197.62 356.74 L197.91 345.83 L198.20 351.83 L198.49 352.08 L198.78 349.27 L199.07 348.30 L199.36 347.31 L199.65 347.04 L199.94 350.08 L200.23 350.76 L200.52 350.11 L200.81 349.80 L201.10 349.97 L201.39 342.70 L201.68 347.25 L201.97 355.15 L202.26 349.77 L202.55 345.35 L202.84 344.67 L203.13 343.19 L203.42 347.68 L203.71 345.06 L204.00 342.44 L204.29 345.92 L204.58 350.33 L204.87 352.47 L205.16 344.41 L205.45 348.05 L205.74 346.84 L206.03 345.84 L206.32 344.31 L206.61 351.29 L206.91 350.34 L207.20 351.74 L207.49 343.90 L207.78 344.25 L208.07 348.15 L208.36 354.25 L208.65 351.22 L208.94 350.18 L209.23 341.13 L209.52 346.03 L209.81 345.11 L210.10 345.33 L210.39 344.97 L210.68 353.32 L210.97 352.26 L211.26 348.62 L211.55 347.12 L211.84 348.04 L212.13 347.04 L212.42 350.63 L212.71 350.53 L213.00 352.84 L213.29 342.38 L213.58 350.33 L213.87 341.63 L214.16 344.57 L214.45 351.83 L214.74 348.04 L215.03 349.08 L215.32 350.44 L215.61 345.67 L215.90 349.11 L216.19 347.72 L216.49 350.77 L216.78 356.07 L217.07 349.27 L217.36 345.88 L217.65 348.11 L217.94 350.10 L218.23 352.10 L218.52 350.03 L218.81 359.83 L219.10 349.27 L219.39 348.60 L219.68 349.75 L219.97 350.74 L220.26 355.97 L220.55 347.03 L220.84 356.99 L221.13 353.26 L221.42 349.01 L221.71 346.41 L222.00 350.53 L222.29 354.79 L222.58 358.29 L222.87 359.53 L223.16 353.81 L223.45 350.71 L223.74 346.65 L224.03 348.91 L224.32 355.95 L224.61 352.23 L224.90 355.05 L225.19 354.31 L225.48 346.07 L225.77 352.18 L226.07 349.05 L226.36 351.50 L226.65 349.34 L226.94 349.59 L227.23 353.91 L227.52 347.64 L227.81 346.12 L228.10 346.27 L228.39 346.40 L228.68 349.18 L228.97 353.20 L229.26 354.13 L229.55 342.14 L229.84 342.09 L230.13 344.70 L230.42 340.76 L230.71 347.50 L231.00 350.35 L231.29 346.16 L231.58 347.83 L231.87 343.73 L232.16 346.89 L232.45 348.86 L232.74 345.85 L233.03 352.57 L233.32 351.46 L233.61 351.08 L233.90 350.60 L234.19 349.19 L234.48 350.35 L234.77 350.36 L235.06 352.10 L235.35 353.94 L235.65 352.87 L235.94 348.09 L236.23 347.67 L236.52 350.30 L236.81 350.45 L237.10 345.04 L237.39 346.14 L237.68 341.34 L237.97 343.13 L238.26 345.01 L238.55 346.46 L238.84 343.64 L239.13 347.82 L239.42 347.80 L239.71 342.80 L240.00 343.29 L240.29 340.75 L240.58 345.80 L240.87 337.53 L241.16 350.12 L241.45 347.73 L241.74 337.45 L242.03 355.27 L242.32 345.05 L242.61 344.90 L242.90 352.01 L243.19 349.34 L243.48 351.42 L243.77 343.23 L244.06 341.43 L244.35 342.29 L244.64 341.19 L244.93 341.81 L245.23 344.41 L245.52 346.91 L245.81 338.57 L246.10 344.82 L246.39 344.37 L246.68 342.64 L246.97 344.63 L247.26 353.32 L247.55 350.15 L247.84 340.23 L248.13 341.78 L248.42 342.56 L248.71 350.03 L249.00 350.15 L249.29 350.05 L249.58 351.52 L249.87 341.71 L250.16 343.87 L250.45 346.07 L250.74 347.64 L251.03 346.81 L251.32 349.71 L251.61 350.27 L251.90 346.77 L252.19 341.92 L252.48 346.27 L252.77 345.16 L253.06 345.66 L253.35 353.10 L253.64 347.78 L253.93 345.51 L254.22 349.00 L254.51 344.25 L254.81 349.66 L255.10 348.26 L255.39 347.92 L255.68 345.80 L255.97 348.67 L256.26 349.04 L256.55 346.29 L256.84 351.71 L257.13 357.84 L257.42 350.37 L257.71 351.32 L258.00 345.86 L258.29 348.07 L258.58 351.66 L258.87 350.95 L259.16 352.59 L259.45 355.57 L259.74 353.44 L260.03 349.21 L260.32 353.91 L260.61 349.11 L260.90 349.64 L261.19 350.07 L261.48 359.95 L261.77 352.40 L262.06 348.20 L262.35 350.82 L262.64 347.86 L262.93 352.44 L263.22 345.49 L263.51 349.44 L263.80 352.20 L264.09 342.96 L264.39 346.01 L264.68 346.32 L264.97 351.75 L265.26 348.19 L265.55 349.40 L265.84 350.80 L266.13 351.04 L266.42 345.15 L266.71 344.79 L267.00 346.27 L267.29 350.02 L267.58 355.13 L267.87 354.08 L268.16 349.10 L268.45 347.47 L268.74 346.29 L269.03 349.34 L269.32 352.93 L269.61 352.88 L269.90 354.10 L270.19 342.45 L270.48 349.63 L270.77 346.02 L271.06 344.76 L271.35 349.92 L271.64 346.26 L271.93 348.63 L272.22 346.10 L272.51 348.82 L272.80 346.81 L273.09 344.31 L273.38 352.46 L273.67 349.46 L273.97 352.54 L274.26 349.55 L274.55 347.27 L274.84 348.81 L275.13 349.76 L275.42 347.80 L275.71 353.54 L276.00 346.61 L276.29 344.62 L276.58 349.10 L276.87 354.21 L277.16 349.38 L277.45 351.64 L277.74 350.68 L278.03 349.53 L278.32 341.78 L278.61 348.99 L278.90 346.65 L279.19 349.56 L279.48 349.84 L279.77 346.66 L280.06 350.90 L280.35 346.97 L280.64 348.72 L280.93 347.29 L281.22 346.37 L281.51 349.38 L281.80 354.12 L282.09 349.73 L282.38 348.53 L282.67 350.05 L282.96 350.53 L283.25 349.73 L283.55 357.78 L283.84 350.99 L284.13 353.42 L284.42 345.55 L284.71 343.43 L285.00 352.31 L285.29 352.04 L285.58 350.49 L285.87 350.43 L286.16 353.38 L286.45 349.60 L286.74 345.75 L287.03 350.59 L287.32 349.21 L287.61 347.57 L287.90 352.79 L288.19 349.34 L288.48 347.24 L288.77 351.87 L289.06 348.43 L289.35 348.53 L289.64 348.68 L289.93 350.08 L290.22 349.82 L290.51 355.85 L290.80 355.86 L291.09 347.57 L291.38 346.47 L291.67 346.91 L291.96 349.99 L292.25 344.51 L292.54 347.92 L292.83 344.71 L293.13 351.38 L293.42 348.77 L293.71 346.91 L294.00 352.26 L294.29 346.00 L294.58 346.78 L294.87 345.44 L295.16 347.52 L295.45 345.81 L295.74 348.31 L296.03 351.76 L296.32 350.36 L296.61 343.85 L296.90 346.21 L297.19 347.54 L297.48 350.05 L297.77 350.84 L298.06 354.52 L298.35 352.17 L298.64 346.09 L298.93 352.86 L299.22 349.03 L299.51 351.65 L299.80 353.34 L300.09 354.98 L300.38 350.08 L300.67 346.78 L300.96 348.39 L301.25 345.95 L301.54 345.59 L301.83 354.93 L302.12 351.64 L302.41 355.30 L302.71 352.85 L303.00 352.48 L303.29 349.37 L303.58 352.78 L303.87 354.02 L304.16 351.46 L304.45 353.04 L304.74 350.22 L305.03 347.24 L305.32 350.87 L305.61 352.57 L305.90 353.33 L306.19 353.89 L306.48 352.31 L306.77 346.01 L307.06 346.10 L307.35 349.57 L307.64 351.59 L307.93 346.76 L308.22 350.95 L308.51 353.76 L308.80 348.63 L309.09 345.30 L309.38 346.58 L309.67 344.45 L309.96 350.24 L310.25 346.16 L310.54 354.72 L310.83 345.38 L311.12 342.88 L311.41 343.81 L311.70 348.68 L311.99 346.55 L312.29 347.61 L312.58 348.54 L312.87 348.25 L313.16 344.13 L313.45 352.86 L313.74 348.98 L314.03 350.60 L314.32 352.19 L314.61 351.88 L314.90 344.70 L315.19 350.23 L315.48 346.54 L315.77 343.43 L316.06 348.05 L316.35 349.23 L316.64 348.56 L316.93 347.67 L317.22 345.93 L317.51 345.72 L317.80 345.33 L318.09 343.48 L318.38 347.46 L318.67 353.91 L318.96 348.30 L319.25 351.34 L319.54 355.12 L319.83 345.96 L320.12 348.19 L320.41 357.10 L320.70 350.87 L320.99 341.20 L321.28 348.44 L321.57 350.08 L321.87 350.24 L322.16 351.73 L322.45 355.59 L322.74 354.52 L323.03 346.82 L323.32 349.87 L323.61 348.44 L323.90 358.19 L324.19 350.20 L324.48 354.06 L324.77 357.20 L325.06 355.65 L325.35 347.10 L325.64 350.39 L325.93 349.22 L326.22 351.47 L326.51 357.00 L326.80 349.50 L327.09 353.82 L327.38 348.99 L327.67 350.20 L327.96 346.90 L328.25 345.98 L328.54 349.32 L328.83 357.24 L329.12 343.91 L329.41 354.73 L329.70 348.28 L329.99 350.69 L330.28 353.28 L330.57 353.75 L330.86 354.04 L331.15 344.83 L331.45 342.53 L331.74 343.23 L332.03 346.29 L332.32 345.50 L332.61 351.34 L332.90 344.96 L333.19 343.66 L333.48 348.87 L333.77 347.97 L334.06 350.23 L334.35 350.09 L334.64 353.11 L334.93 356.74 L335.22 344.91 L335.51 348.72 L335.80 347.76 L336.09 350.46 L336.38 356.52 L336.67 358.32 L336.96 353.62 L337.25 348.87 L337.54 342.34 L337.83 351.38 L338.12 348.09 L338.41 349.02 L338.70 355.51 L338.99 350.77 L339.28 346.26 L339.57 350.05 L339.86 353.36 L340.15 346.90 L340.44 349.16 L340.73 348.23 L341.03 350.37 L341.32 343.22 L341.61 346.85 L341.90 341.66 L342.19 344.63 L342.48 343.06 L342.77 350.71 L343.06 352.32 L343.35 349.08 L343.64 347.53 L343.93 346.68 L344.22 350.25 L344.51 343.03 L344.80 352.91 L345.09 351.07 L345.38 346.17 L345.67 349.81 L345.96 345.61 L346.25 346.43 L346.54 346.81 L346.83 354.36 L347.12 350.81 L347.41 345.63 L347.70 357.68 L347.99 350.76 L348.28 346.15 L348.57 343.39 L348.86 351.73 L349.15 352.54 L349.44 342.64 L349.73 347.21 L350.02 346.80 L350.31 346.93 L350.61 346.29 L350.90 353.03 L351.19 357.73 L351.48 346.01 L351.77 349.79 L352.06 347.88 L352.35 349.77 L352.64 344.67 L352.93 350.62 L353.22 346.96 L353.51 341.70 L353.80 346.08 L354.09 345.56 L354.38 346.94 L354.67 349.69 L354.96 345.46 L355.25 350.16 L355.54 347.99 L355.83 347.91 L356.12 347.79 L356.41 347.24 L356.70 348.98 L356.99 352.32 L357.28 355.67 L357.57 342.69 L357.86 341.96 L358.15 349.89 L358.44 353.02 L358.73 346.91 L359.02 352.33 L359.31 359.36 L359.60 344.75 L359.90 348.06 L360.19 347.78 L360.48 341.42 L360.77 343.81 L361.06 349.72 L361.35 349.36 L361.64 341.10 L361.93 348.27 L362.22 344.26 L362.51 348.87 L362.80 344.64 L363.09 349.19 L363.38 350.84 L363.67 341.07 L363.96 343.21 L364.25 341.76 L364.54 348.38 L364.83 347.34 L365.12 352.84 L365.41 347.55 L365.70 346.26 L365.99 345.89 L366.28 342.32 L366.57 344.60 L366.86 357.20 L367.15 350.05 L367.44 347.80 L367.73 340.30 L368.02 343.99 L368.31 349.42 L368.60 341.57 L368.89 348.96 L369.18 344.51 L369.48 347.67 L369.77 336.09 L370.06 342.45 L370.35 344.89 L370.64 345.71 L370.93 352.68 L371.22 352.39 L371.51 354.00 L371.80 346.55 L372.09 353.77 L372.38 352.33 L372.67 345.46 L372.96 348.47 L373.25 352.55 L373.54 350.89 L373.83 346.56 L374.12 346.97 L374.41 344.55 L374.70 346.63 L374.99 343.93 L375.28 350.51 L375.57 352.73 L375.86 345.27 L376.15 345.77 L376.44 349.58 L376.73 347.09 L377.02 348.75 L377.31 347.56 L377.60 347.15 L377.89 340.54 L378.18 347.26 L378.47 345.67 L378.76 342.85 L379.06 346.26 L379.35 350.16 L379.64 350.43 L379.93 341.06 L380.22 344.57 L380.51 342.59 L380.80 344.83 L381.09 340.37 L381.38 349.59 L381.67 354.26 L381.96 343.44 L382.25 344.40 L382.54 343.43 L382.83 349.40 L383.12 350.13 L383.41 352.79 L383.70 350.92 L383.99 349.47 L384.28 343.76 L384.57 344.27 L384.86 349.42 L385.15 351.23 L385.44 350.40 L385.73 351.33 L386.02 341.91 L386.31 347.83 L386.60 345.15 L386.89 351.63 L387.18 351.42 L387.47 356.09 L387.76 355.16 L388.05 342.70 L388.34 343.27 L388.64 345.32 L388.93 344.89 L389.22 351.67 L389.51 346.01 L389.80 357.77 L390.09 338.23 L390.38 337.35 L390.67 357.64 L390.96 341.63 L391.25 343.60 L391.54 351.13 L391.83 349.89 L392.12 343.62 L392.41 356.22 L392.70 343.76 L392.99 345.79 L393.28 345.25 L393.57 352.43 L393.86 355.65 L394.15 356.32 L394.44 347.56 L394.73 352.84 L395.02 345.92 L395.31 350.53 L395.60 352.08 L395.89 348.39 L396.18 345.16 L396.47 341.52 L396.76 344.72 L397.05 345.28 L397.34 347.76 L397.63 351.51 L397.92 353.00 L398.22 344.53 L398.51 342.94 L398.80 344.62 L399.09 346.97 L399.38 345.91 L399.67 349.30 L399.96 355.06 L400.25 346.18 L400.54 344.88 L400.83 350.13 L401.12 351.02 L401.41 347.89 L401.70 353.06 L401.99 348.71 L402.28 345.44 L402.57 343.65 L402.86 338.25 L403.15 341.63 L403.44 349.04 L403.73 349.78 L404.02 349.23 L404.31 341.74 L404.60 347.09 L404.89 344.13 L405.18 354.97 L405.47 342.53 L405.76 350.86 L406.05 349.20 L406.34 343.41 L406.63 346.58 L406.92 340.77 L407.21 346.70 L407.50 347.46 L407.80 346.64 L408.09 347.15 L408.38 337.52 L408.67 337.88 L408.96 344.13 L409.25 348.77 L409.54 342.11 L409.83 345.60 L410.12 355.08 L410.41 347.02 L410.70 347.47 L410.99 341.64 L411.28 342.01 L411.57 342.42 L411.86 349.83 L412.15 348.34 L412.44 346.60 L412.73 349.50 L413.02 346.23 L413.31 345.53 L413.60 342.88 L413.89 346.72 L414.18 352.06 L414.47 341.55 L414.76 342.75 L415.05 346.84 L415.34 344.03 L415.63 345.32 L415.92 347.67 L416.21 349.21 L416.50 344.52 L416.79 346.68 L417.08 343.46 L417.38 346.04 L417.67 347.79 L417.96 346.63 L418.25 348.38 L418.54 346.49 L418.83 341.07 L419.12 343.68 L419.41 345.81 L419.70 349.67 L419.99 347.95 L420.28 350.16 L420.57 347.68 L420.86 344.46 L421.15 341.30 L421.44 347.37 L421.73 345.52 L422.02 345.79 L422.31 348.65 L422.60 344.15 L422.89 345.75 L423.18 346.29 L423.47 349.97 L423.76 349.70 L424.05 351.53 L424.34 352.74 L424.63 345.54 L424.92 346.76 L425.21 350.00 L425.50 350.35 L425.79 348.62 L426.08 352.07 L426.37 351.38 L426.66 348.30 L426.96 346.80 L427.25 345.93 L427.54 346.48 L427.83 350.78 L428.12 348.88 L428.41 348.30 L428.70 346.72 L428.99 342.70 L429.28 345.32 L429.57 345.85 L429.86 344.55 L430.15 349.00 L430.44 352.57 L430.73 341.03 L431.02 345.77 L431.31 357.42 L431.60 342.83 L431.89 345.29 L432.18 350.69 L432.47 347.45 L432.76 343.01 L433.05 348.53 L433.34 348.14 L433.63 345.93 L433.92 343.05 L434.21 350.82 L434.50 347.80 L434.79 345.77 L435.08 345.77 L435.37 347.00 L435.66 350.69 L435.95 347.52 L436.24 352.74 L436.54 357.57 L436.83 345.72 L437.12 344.46 L437.41 346.44 L437.70 346.58 L437.99 351.58 L438.28 353.94 L438.57 352.16 L438.86 346.58 L439.15 346.22 L439.44 342.05 L439.73 357.98 L440.02 346.50 L440.31 343.96 L440.60 347.79 L440.89 345.95 L441.18 344.76 L441.47 345.16 L441.76 343.99 L442.05 347.70 L442.34 346.92 L442.63 346.49 L442.92 337.21 L443.21 339.79 L443.50 344.55 L443.79 343.38 L444.08 342.33 L444.37 346.89 L444.66 347.52 L444.95 336.95 L445.24 342.60 L445.53 343.32 L445.82 348.08 L446.12 346.50 L446.41 355.23 L446.70 347.00 L446.99 346.52 L447.28 345.17 L447.57 344.04 L447.86 350.37 L448.15 347.06 L448.44 352.12 L448.73 348.67 L449.02 345.63 L449.31 346.48 L449.60 343.97 L449.89 347.02 L450.18 348.03 L450.47 352.89 L450.76 344.55 L451.05 343.54 L451.34 345.65 L451.63 347.61 L451.92 346.18 L452.21 345.88 L452.50 350.96 L452.79 349.66 L453.08 346.31 L453.37 342.71 L453.66 355.30 L453.95 347.77 L454.24 349.64 L454.53 350.27 L454.82 357.18 L455.11 347.15 L455.40 347.10 L455.70 347.03 L455.99 342.47 L456.28 357.84 L456.57 346.97 L456.86 348.60 L457.15 339.40 L457.44 338.71 L457.73 346.46 L458.02 346.67 L458.31 345.25 L458.60 351.03 L458.89 350.86 L459.18 337.45 L459.47 346.75 L459.76 343.19 L460.05 346.99 L460.34 342.86 L460.63 347.00 L460.92 343.92 L461.21 343.53 L461.50 343.29 L461.79 346.13 L462.08 342.90 L462.37 343.79 L462.66 348.28 L462.95 348.26 L463.24 342.31 L463.53 343.06 L463.82 346.07 L464.11 347.51 L464.40 348.46 L464.69 352.83 L464.98 346.18 L465.28 346.89 L465.57 341.93 L465.86 345.35 L466.15 351.91 L466.44 352.10 L466.73 351.19 L467.02 352.00 L467.31 343.29 L467.60 342.68 L467.89 344.37 L468.18 346.16 L468.47 348.47 L468.76 346.14 L469.05 349.48 L469.34 338.80 L469.63 342.06 L469.92 351.92 L470.21 351.68 L470.50 347.16 L470.79 354.40 L471.08 350.45 L471.37 342.96 L471.66 351.01 L471.95 347.95 L472.24 349.51 L472.53 351.37 L472.82 349.50 L473.11 351.79 L473.40 340.11 L473.69 344.56 L473.98 348.79 L474.27 347.42 L474.56 351.62 L474.86 351.20 L475.15 355.77 L475.44 349.49 L475.73 346.60 L476.02 344.84 L476.31 346.50 L476.60 348.82 L476.89 347.56 L477.18 345.90 L477.47 346.95 L477.76 342.84 L478.05 351.89 L478.34 348.14 L478.63 349.90 L478.92 352.46 L479.21 349.68 L479.50 347.83 L479.79 345.46 L480.08 341.04 L480.37 345.60 L480.66 343.38 L480.95 347.89 L481.24 352.18 L481.53 338.92 L481.82 342.31 L482.11 343.90 L482.40 348.29 L482.69 348.14 L482.98 352.00 L483.27 350.23 L483.56 343.01 L483.85 344.06 L484.14 346.46 L484.44 351.59 L484.73 349.43 L485.02 352.41 L485.31 349.04 L485.60 345.43 L485.89 348.06 L486.18 347.29 L486.47 350.15 L486.76 350.40 L487.05 348.97 L487.34 349.47 L487.63 344.32 L487.92 342.65 L488.21 357.30 L488.50 343.13 L488.79 348.20 L489.08 344.94 L489.37 347.48 L489.66 341.16 L489.95 342.12 L490.24 341.16 L490.53 340.52 L490.82 339.84 L491.11 344.82 L491.40 345.70 L491.69 338.47 L491.98 340.63 L492.27 338.93 L492.56 341.78 L492.85 339.93 L493.14 344.46 L493.43 340.30 L493.72 337.07 L494.02 342.28 L494.31 343.06 L494.60 343.24 L494.89 347.24 L495.18 350.07 L495.47 345.82 L495.76 340.31 L496.05 339.85 L496.34 354.61 L496.63 347.51 L496.92 352.22 L497.21 344.45 L497.50 350.67 L497.79 342.24 L498.08 338.95 L498.37 340.79 L498.66 348.44 L498.95 340.86 L499.24 348.80 L499.53 352.29 L499.82 342.23 L500.11 342.62 L500.40 343.77 L500.69 352.15 L500.98 341.86 L501.27 355.41 L501.56 350.66 L501.85 340.41 L502.14 357.03 L502.43 346.18 L502.72 348.99 L503.01 344.96 L503.30 345.50 L503.60 348.81 L503.89 342.23 L504.18 344.52 L504.47 344.36 L504.76 348.55 L505.05 345.32 L505.34 347.65 L505.63 351.83 L505.92 342.43 L506.21 344.65 L506.50 342.67 L506.79 346.28 L507.08 348.88 L507.37 351.16 L507.66 349.90 L507.95 341.70 L508.24 345.20 L508.53 343.50 L508.82 347.16 L509.11 348.29 L509.40 346.11 L509.69 347.06 L509.98 340.21 L510.27 343.46 L510.56 345.02 L510.85 341.28 L511.14 349.37 L511.43 351.10 L511.72 347.25 L512.01 340.04 L512.30 344.89 L512.59 347.23 L512.88 349.80 L513.18 347.85 L513.47 349.89 L513.76 349.50 L514.05 343.76 L514.34 344.20 L514.63 346.60 L514.92 348.59 L515.21 348.42 L515.50 348.63 L515.79 354.70 L516.08 347.24 L516.37 341.48 L516.66 344.72 L516.95 339.41 L517.24 338.82 L517.53 348.36 L517.82 351.43 L518.11 344.38 L518.40 343.05 L518.69 345.30 L518.98 344.51 L519.27 346.99 L519.56 347.90 L519.85 355.69 L520.14 338.80 L520.43 342.61 L520.72 343.38 L521.01 349.74 L521.30 346.90 L521.59 351.42 L521.88 349.90 L522.17 344.39 L522.46 344.72 L522.76 341.29 L523.05 344.67 L523.34 348.22 L523.63 348.62 L523.92 340.66 L524.21 339.42 L524.50 346.54 L524.79 344.72 L525.08 346.29 L525.37 346.43 L525.66 354.61 L525.95 349.88 L526.24 341.82 L526.53 345.43 L526.82 342.58 L527.11 354.49 L527.40 341.86 L527.69 345.36 L527.98 348.32 L528.27 340.60 L528.56 340.31 L528.85 341.57 L529.14 344.70 L529.43 347.56 L529.72 357.10 L530.01 345.99 L530.30 342.84 L530.59 343.09 L530.88 341.52 L531.17 347.02 L531.46 350.84 L531.75 354.11 L532.04 350.16 L532.34 341.15 L532.63 347.09 L532.92 341.31 L533.21 347.05 L533.50 346.31 L533.79 349.86 L534.08 344.89 L534.37 344.86 L534.66 342.11 L534.95 347.41 L535.24 349.90 L535.53 348.16 L535.82 349.94 L536.11 345.26 L536.40 344.67 L536.69 343.87 L536.98 339.32 L537.27 343.10 L537.56 345.28 L537.85 348.67 L538.14 350.54 L538.43 340.08 L538.72 338.14 L539.01 343.64 L539.30 346.43 L539.59 343.79 L539.88 347.14 L540.17 345.81 L540.46 338.81 L540.75 339.47 L541.04 341.87 L541.33 339.49 L541.62 347.15 L541.92 347.58 L542.21 344.55 L542.50 341.44 L542.79 337.32 L543.08 348.65 L543.37 342.19 L543.66 343.03 L543.95 346.85 L544.24 345.86 L544.53 342.92 L544.82 344.41 L545.11 339.15 L545.40 356.65 L545.69 347.38 L545.98 349.91 L546.27 349.31 L546.56 339.74 L546.85 339.53 L547.14 344.82 L547.43 345.93 L547.72 346.77 L548.01 345.78 L548.30 345.88 L548.59 338.01 L548.88 338.09 L549.17 346.08 L549.46 342.64 L549.75 347.77 L550.04 345.06 L550.33 343.76 L550.62 337.56 L550.91 337.01 L551.20 342.83 L551.50 345.23 L551.79 342.52 L552.08 348.49 L552.37 344.79 L552.66 342.51 L552.95 340.31 L553.24 340.80 L553.53 344.90 L553.82 343.37 L554.11 343.69 L554.40 345.14 L554.69 336.19 L554.98 339.23 L555.27 340.88 L555.56 344.86 L555.85 343.27 L556.14 341.56 L556.43 343.43 L556.72 337.33 L557.01 339.20 L557.30 344.03 L557.59 341.38 L557.88 346.26 L558.17 349.63 L558.46 344.34 L558.75 341.90 L559.04 342.67 L559.33 343.01 L559.62 341.82 L559.91 337.81 L560.20 348.28 L560.49 344.66 L560.78 335.79 L561.08 340.97 L561.37 342.83 L561.66 345.06 L561.95 344.42 L562.24 346.02 L562.53 343.95 L562.82 339.11 L563.11 337.45 L563.40 341.46 L563.69 346.92 L563.98 341.88 L564.27 353.00 L564.56 346.31 L564.85 338.51 L565.14 342.41 L565.43 343.06 L565.72 344.86 L566.01 343.78 L566.30 348.58 L566.59 344.95 L566.88 341.78 L567.17 340.31 L567.46 341.83 L567.75 342.53 L568.04 344.10 L568.33 349.87 L568.62 344.68 L568.91 339.30 L569.20 347.52 L569.49 346.71 L569.78 356.67 L570.07 345.32 L570.37 341.46 L570.66 355.24 L570.95 339.57 L571.24 343.58 L571.53 344.65 L571.82 344.80 L572.11 344.04 L572.40 350.06 L572.69 347.80 L572.98 342.11 L573.27 343.96 L573.56 345.53 L573.85 346.27 L574.14 346.83 L574.43 351.35 L574.72 348.36 L575.01 347.81 L575.30 347.09 L575.59 345.64 L575.88 341.59 L576.17 345.00 L576.46 348.14 L576.75 342.22 L577.04 337.06 L577.33 334.44 L577.62 340.55 L577.91 341.99 L578.20 342.28 L578.49 342.65 L578.78 342.11 L579.07 339.04 L579.36 339.27 L579.65 345.54 L579.95 340.85 L580.24 344.11 L580.53 348.79 L580.82 346.47 L581.11 340.04 L581.40 341.58 L581.69 342.26 L581.98 344.04 L582.27 338.46 L582.56 347.78 L582.85 345.45 L583.14 335.64 L583.43 336.65 L583.72 336.84 L584.01 343.66 L584.30 343.30 L584.59 344.71 L584.88 348.00 L585.17 334.92 L585.46 342.39 L585.75 340.90 L586.04 340.44 L586.33 341.61 L586.62 347.96 L586.91 344.33 L587.20 336.98 L587.49 345.62 L587.78 343.43 L588.07 342.84 L588.36 345.03 L588.65 348.36 L588.94 347.10 L589.23 334.85 L589.53 343.49 L589.82 340.73 L590.11 345.08 L590.40 342.59 L590.69 345.11 L590.98 347.44 L591.27 342.10 L591.56 339.41 L591.85 344.43 L592.14 342.27 L592.43 347.73 L592.72 342.86 L593.01 350.80 L593.30 342.87 L593.59 342.35 L593.88 341.80 L594.17 341.88 L594.46 339.29 L594.75 341.58 L595.04 340.94 L595.33 337.76 L595.62 340.54 L595.91 347.92 L596.20 344.57 L596.49 346.30 L596.78 347.08 L597.07 349.88 L597.36 342.51 L597.65 344.21 L597.94 341.28 L598.23 342.66 L598.52 346.50 L598.81 352.20 L599.11 347.29 L599.40 341.89 L599.69 342.58 L599.98 342.82 L600.27 341.22 L600.56 341.98 L600.85 347.30 L601.14 346.56 L601.43 334.55 L601.72 341.22 L602.01 339.41 L602.30 341.66 L602.59 343.60 L602.88 344.95 L603.17 350.29 L603.46 337.80 L603.75 339.26 L604.04 342.34 L604.33 342.84 L604.62 344.12 L604.91 343.33 L605.20 343.17 L605.49 340.58 L605.78 339.38 L606.07 346.35 L606.36 341.96 L606.65 339.05 L606.94 353.09 L607.23 346.76 L607.52 342.31 L607.81 342.12 L608.10 346.50 L608.39 343.71 L608.69 351.84 L608.98 347.99 L609.27 347.86 L609.56 339.52 L609.85 333.39 L610.14 344.26 L610.43 346.17 L610.72 347.40 L611.01 346.41 L611.30 347.54 L611.59 343.17 L611.88 335.63 L612.17 338.36 L612.46 335.52 L612.75 339.20 L613.04 345.93 L613.33 349.26 L613.62 345.41 L613.91 341.98 L614.20 355.44 L614.49 344.39 L614.78 346.85 L615.07 348.70 L615.36 345.10 L615.65 327.85 L615.94 344.08 L616.23 344.50 L616.52 346.18 L616.81 346.27 L617.10 342.34 L617.39 347.08 L617.68 343.96 L617.97 333.97 L618.27 333.19 L618.56 339.07 L618.85 350.19 L619.14 353.83 L619.43 344.60 L619.72 345.09 L620.01 342.25 L620.30 349.00 L620.59 336.96 L620.88 346.37 L621.17 345.27 L621.46 346.74 L621.75 337.43 L622.04 342.63 L622.33 335.18 L622.62 343.04 L622.91 334.83 L623.20 349.50 L623.49 342.21 L623.78 331.28 L624.07 341.41 L624.36 337.76 L624.65 341.64 L624.94 344.97 L625.23 345.06 L625.52 349.28 L625.81 337.00 L626.10 343.69 L626.39 338.98 L626.68 337.55 L626.97 338.47 L627.26 348.51 L627.55 344.77 L627.85 327.30 L628.14 332.93 L628.43 334.96 L628.72 346.05 L629.01 341.06 L629.30 335.94 L629.59 342.19 L629.88 352.72 L630.17 341.26 L630.46 334.07 L630.75 338.29 L631.04 348.88 L631.33 349.58 L631.62 342.67 L631.91 330.43 L632.20 338.70 L632.49 340.16 L632.78 349.30 L633.07 341.97 L633.36 337.99 L633.65 337.90 L633.94 335.75 L634.23 329.79 L634.52 336.59 L634.81 338.85 L635.10 332.16 L635.39 344.53 L635.68 340.28 L635.97 336.63 L636.26 335.82 L636.55 335.91 L636.84 337.16 L637.13 340.01 L637.43 342.88 L637.72 349.08 L638.01 333.30 L638.30 326.52 L638.59 333.36 L638.88 331.72 L639.17 339.02 L639.46 343.11 L639.75 339.07 L640.04 330.24 L640.33 333.11 L640.62 339.29 L640.91 339.21 L641.20 345.98 L641.49 340.14 L641.78 344.55 L642.07 337.10 L642.36 341.26 L642.65 334.57 L642.94 333.36 L643.23 334.92 L643.52 336.32 L643.81 344.98 L644.10 328.76 L644.39 334.68 L644.68 346.76 L644.97 336.04 L645.26 340.27 L645.55 342.22 L645.84 342.84 L646.13 335.79 L646.42 331.02 L646.71 341.12 L647.01 337.99 L647.30 337.53 L647.59 346.37 L647.88 348.79 L648.17 335.89 L648.46 340.35 L648.75 342.19 L649.04 338.01 L649.33 333.31 L649.62 338.52 L649.91 352.31 L650.20 327.66 L650.49 333.86 L650.78 335.54 L651.07 338.87 L651.36 332.74 L651.65 346.06 L651.94 341.18 L652.23 327.55 L652.52 335.28 L652.81 345.74 L653.10 343.76 L653.39 339.83 L653.68 337.85 L653.97 342.64 L654.26 333.47 L654.55 340.20 L654.84 334.33 L655.13 336.57 L655.42 336.83 L655.71 346.62 L656.00 342.53 L656.29 339.27 L656.59 341.51 L656.88 343.19 L657.17 345.03 L657.46 342.17 L657.75 354.96 L658.04 346.86 L658.33 338.83 L658.62 345.93 L658.91 345.28 L659.20 342.27 L659.49 344.60 L659.78 348.57 L660.07 342.64 L660.36 338.52 L660.65 332.69 L660.94 335.57 L661.23 335.25 L661.52 335.20 L661.81 336.42 L662.10 342.80 L662.39 327.67 L662.68 338.39 L662.97 335.95 L663.26 334.89 L663.55 338.58 L663.84 346.36 L664.13 344.34 L664.42 336.03 L664.71 334.07 L665.00 332.86 L665.29 332.45 L665.58 339.50 L665.87 338.74 L666.17 337.49 L666.46 332.35 L666.75 334.74 L667.04 333.46 L667.33 333.44 L667.62 334.49 L667.91 338.81 L668.20 347.99 L668.49 328.35 L668.78 338.19 L669.07 335.32 L669.36 340.62 L669.65 337.94 L669.94 346.88 L670.23 345.17 L670.52 325.37 L670.81 336.84 L671.10 329.41 L671.39 333.55 L671.68 339.13 L671.97 333.91 L672.26 341.53 L672.55 332.58 L672.84 331.77 L673.13 337.57 L673.42 328.32 L673.71 343.49 L674.00 346.04 L674.29 350.17 L674.58 332.50 L674.87 331.32 L675.16 330.29 L675.45 330.72" fill="none" stroke="#000" stroke-opacity="0.85" stroke-width="0.70" stroke-linejoin="miter" stroke-miterlimit="4"/>
<path d="M35.90 290.70 V360.50" stroke="#333" stroke-width="1" fill="none"/>
<text x="29.6" y="363.80" text-anchor="end" font-size="9">0</text>
<text x="29.6" y="349.84" text-anchor="end" font-size="9">1</text>
<text x="29.6" y="335.88" text-anchor="end" font-size="9">2</text>
<text x="29.6" y="321.92" text-anchor="end" font-size="9">3</text>
<text x="29.6" y="307.96" text-anchor="end" font-size="9">4</text>
<text x="29.6" y="294.00" text-anchor="end" font-size="9">5</text>
<path d="M31.90 360.50 H35.90 M31.90 346.54 H35.90 M31.90 332.58 H35.90 M31.90 318.62 H35.90 M31.90 304.66 H35.90 M31.90 290.70 H35.90" stroke="#333" stroke-width="1" fill="none"/>
<path d="M39.40 363.75 H675.60" stroke="#333" stroke-width="1" fill="none"/>
<text x="39.25" y="374.90" text-anchor="middle" font-size="8.5" letter-spacing="-0.3">2004</text>
<text x="145.28" y="374.90" text-anchor="middle" font-size="8.5" letter-spacing="-0.3">2005</text>
<text x="251.32" y="374.90" text-anchor="middle" font-size="8.5" letter-spacing="-0.3">2006</text>
<text x="357.35" y="374.90" text-anchor="middle" font-size="8.5" letter-spacing="-0.3">2007</text>
<text x="463.38" y="374.90" text-anchor="middle" font-size="8.5" letter-spacing="-0.3">2008</text>
<text x="569.42" y="374.90" text-anchor="middle" font-size="8.5" letter-spacing="-0.3">2009</text>
<text x="675.45" y="374.90" text-anchor="middle" font-size="8.5" letter-spacing="-0.3">2010</text>
<path d="M39.40 363.75 V366.75 M145.43 363.75 V366.75 M251.47 363.75 V366.75 M357.50 363.75 V366.75 M463.53 363.75 V366.75 M569.57 363.75 V366.75 M675.60 363.75 V366.75" stroke="#333" stroke-width="1" fill="none"/>
<text x="38.9" y="297.20" font-size="8.3" letter-spacing="-0.1">Allied Health</text>
<rect x="94.80" y="386.70" width="6.20" height="69.80" fill="#1E90FF"/>
<rect x="165.90" y="386.70" width="6.10" height="69.80" fill="#1E90FF"/>
<rect x="180.30" y="386.70" width="11.90" height="69.80" fill="#1E90FF"/>
<rect x="298.20" y="386.70" width="8.30" height="69.80" fill="#1E90FF"/>
<rect x="371.40" y="386.70" width="8.10" height="69.80" fill="#1E90FF"/>
<rect x="406.10" y="386.70" width="7.90" height="69.80" fill="#1E90FF"/>
<rect x="479.50" y="386.70" width="8.10" height="69.80" fill="#1E90FF"/>
<rect x="520.00" y="386.70" width="7.90" height="69.80" fill="#1E90FF"/>
<rect x="572.90" y="386.70" width="18.20" height="69.80" fill="#1E90FF"/>
<rect x="604.00" y="386.70" width="12.90" height="69.80" fill="#EC6464"/>
<rect x="616.90" y="386.70" width="58.90" height="69.80" fill="#924346"/>
<rect x="617.50" y="386.70" width="0.90" height="69.80" fill="#8C494D"/>
<rect x="619.01" y="386.70" width="1.18" height="69.80" fill="#8C494D"/>
<rect x="620.85" y="386.70" width="0.77" height="69.80" fill="#8C494D"/>
<rect x="623.56" y="386.70" width="0.79" height="69.80" fill="#983E41"/>
<rect x="626.07" y="386.70" width="1.06" height="69.80" fill="#983E41"/>
<rect x="627.58" y="386.70" width="1.02" height="69.80" fill="#8C494D"/>
<rect x="629.51" y="386.70" width="0.86" height="69.80" fill="#8C494D"/>
<rect x="631.04" y="386.70" width="0.96" height="69.80" fill="#8C494D"/>
<rect x="632.61" y="386.70" width="0.72" height="69.80" fill="#983E41"/>
<rect x="633.73" y="386.70" width="0.66" height="69.80" fill="#983E41"/>
<rect x="634.81" y="386.70" width="0.96" height="69.80" fill="#983E41"/>
<rect x="636.59" y="386.70" width="1.18" height="69.80" fill="#983E41"/>
<rect x="638.15" y="386.70" width="1.01" height="69.80" fill="#8C494D"/>
<rect x="639.98" y="386.70" width="0.97" height="69.80" fill="#983E41"/>
<rect x="641.88" y="386.70" width="0.94" height="69.80" fill="#8C494D"/>
<rect x="643.56" y="386.70" width="1.06" height="69.80" fill="#8C494D"/>
<rect x="645.15" y="386.70" width="0.62" height="69.80" fill="#8C494D"/>
<rect x="646.69" y="386.70" width="0.69" height="69.80" fill="#8C494D"/>
<rect x="648.10" y="386.70" width="1.02" height="69.80" fill="#983E41"/>
<rect x="649.39" y="386.70" width="0.76" height="69.80" fill="#8C494D"/>
<rect x="650.66" y="386.70" width="0.75" height="69.80" fill="#983E41"/>
<rect x="652.19" y="386.70" width="0.75" height="69.80" fill="#8C494D"/>
<rect x="655.45" y="386.70" width="0.93" height="69.80" fill="#983E41"/>
<rect x="657.12" y="386.70" width="1.11" height="69.80" fill="#983E41"/>
<rect x="658.46" y="386.70" width="0.88" height="69.80" fill="#983E41"/>
<rect x="661.60" y="386.70" width="1.10" height="69.80" fill="#8C494D"/>
<rect x="663.47" y="386.70" width="1.19" height="69.80" fill="#983E41"/>
<rect x="665.07" y="386.70" width="0.91" height="69.80" fill="#983E41"/>
<rect x="666.82" y="386.70" width="1.15" height="69.80" fill="#8C494D"/>
<rect x="668.28" y="386.70" width="0.83" height="69.80" fill="#983E41"/>
<rect x="669.82" y="386.70" width="0.75" height="69.80" fill="#983E41"/>
<rect x="671.18" y="386.70" width="0.77" height="69.80" fill="#8C494D"/>
<rect x="672.42" y="386.70" width="1.06" height="69.80" fill="#983E41"/>
<rect x="674.27" y="386.70" width="0.67" height="69.80" fill="#8C494D"/>
<path d="M39.40 456.50 L39.69 456.50 L39.98 456.50 L40.27 456.50 L40.56 435.28 L40.85 456.50 L41.14 445.89 L41.43 456.50 L41.72 456.50 L42.01 456.50 L42.30 456.50 L42.59 456.50 L42.88 456.50 L43.17 456.50 L43.46 456.50 L43.75 456.50 L44.04 456.50 L44.34 435.28 L44.63 456.50 L44.92 456.50 L45.21 424.67 L45.50 456.50 L45.79 456.50 L46.08 456.50 L46.37 456.50 L46.66 424.67 L46.95 435.28 L47.24 456.50 L47.53 435.28 L47.82 456.50 L48.11 456.50 L48.40 424.67 L48.69 456.50 L48.98 456.50 L49.27 456.50 L49.56 456.50 L49.85 456.50 L50.14 456.50 L50.43 456.50 L50.72 456.50 L51.01 414.06 L51.30 424.67 L51.59 456.50 L51.88 456.50 L52.17 456.50 L52.46 456.50 L52.75 456.50 L53.04 456.50 L53.33 456.50 L53.62 456.50 L53.92 456.50 L54.21 456.50 L54.50 456.50 L54.79 456.50 L55.08 424.67 L55.37 456.50 L55.66 456.50 L55.95 456.50 L56.24 435.28 L56.53 456.50 L56.82 456.50 L57.11 456.50 L57.40 456.50 L57.69 456.50 L57.98 456.50 L58.27 456.50 L58.56 456.50 L58.85 424.67 L59.14 456.50 L59.43 456.50 L59.72 456.50 L60.01 456.50 L60.30 456.50 L60.59 456.50 L60.88 456.50 L61.17 435.28 L61.46 456.50 L61.75 456.50 L62.04 456.50 L62.33 456.50 L62.62 456.50 L62.91 424.67 L63.20 435.28 L63.50 424.67 L63.79 456.50 L64.08 435.28 L64.37 456.50 L64.66 456.50 L64.95 456.50 L65.24 424.67 L65.53 456.50 L65.82 456.50 L66.11 445.89 L66.40 435.28 L66.69 456.50 L66.98 456.50 L67.27 456.50 L67.56 456.50 L67.85 456.50 L68.14 456.50 L68.43 456.50 L68.72 456.50 L69.01 456.50 L69.30 456.50 L69.59 456.50 L69.88 456.50 L70.17 456.50 L70.46 456.50 L70.75 445.89 L71.04 435.28 L71.33 445.89 L71.62 435.28 L71.91 456.50 L72.20 456.50 L72.49 456.50 L72.78 456.50 L73.08 456.50 L73.37 456.50 L73.66 456.50 L73.95 456.50 L74.24 456.50 L74.53 456.50 L74.82 456.50 L75.11 456.50 L75.40 456.50 L75.69 456.50 L75.98 456.50 L76.27 456.50 L76.56 456.50 L76.85 456.50 L77.14 445.89 L77.43 456.50 L77.72 456.50 L78.01 456.50 L78.30 435.28 L78.59 456.50 L78.88 456.50 L79.17 456.50 L79.46 456.50 L79.75 456.50 L80.04 456.50 L80.33 456.50 L80.62 456.50 L80.91 456.50 L81.20 456.50 L81.49 414.06 L81.78 456.50 L82.07 456.50 L82.36 456.50 L82.66 456.50 L82.95 456.50 L83.24 445.89 L83.53 456.50 L83.82 456.50 L84.11 424.67 L84.40 456.50 L84.69 445.89 L84.98 456.50 L85.27 456.50 L85.56 456.50 L85.85 456.50 L86.14 456.50 L86.43 456.50 L86.72 456.50 L87.01 424.67 L87.30 456.50 L87.59 435.28 L87.88 414.06 L88.17 456.50 L88.46 445.89 L88.75 435.28 L89.04 456.50 L89.33 456.50 L89.62 456.50 L89.91 456.50 L90.20 456.50 L90.49 456.50 L90.78 456.50 L91.07 424.67 L91.36 456.50 L91.65 456.50 L91.94 456.50 L92.24 456.50 L92.53 456.50 L92.82 424.67 L93.11 456.50 L93.40 456.50 L93.69 456.50 L93.98 456.50 L94.27 456.50 L94.56 456.50 L94.85 456.50 L95.14 456.50 L95.43 456.50 L95.72 434.72 L96.01 456.50 L96.30 434.72 L96.59 456.50 L96.88 445.61 L97.17 456.50 L97.46 434.72 L97.75 456.50 L98.04 434.72 L98.33 456.50 L98.62 445.61 L98.91 456.50 L99.20 456.50 L99.49 456.50 L99.78 456.50 L100.07 456.50 L100.36 456.50 L100.65 456.50 L100.94 434.72 L101.23 434.72 L101.52 456.50 L101.82 456.50 L102.11 434.72 L102.40 456.50 L102.69 456.50 L102.98 456.50 L103.27 456.50 L103.56 456.50 L103.85 456.50 L104.14 434.72 L104.43 456.50 L104.72 456.50 L105.01 456.50 L105.30 456.50 L105.59 456.50 L105.88 456.50 L106.17 456.50 L106.46 456.50 L106.75 456.50 L107.04 456.50 L107.33 456.50 L107.62 423.83 L107.91 456.50 L108.20 456.50 L108.49 456.50 L108.78 434.72 L109.07 456.50 L109.36 456.50 L109.65 456.50 L109.94 456.50 L110.23 456.50 L110.52 402.06 L110.81 456.50 L111.10 456.50 L111.40 423.83 L111.69 434.72 L111.98 445.61 L112.27 445.61 L112.56 456.50 L112.85 456.50 L113.14 456.50 L113.43 445.61 L113.72 412.94 L114.01 456.50 L114.30 412.94 L114.59 456.50 L114.88 456.50 L115.17 456.50 L115.46 402.06 L115.75 456.50 L116.04 456.50 L116.33 456.50 L116.62 456.50 L116.91 456.50 L117.20 456.50 L117.49 456.50 L117.78 423.83 L118.07 456.50 L118.36 456.50 L118.65 456.50 L118.94 456.50 L119.23 456.50 L119.52 456.50 L119.81 434.72 L120.10 434.72 L120.39 456.50 L120.68 456.50 L120.98 456.50 L121.27 456.50 L121.56 456.50 L121.85 456.50 L122.14 456.50 L122.43 456.50 L122.72 456.50 L123.01 456.50 L123.30 423.83 L123.59 456.50 L123.88 456.50 L124.17 456.50 L124.46 434.72 L124.75 456.50 L125.04 456.50 L125.33 456.50 L125.62 434.72 L125.91 456.50 L126.20 434.72 L126.49 456.50 L126.78 423.83 L127.07 456.50 L127.36 456.50 L127.65 456.50 L127.94 434.72 L128.23 456.50 L128.52 456.50 L128.81 456.50 L129.10 456.50 L129.39 456.50 L129.68 456.50 L129.97 456.50 L130.26 456.50 L130.56 456.50 L130.85 434.72 L131.14 456.50 L131.43 456.50 L131.72 456.50 L132.01 445.61 L132.30 456.50 L132.59 456.50 L132.88 456.50 L133.17 456.50 L133.46 456.50 L133.75 456.50 L134.04 456.50 L134.33 456.50 L134.62 456.50 L134.91 445.61 L135.20 456.50 L135.49 456.50 L135.78 456.50 L136.07 423.83 L136.36 456.50 L136.65 412.94 L136.94 434.72 L137.23 456.50 L137.52 456.50 L137.81 423.83 L138.10 456.50 L138.39 456.50 L138.68 434.72 L138.97 412.94 L139.26 456.50 L139.55 456.50 L139.84 456.50 L140.14 456.50 L140.43 456.50 L140.72 456.50 L141.01 445.61 L141.30 456.50 L141.59 412.94 L141.88 456.50 L142.17 456.50 L142.46 456.50 L142.75 456.50 L143.04 434.72 L143.33 456.50 L143.62 434.72 L143.91 456.50 L144.20 456.50 L144.49 456.50 L144.78 456.50 L145.07 456.50 L145.36 456.50 L145.65 423.83 L145.94 456.50 L146.23 456.50 L146.52 456.50 L146.81 456.50 L147.10 434.72 L147.39 456.50 L147.68 456.50 L147.97 456.50 L148.26 456.50 L148.55 456.50 L148.84 445.61 L149.13 456.50 L149.43 456.50 L149.72 456.50 L150.01 456.50 L150.30 434.72 L150.59 456.50 L150.88 434.72 L151.17 456.50 L151.46 445.61 L151.75 423.83 L152.04 456.50 L152.33 409.59 L152.62 433.05 L152.91 456.50 L153.20 433.05 L153.49 456.50 L153.78 456.50 L154.07 456.50 L154.36 456.50 L154.65 456.50 L154.94 456.50 L155.23 456.50 L155.52 433.05 L155.81 433.05 L156.10 456.50 L156.39 433.05 L156.68 456.50 L156.97 456.50 L157.26 409.59 L157.55 456.50 L157.84 456.50 L158.13 456.50 L158.42 409.59 L158.71 456.50 L159.01 456.50 L159.30 456.50 L159.59 456.50 L159.88 433.05 L160.17 456.50 L160.46 456.50 L160.75 456.50 L161.04 456.50 L161.33 397.87 L161.62 456.50 L161.91 456.50 L162.20 456.50 L162.49 409.59 L162.78 456.50 L163.07 433.05 L163.36 456.50 L163.65 456.50 L163.94 409.59 L164.23 409.59 L164.52 456.50 L164.81 456.50 L165.10 456.50 L165.39 433.05 L165.68 456.50 L165.97 456.50 L166.26 433.05 L166.55 456.50 L166.84 456.50 L167.13 456.50 L167.42 433.05 L167.71 456.50 L168.00 456.50 L168.29 456.50 L168.59 433.05 L168.88 456.50 L169.17 456.50 L169.46 456.50 L169.75 456.50 L170.04 456.50 L170.33 386.14 L170.62 456.50 L170.91 456.50 L171.20 397.87 L171.49 456.50 L171.78 456.50 L172.07 456.50 L172.36 409.59 L172.65 456.50 L172.94 409.59 L173.23 456.50 L173.52 456.50 L173.81 456.50 L174.10 433.05 L174.39 456.50 L174.68 433.05 L174.97 456.50 L175.26 456.50 L175.55 433.05 L175.84 433.05 L176.13 444.77 L176.42 456.50 L176.71 409.59 L177.00 456.50 L177.29 456.50 L177.58 456.50 L177.87 409.59 L178.17 456.50 L178.46 456.50 L178.75 433.05 L179.04 456.50 L179.33 456.50 L179.62 456.50 L179.91 456.50 L180.20 456.50 L180.49 456.50 L180.78 444.77 L181.07 456.50 L181.36 433.05 L181.65 456.50 L181.94 456.50 L182.23 433.05 L182.52 433.05 L182.81 456.50 L183.10 433.05 L183.39 456.50 L183.68 386.14 L183.97 456.50 L184.26 456.50 L184.55 456.50 L184.84 456.50 L185.13 456.50 L185.42 456.50 L185.71 409.59 L186.00 409.59 L186.29 433.05 L186.58 444.77 L186.87 456.50 L187.16 456.50 L187.45 433.05 L187.75 456.50 L188.04 456.50 L188.33 456.50 L188.62 456.50 L188.91 456.50 L189.20 456.50 L189.49 433.05 L189.78 433.05 L190.07 456.50 L190.36 456.50 L190.65 433.05 L190.94 456.50 L191.23 456.50 L191.52 456.50 L191.81 456.50 L192.10 456.50 L192.39 456.50 L192.68 456.50 L192.97 456.50 L193.26 456.50 L193.55 456.50 L193.84 456.50 L194.13 456.50 L194.42 433.05 L194.71 433.05 L195.00 409.59 L195.29 456.50 L195.58 456.50 L195.87 456.50 L196.16 433.05 L196.45 456.50 L196.74 456.50 L197.03 456.50 L197.33 433.05 L197.62 409.59 L197.91 456.50 L198.20 409.59 L198.49 409.59 L198.78 456.50 L199.07 456.50 L199.36 456.50 L199.65 397.87 L199.94 433.05 L200.23 456.50 L200.52 456.50 L200.81 456.50 L201.10 456.50 L201.39 433.05 L201.68 456.50 L201.97 456.50 L202.26 456.50 L202.55 456.50 L202.84 433.05 L203.13 456.50 L203.42 433.05 L203.71 456.50 L204.00 456.50 L204.29 456.50 L204.58 456.50 L204.87 456.50 L205.16 432.77 L205.45 432.77 L205.74 432.77 L206.03 432.77 L206.32 409.04 L206.61 409.04 L206.91 432.77 L207.20 432.77 L207.49 432.77 L207.78 432.77 L208.07 432.77 L208.36 432.77 L208.65 456.50 L208.94 432.77 L209.23 409.04 L209.52 432.77 L209.81 432.77 L210.10 432.77 L210.39 432.77 L210.68 432.77 L210.97 432.77 L211.26 432.77 L211.55 432.77 L211.84 432.77 L212.13 432.77 L212.42 409.04 L212.71 409.04 L213.00 432.77 L213.29 432.77 L213.58 432.77 L213.87 432.77 L214.16 432.77 L214.45 409.04 L214.74 432.77 L215.03 409.04 L215.32 432.77 L215.61 456.50 L215.90 432.77 L216.19 456.50 L216.49 456.50 L216.78 456.50 L217.07 456.50 L217.36 456.50 L217.65 456.50 L217.94 456.50 L218.23 456.50 L218.52 456.50 L218.81 456.50 L219.10 432.77 L219.39 456.50 L219.68 456.50 L219.97 456.50 L220.26 456.50 L220.55 456.50 L220.84 456.50 L221.13 456.50 L221.42 456.50 L221.71 456.50 L222.00 409.04 L222.29 456.50 L222.58 409.04 L222.87 456.50 L223.16 409.04 L223.45 456.50 L223.74 456.50 L224.03 456.50 L224.32 456.50 L224.61 456.50 L224.90 456.50 L225.19 456.50 L225.48 409.04 L225.77 409.04 L226.07 456.50 L226.36 456.50 L226.65 432.77 L226.94 456.50 L227.23 456.50 L227.52 456.50 L227.81 432.77 L228.10 456.50 L228.39 409.04 L228.68 456.50 L228.97 456.50 L229.26 456.50 L229.55 432.77 L229.84 456.50 L230.13 456.50 L230.42 432.77 L230.71 456.50 L231.00 456.50 L231.29 456.50 L231.58 456.50 L231.87 409.04 L232.16 432.77 L232.45 456.50 L232.74 432.77 L233.03 456.50 L233.32 432.77 L233.61 432.77 L233.90 456.50 L234.19 456.50 L234.48 456.50 L234.77 456.50 L235.06 456.50 L235.35 432.77 L235.65 456.50 L235.94 456.50 L236.23 432.77 L236.52 432.77 L236.81 456.50 L237.10 456.50 L237.39 432.77 L237.68 409.04 L237.97 456.50 L238.26 456.50 L238.55 432.77 L238.84 409.04 L239.13 432.77 L239.42 456.50 L239.71 456.50 L240.00 456.50 L240.29 456.50 L240.58 432.77 L240.87 456.50 L241.16 456.50 L241.45 432.77 L241.74 456.50 L242.03 432.77 L242.32 456.50 L242.61 456.50 L242.90 456.50 L243.19 456.50 L243.48 385.30 L243.77 456.50 L244.06 456.50 L244.35 432.77 L244.64 432.77 L244.93 456.50 L245.23 456.50 L245.52 456.50 L245.81 456.50 L246.10 456.50 L246.39 385.30 L246.68 385.30 L246.97 456.50 L247.26 456.50 L247.55 456.50 L247.84 456.50 L248.13 385.30 L248.42 456.50 L248.71 456.50 L249.00 385.30 L249.29 432.77 L249.58 456.50 L249.87 456.50 L250.16 432.77 L250.45 456.50 L250.74 456.50 L251.03 456.50 L251.32 456.50 L251.61 456.50 L251.90 456.50 L252.19 432.77 L252.48 456.50 L252.77 456.50 L253.06 456.50 L253.35 409.04 L253.64 432.77 L253.93 456.50 L254.22 456.50 L254.51 456.50 L254.81 456.50 L255.10 456.50 L255.39 456.50 L255.68 456.50 L255.97 456.50 L256.26 456.50 L256.55 456.50 L256.84 456.50 L257.13 456.50 L257.42 456.50 L257.71 456.50 L258.00 456.50 L258.29 456.50 L258.58 456.50 L258.87 456.50 L259.16 456.50 L259.45 456.50 L259.74 456.50 L260.03 456.50 L260.32 432.77 L260.61 432.77 L260.90 432.77 L261.19 432.77 L261.48 432.77 L261.77 432.77 L262.06 432.77 L262.35 432.77 L262.64 432.77 L262.93 432.77 L263.22 432.77 L263.51 432.77 L263.80 432.77 L264.09 409.04 L264.39 432.77 L264.68 409.04 L264.97 432.77 L265.26 432.77 L265.55 409.04 L265.84 385.30 L266.13 432.77 L266.42 409.04 L266.71 432.77 L267.00 409.04 L267.29 432.77 L267.58 432.77 L267.87 385.30 L268.16 409.04 L268.45 409.04 L268.74 409.04 L269.03 409.04 L269.32 409.04 L269.61 409.04 L269.90 409.04 L270.19 409.04 L270.48 409.04 L270.77 385.02 L271.06 385.02 L271.35 385.02 L271.64 385.02 L271.93 385.02 L272.22 385.02 L272.51 385.02 L272.80 385.02 L273.09 385.02 L273.38 385.02 L273.67 385.02 L273.97 385.02 L274.26 385.02 L274.55 385.02 L274.84 385.02 L275.13 385.02 L275.42 385.02 L275.71 409.04 L276.00 409.04 L276.29 409.04 L276.58 409.04 L276.87 409.04 L277.16 409.04 L277.45 409.04 L277.74 409.04 L278.03 409.04 L278.32 432.77 L278.61 432.77 L278.90 432.77 L279.19 432.77 L279.48 432.77 L279.77 456.50 L280.06 433.05 L280.35 433.05 L280.64 456.50 L280.93 456.50 L281.22 456.50 L281.51 409.59 L281.80 433.05 L282.09 433.05 L282.38 433.05 L282.67 433.05 L282.96 433.05 L283.25 409.59 L283.55 456.50 L283.84 433.05 L284.13 409.59 L284.42 409.59 L284.71 433.05 L285.00 456.50 L285.29 433.05 L285.58 433.05 L285.87 456.50 L286.16 433.05 L286.45 433.05 L286.74 409.59 L287.03 433.05 L287.32 433.05 L287.61 456.50 L287.90 409.59 L288.19 433.05 L288.48 409.59 L288.77 386.14 L289.06 433.05 L289.35 386.14 L289.64 456.50 L289.93 409.59 L290.22 456.50 L290.51 409.59 L290.80 409.59 L291.09 409.59 L291.38 433.05 L291.67 433.05 L291.96 433.05 L292.25 386.14 L292.54 409.59 L292.83 433.05 L293.13 433.05 L293.42 433.05 L293.71 456.50 L294.00 433.05 L294.29 433.05 L294.58 386.14 L294.87 433.05 L295.16 433.05 L295.45 456.50 L295.74 433.05 L296.03 433.05 L296.32 433.05 L296.61 456.50 L296.90 409.59 L297.19 456.50 L297.48 433.05 L297.77 456.50 L298.06 409.59 L298.35 433.05 L298.64 433.05 L298.93 409.59 L299.22 433.05 L299.51 433.05 L299.80 433.05 L300.09 456.50 L300.38 456.50 L300.67 456.50 L300.96 433.05 L301.25 456.50 L301.54 397.87 L301.83 433.05 L302.12 433.05 L302.41 456.50 L302.71 433.05 L303.00 433.05 L303.29 456.50 L303.58 433.05 L303.87 409.59 L304.16 397.87 L304.45 433.05 L304.74 409.59 L305.03 433.05 L305.32 397.87 L305.61 409.59 L305.90 433.05 L306.19 456.50 L306.48 456.50 L306.77 456.50 L307.06 456.50 L307.35 386.14 L307.64 456.50 L307.93 456.50 L308.22 456.50 L308.51 456.50 L308.80 456.50 L309.09 456.50 L309.38 456.50 L309.67 410.71 L309.96 456.50 L310.25 456.50 L310.54 456.50 L310.83 433.61 L311.12 456.50 L311.41 433.61 L311.70 433.61 L311.99 410.71 L312.29 456.50 L312.58 456.50 L312.87 433.61 L313.16 410.71 L313.45 456.50 L313.74 433.61 L314.03 456.50 L314.32 410.71 L314.61 410.71 L314.90 456.50 L315.19 456.50 L315.48 456.50 L315.77 456.50 L316.06 456.50 L316.35 433.61 L316.64 456.50 L316.93 456.50 L317.22 456.50 L317.51 456.50 L317.80 456.50 L318.09 456.50 L318.38 433.61 L318.67 456.50 L318.96 456.50 L319.25 456.50 L319.54 433.61 L319.83 456.50 L320.12 433.61 L320.41 433.61 L320.70 456.50 L320.99 456.50 L321.28 456.50 L321.57 456.50 L321.87 456.50 L322.16 456.50 L322.45 456.50 L322.74 456.50 L323.03 456.50 L323.32 456.50 L323.61 456.50 L323.90 456.50 L324.19 456.50 L324.48 456.50 L324.77 433.61 L325.06 456.50 L325.35 456.50 L325.64 410.71 L325.93 410.71 L326.22 456.50 L326.51 456.50 L326.80 456.50 L327.09 456.50 L327.38 456.50 L327.67 456.50 L327.96 456.50 L328.25 456.50 L328.54 456.50 L328.83 410.71 L329.12 456.50 L329.41 456.50 L329.70 456.50 L329.99 456.50 L330.28 433.61 L330.57 433.61 L330.86 433.61 L331.15 387.82 L331.45 433.61 L331.74 433.61 L332.03 410.71 L332.32 433.61 L332.61 433.61 L332.90 433.61 L333.19 410.71 L333.48 410.71 L333.77 433.61 L334.06 433.61 L334.35 456.50 L334.64 433.61 L334.93 433.61 L335.22 433.61 L335.51 433.61 L335.80 433.61 L336.09 433.61 L336.38 410.71 L336.67 433.61 L336.96 410.71 L337.25 433.61 L337.54 433.61 L337.83 433.61 L338.12 433.61 L338.41 422.16 L338.70 433.61 L338.99 433.61 L339.28 433.61 L339.57 433.61 L339.86 422.16 L340.15 433.61 L340.44 433.61 L340.73 433.61 L341.03 433.61 L341.32 433.61 L341.61 433.61 L341.90 433.61 L342.19 433.61 L342.48 433.61 L342.77 433.61 L343.06 433.61 L343.35 387.82 L343.64 433.61 L343.93 433.61 L344.22 433.61 L344.51 433.61 L344.80 456.50 L345.09 433.61 L345.38 433.61 L345.67 422.16 L345.96 433.61 L346.25 433.61 L346.54 433.61 L346.83 433.61 L347.12 433.61 L347.41 433.61 L347.70 433.61 L347.99 433.61 L348.28 433.61 L348.57 433.61 L348.86 387.82 L349.15 433.61 L349.44 433.61 L349.73 433.61 L350.02 456.50 L350.31 456.50 L350.61 456.50 L350.90 456.50 L351.19 456.50 L351.48 456.50 L351.77 433.61 L352.06 456.50 L352.35 456.50 L352.64 433.61 L352.93 456.50 L353.22 456.50 L353.51 433.61 L353.80 456.50 L354.09 456.50 L354.38 456.50 L354.67 456.50 L354.96 456.50 L355.25 456.50 L355.54 456.50 L355.83 456.50 L356.12 456.50 L356.41 456.50 L356.70 456.50 L356.99 410.71 L357.28 433.61 L357.57 456.50 L357.86 456.50 L358.15 456.50 L358.44 456.50 L358.73 456.50 L359.02 456.50 L359.31 456.50 L359.60 456.50 L359.90 456.50 L360.19 456.50 L360.48 456.50 L360.77 456.50 L361.06 410.71 L361.35 410.71 L361.64 456.50 L361.93 456.50 L362.22 434.16 L362.51 434.16 L362.80 411.83 L363.09 456.50 L363.38 434.16 L363.67 434.16 L363.96 434.16 L364.25 434.16 L364.54 456.50 L364.83 434.16 L365.12 434.16 L365.41 434.16 L365.70 434.16 L365.99 434.16 L366.28 385.02 L366.57 411.83 L366.86 434.16 L367.15 434.16 L367.44 456.50 L367.73 434.16 L368.02 434.16 L368.31 456.50 L368.60 434.16 L368.89 434.16 L369.18 389.49 L369.48 434.16 L369.77 385.02 L370.06 434.16 L370.35 434.16 L370.64 434.16 L370.93 434.16 L371.22 411.83 L371.51 411.83 L371.80 434.16 L372.09 434.16 L372.38 434.16 L372.67 434.16 L372.96 456.50 L373.25 456.50 L373.54 411.83 L373.83 434.16 L374.12 434.16 L374.41 434.16 L374.70 434.16 L374.99 434.16 L375.28 434.16 L375.57 411.83 L375.86 456.50 L376.15 434.16 L376.44 456.50 L376.73 385.02 L377.02 434.16 L377.31 434.16 L377.60 411.83 L377.89 434.16 L378.18 434.16 L378.47 434.16 L378.76 434.16 L379.06 434.16 L379.35 434.16 L379.64 434.16 L379.93 434.16 L380.22 456.50 L380.51 456.50 L380.80 456.50 L381.09 456.50 L381.38 456.50 L381.67 456.50 L381.96 456.50 L382.25 456.50 L382.54 456.50 L382.83 456.50 L383.12 456.50 L383.41 456.50 L383.70 456.50 L383.99 456.50 L384.28 456.50 L384.57 456.50 L384.86 456.50 L385.15 434.16 L385.44 456.50 L385.73 456.50 L386.02 434.16 L386.31 434.16 L386.60 456.50 L386.89 411.83 L387.18 456.50 L387.47 456.50 L387.76 456.50 L388.05 456.50 L388.34 456.50 L388.64 456.50 L388.93 456.50 L389.22 456.50 L389.51 456.50 L389.80 456.50 L390.09 411.83 L390.38 456.50 L390.67 411.83 L390.96 456.50 L391.25 456.50 L391.54 456.50 L391.83 456.50 L392.12 434.16 L392.41 434.16 L392.70 434.16 L392.99 434.16 L393.28 434.16 L393.57 434.16 L393.86 434.16 L394.15 434.16 L394.44 434.16 L394.73 434.16 L395.02 434.16 L395.31 434.16 L395.60 434.16 L395.89 434.16 L396.18 389.49 L396.47 389.49 L396.76 389.49 L397.05 389.49 L397.34 389.49 L397.63 389.49 L397.92 389.49 L398.22 389.49 L398.51 389.49 L398.80 389.49 L399.09 411.83 L399.38 456.50 L399.67 456.50 L399.96 434.16 L400.25 456.50 L400.54 434.16 L400.83 456.50 L401.12 456.50 L401.41 434.16 L401.70 456.50 L401.99 456.50 L402.28 456.50 L402.57 456.50 L402.86 456.50 L403.15 456.50 L403.44 456.50 L403.73 456.50 L404.02 456.50 L404.31 411.83 L404.60 456.50 L404.89 456.50 L405.18 434.16 L405.47 456.50 L405.76 456.50 L406.05 412.94 L406.34 412.94 L406.63 434.72 L406.92 434.72 L407.21 412.94 L407.50 434.72 L407.80 412.94 L408.09 434.72 L408.38 434.72 L408.67 434.72 L408.96 434.72 L409.25 412.94 L409.54 434.72 L409.83 434.72 L410.12 412.94 L410.41 456.50 L410.70 456.50 L410.99 412.94 L411.28 434.72 L411.57 456.50 L411.86 434.72 L412.15 434.72 L412.44 434.72 L412.73 434.72 L413.02 434.72 L413.31 434.72 L413.60 456.50 L413.89 434.72 L414.18 423.83 L414.47 456.50 L414.76 456.50 L415.05 456.50 L415.34 456.50 L415.63 434.72 L415.92 456.50 L416.21 456.50 L416.50 456.50 L416.79 456.50 L417.08 456.50 L417.38 434.72 L417.67 456.50 L417.96 456.50 L418.25 456.50 L418.54 456.50 L418.83 456.50 L419.12 456.50 L419.41 456.50 L419.70 434.72 L419.99 456.50 L420.28 456.50 L420.57 456.50 L420.86 456.50 L421.15 434.72 L421.44 456.50 L421.73 456.50 L422.02 456.50 L422.31 456.50 L422.60 456.50 L422.89 456.50 L423.18 456.50 L423.47 456.50 L423.76 456.50 L424.05 456.50 L424.34 434.72 L424.63 456.50 L424.92 456.50 L425.21 435.28 L425.50 414.06 L425.79 456.50 L426.08 435.28 L426.37 456.50 L426.66 456.50 L426.96 435.28 L427.25 456.50 L427.54 456.50 L427.83 456.50 L428.12 435.28 L428.41 435.28 L428.70 456.50 L428.99 435.28 L429.28 456.50 L429.57 435.28 L429.86 456.50 L430.15 456.50 L430.44 456.50 L430.73 456.50 L431.02 435.28 L431.31 456.50 L431.60 435.28 L431.89 456.50 L432.18 456.50 L432.47 414.06 L432.76 435.28 L433.05 435.28 L433.34 456.50 L433.63 403.45 L433.92 435.28 L434.21 456.50 L434.50 456.50 L434.79 456.50 L435.08 435.28 L435.37 435.28 L435.66 435.28 L435.95 435.28 L436.24 456.50 L436.54 435.28 L436.83 435.28 L437.12 456.50 L437.41 403.45 L437.70 456.50 L437.99 456.50 L438.28 435.28 L438.57 435.28 L438.86 456.50 L439.15 456.50 L439.44 435.28 L439.73 456.50 L440.02 435.28 L440.31 435.28 L440.60 456.50 L440.89 456.50 L441.18 435.28 L441.47 456.50 L441.76 435.28 L442.05 456.50 L442.34 403.45 L442.63 456.50 L442.92 456.50 L443.21 435.28 L443.50 435.28 L443.79 456.50 L444.08 456.50 L444.37 456.50 L444.66 456.50 L444.95 435.28 L445.24 456.50 L445.53 456.50 L445.82 435.28 L446.12 456.50 L446.41 456.50 L446.70 414.06 L446.99 414.06 L447.28 456.50 L447.57 456.50 L447.86 435.28 L448.15 435.28 L448.44 456.50 L448.73 456.50 L449.02 435.28 L449.31 456.50 L449.60 435.28 L449.89 456.50 L450.18 435.28 L450.47 435.28 L450.76 456.50 L451.05 435.28 L451.34 456.50 L451.63 435.28 L451.92 456.50 L452.21 435.28 L452.50 435.28 L452.79 435.28 L453.08 456.50 L453.37 435.28 L453.66 456.50 L453.95 456.50 L454.24 456.50 L454.53 456.50 L454.82 414.06 L455.11 456.50 L455.40 456.50 L455.70 456.50 L455.99 456.50 L456.28 435.28 L456.57 435.28 L456.86 435.28 L457.15 435.28 L457.44 435.28 L457.73 435.28 L458.02 435.28 L458.31 435.28 L458.60 435.28 L458.89 435.28 L459.18 435.28 L459.47 435.28 L459.76 435.28 L460.05 435.84 L460.34 435.84 L460.63 435.84 L460.92 456.50 L461.21 456.50 L461.50 456.50 L461.79 456.50 L462.08 456.50 L462.37 415.18 L462.66 456.50 L462.95 435.84 L463.24 456.50 L463.53 456.50 L463.82 456.50 L464.11 456.50 L464.40 456.50 L464.69 456.50 L464.98 456.50 L465.28 456.50 L465.57 456.50 L465.86 456.50 L466.15 435.84 L466.44 456.50 L466.73 415.18 L467.02 456.50 L467.31 435.84 L467.60 456.50 L467.89 435.84 L468.18 456.50 L468.47 425.51 L468.76 456.50 L469.05 435.84 L469.34 456.50 L469.63 456.50 L469.92 425.51 L470.21 456.50 L470.50 456.50 L470.79 435.84 L471.08 456.50 L471.37 415.18 L471.66 456.50 L471.95 435.84 L472.24 456.50 L472.53 415.18 L472.82 456.50 L473.11 456.50 L473.40 435.84 L473.69 456.50 L473.98 456.50 L474.27 456.50 L474.56 456.50 L474.86 456.50 L475.15 456.50 L475.44 456.50 L475.73 456.50 L476.02 456.50 L476.31 456.50 L476.60 435.84 L476.89 456.50 L477.18 435.84 L477.47 435.84 L477.76 425.51 L478.05 456.50 L478.34 456.50 L478.63 456.50 L478.92 456.50 L479.21 435.84 L479.50 435.84 L479.79 456.50 L480.08 425.51 L480.37 435.84 L480.66 456.50 L480.95 425.51 L481.24 456.50 L481.53 456.50 L481.82 456.50 L482.11 456.50 L482.40 435.84 L482.69 456.50 L482.98 456.50 L483.27 456.50 L483.56 425.51 L483.85 456.50 L484.14 425.51 L484.44 456.50 L484.73 456.50 L485.02 456.50 L485.31 435.84 L485.60 456.50 L485.89 456.50 L486.18 456.50 L486.47 435.84 L486.76 425.51 L487.05 456.50 L487.34 456.50 L487.63 435.84 L487.92 456.50 L488.21 456.50 L488.50 456.50 L488.79 456.50 L489.08 456.50 L489.37 425.51 L489.66 456.50 L489.95 456.50 L490.24 456.50 L490.53 456.50 L490.82 456.50 L491.11 456.50 L491.40 456.50 L491.69 456.50 L491.98 425.51 L492.27 456.50 L492.56 435.84 L492.85 425.51 L493.14 435.84 L493.43 435.84 L493.72 456.50 L494.02 417.97 L494.31 437.24 L494.60 437.24 L494.89 398.71 L495.18 437.24 L495.47 437.24 L495.76 437.24 L496.05 456.50 L496.34 437.24 L496.63 417.97 L496.92 437.24 L497.21 408.34 L497.50 437.24 L497.79 437.24 L498.08 437.24 L498.37 437.24 L498.66 437.24 L498.95 437.24 L499.24 437.24 L499.53 437.24 L499.82 408.34 L500.11 417.97 L500.40 437.24 L500.69 437.24 L500.98 456.50 L501.27 437.24 L501.56 408.34 L501.85 437.24 L502.14 437.24 L502.43 437.24 L502.72 437.24 L503.01 408.34 L503.30 437.24 L503.60 437.24 L503.89 437.24 L504.18 437.24 L504.47 437.24 L504.76 437.24 L505.05 437.24 L505.34 437.24 L505.63 417.97 L505.92 437.24 L506.21 417.97 L506.50 437.24 L506.79 417.97 L507.08 437.24 L507.37 437.24 L507.66 417.97 L507.95 437.24 L508.24 456.50 L508.53 437.24 L508.82 437.24 L509.11 437.24 L509.40 417.97 L509.69 437.24 L509.98 417.97 L510.27 437.24 L510.56 417.97 L510.85 437.24 L511.14 437.24 L511.43 437.24 L511.72 437.24 L512.01 437.24 L512.30 437.24 L512.59 437.24 L512.88 437.24 L513.18 437.24 L513.47 437.24 L513.76 398.71 L514.05 437.24 L514.34 437.24 L514.63 437.24 L514.92 437.24 L515.21 437.24 L515.50 437.24 L515.79 437.24 L516.08 437.24 L516.37 437.24 L516.66 437.24 L516.95 437.24 L517.24 437.24 L517.53 437.24 L517.82 437.24 L518.11 408.34 L518.40 437.24 L518.69 437.24 L518.98 456.50 L519.27 398.71 L519.56 437.24 L519.85 437.24 L520.14 437.24 L520.43 437.24 L520.72 437.24 L521.01 437.24 L521.30 437.24 L521.59 437.24 L521.88 437.24 L522.17 408.34 L522.46 437.24 L522.76 417.97 L523.05 437.24 L523.34 437.24 L523.63 437.24 L523.92 437.24 L524.21 437.24 L524.50 437.24 L524.79 437.24 L525.08 456.50 L525.37 437.24 L525.66 437.24 L525.95 437.24 L526.24 437.24 L526.53 437.24 L526.82 437.24 L527.11 417.97 L527.40 437.24 L527.69 437.24 L527.98 417.97 L528.27 456.50 L528.56 456.50 L528.85 456.50 L529.14 456.50 L529.43 456.50 L529.72 456.50 L530.01 456.50 L530.30 456.50 L530.59 456.50 L530.88 456.50 L531.17 456.50 L531.46 437.24 L531.75 456.50 L532.04 456.50 L532.34 456.50 L532.63 417.97 L532.92 456.50 L533.21 456.50 L533.50 437.24 L533.79 437.24 L534.08 456.50 L534.37 456.50 L534.66 456.50 L534.95 456.50 L535.24 456.50 L535.53 456.50 L535.82 456.50 L536.11 456.50 L536.40 417.97 L536.69 417.97 L536.98 456.50 L537.27 417.97 L537.56 456.50 L537.85 456.50 L538.14 456.50 L538.43 456.50 L538.72 417.97 L539.01 456.50 L539.30 456.50 L539.59 456.50 L539.88 456.50 L540.17 456.50 L540.46 437.24 L540.75 456.50 L541.04 456.50 L541.33 456.50 L541.62 456.50 L541.92 456.50 L542.21 456.50 L542.50 456.50 L542.79 456.50 L543.08 456.50 L543.37 456.50 L543.66 456.50 L543.95 437.24 L544.24 456.50 L544.53 398.71 L544.82 456.50 L545.11 456.50 L545.40 456.50 L545.69 456.50 L545.98 456.50 L546.27 456.50 L546.56 456.50 L546.85 456.50 L547.14 456.50 L547.43 456.50 L547.72 437.24 L548.01 417.97 L548.30 456.50 L548.59 456.50 L548.88 456.50 L549.17 456.50 L549.46 456.50 L549.75 437.24 L550.04 456.50 L550.33 456.50 L550.62 456.50 L550.91 456.50 L551.20 456.50 L551.50 456.50 L551.79 398.71 L552.08 456.50 L552.37 456.50 L552.66 456.50 L552.95 437.24 L553.24 456.50 L553.53 456.50 L553.82 398.71 L554.11 437.24 L554.40 456.50 L554.69 437.24 L554.98 456.50 L555.27 437.24 L555.56 456.50 L555.85 456.50 L556.14 437.24 L556.43 437.24 L556.72 437.24 L557.01 437.24 L557.30 437.24 L557.59 437.24 L557.88 437.24 L558.17 398.71 L558.46 437.24 L558.75 437.24 L559.04 398.71 L559.33 437.24 L559.62 437.24 L559.91 398.71 L560.20 437.24 L560.49 437.24 L560.78 437.24 L561.08 437.24 L561.37 437.24 L561.66 437.24 L561.95 437.24 L562.24 456.50 L562.53 456.50 L562.82 437.51 L563.11 437.51 L563.40 437.51 L563.69 437.51 L563.98 456.50 L564.27 456.50 L564.56 456.50 L564.85 456.50 L565.14 456.50 L565.43 456.50 L565.72 428.02 L566.01 428.02 L566.30 456.50 L566.59 456.50 L566.88 456.50 L567.17 437.51 L567.46 456.50 L567.75 456.50 L568.04 456.50 L568.33 437.51 L568.62 456.50 L568.91 456.50 L569.20 437.51 L569.49 456.50 L569.78 437.51 L570.07 456.50 L570.37 456.50 L570.66 456.50 L570.95 456.50 L571.24 456.50 L571.53 456.50 L571.82 418.53 L572.11 456.50 L572.40 418.53 L572.69 437.51 L572.98 456.50 L573.27 456.50 L573.56 456.50 L573.85 456.50 L574.14 399.54 L574.43 437.51 L574.72 456.50 L575.01 456.50 L575.30 456.50 L575.59 456.50 L575.88 437.51 L576.17 456.50 L576.46 456.50 L576.75 456.50 L577.04 456.50 L577.33 437.51 L577.62 437.51 L577.91 456.50 L578.20 456.50 L578.49 437.51 L578.78 456.50 L579.07 456.50 L579.36 456.50 L579.65 456.50 L579.95 456.50 L580.24 437.51 L580.53 399.54 L580.82 418.53 L581.11 456.50 L581.40 456.50 L581.69 437.51 L581.98 437.51 L582.27 418.53 L582.56 437.51 L582.85 418.53 L583.14 437.51 L583.43 456.50 L583.72 456.50 L584.01 418.53 L584.30 418.53 L584.59 456.50 L584.88 456.50 L585.17 437.51 L585.46 456.50 L585.75 399.54 L586.04 456.50 L586.33 437.51 L586.62 456.50 L586.91 456.50 L587.20 456.50 L587.49 428.02 L587.78 437.51 L588.07 456.50 L588.36 456.50 L588.65 456.50 L588.94 456.50 L589.23 456.50 L589.53 418.53 L589.82 437.51 L590.11 456.50 L590.40 456.50 L590.69 456.50 L590.98 437.51 L591.27 456.50 L591.56 428.02 L591.85 456.50 L592.14 456.50 L592.43 456.50 L592.72 428.02 L593.01 456.50 L593.30 456.50 L593.59 418.53 L593.88 456.50 L594.17 456.50 L594.46 456.50 L594.75 456.50 L595.04 456.50 L595.33 456.50 L595.62 456.50 L595.91 456.50 L596.20 418.53 L596.49 428.02 L596.78 456.50 L597.07 437.51 L597.36 456.50 L597.65 456.50 L597.94 456.50 L598.23 456.50 L598.52 418.53 L598.81 456.50 L599.11 456.50 L599.40 456.50 L599.69 428.02 L599.98 456.50 L600.27 456.50 L600.56 456.50 L600.85 456.50 L601.14 437.51 L601.43 456.50 L601.72 437.51 L602.01 456.50 L602.30 456.50 L602.59 437.51 L602.88 428.02 L603.17 437.51 L603.46 456.50 L603.75 456.50 L604.04 439.19 L604.33 430.53 L604.62 456.50 L604.91 456.50 L605.20 456.50 L605.49 456.50 L605.78 439.19 L606.07 456.50 L606.36 456.50 L606.65 456.50 L606.94 456.50 L607.23 439.19 L607.52 430.53 L607.81 456.50 L608.10 456.50 L608.39 456.50 L608.69 447.84 L608.98 456.50 L609.27 439.19 L609.56 456.50 L609.85 456.50 L610.14 456.50 L610.43 456.50 L610.72 456.50 L611.01 456.50 L611.30 456.50 L611.59 456.50 L611.88 456.50 L612.17 456.50 L612.46 456.50 L612.75 439.19 L613.04 430.53 L613.33 456.50 L613.62 430.53 L613.91 447.84 L614.20 447.84 L614.49 430.53 L614.78 430.53 L615.07 439.19 L615.36 439.19 L615.65 439.19 L615.94 439.19 L616.23 456.50 L616.52 456.50 L616.81 447.84 L617.10 456.50 L617.39 456.50 L617.68 439.75 L617.97 439.75 L618.27 423.00 L618.56 456.50 L618.85 456.50 L619.14 456.50 L619.43 448.12 L619.72 448.12 L620.01 439.75 L620.30 456.50 L620.59 456.50 L620.88 456.50 L621.17 448.12 L621.46 456.50 L621.75 456.50 L622.04 439.75 L622.33 431.37 L622.62 423.00 L622.91 448.12 L623.20 456.50 L623.49 456.50 L623.78 456.50 L624.07 431.37 L624.36 456.50 L624.65 456.50 L624.94 448.12 L625.23 439.75 L625.52 448.12 L625.81 456.50 L626.10 448.12 L626.39 456.50 L626.68 456.50 L626.97 439.75 L627.26 456.50 L627.55 439.75 L627.85 448.12 L628.14 431.37 L628.43 439.75 L628.72 439.75 L629.01 456.50 L629.30 456.50 L629.59 431.37 L629.88 456.50 L630.17 456.50 L630.46 448.12 L630.75 439.75 L631.04 456.50 L631.33 456.50 L631.62 456.50 L631.91 448.12 L632.20 414.62 L632.49 448.12 L632.78 439.75 L633.07 439.75 L633.36 389.49 L633.65 448.12 L633.94 448.12 L634.23 456.50 L634.52 456.50 L634.81 456.50 L635.10 456.50 L635.39 456.50 L635.68 456.50 L635.97 448.12 L636.26 456.50 L636.55 414.62 L636.84 448.12 L637.13 456.50 L637.43 448.12 L637.72 456.50 L638.01 456.50 L638.30 389.49 L638.59 456.50 L638.88 448.12 L639.17 456.50 L639.46 431.37 L639.75 448.12 L640.04 448.12 L640.33 448.12 L640.62 456.50 L640.91 448.12 L641.20 439.75 L641.49 456.50 L641.78 439.75 L642.07 456.50 L642.36 456.50 L642.65 448.12 L642.94 456.50 L643.23 439.75 L643.52 456.50 L643.81 456.50 L644.10 423.00 L644.39 448.12 L644.68 456.50 L644.97 456.50 L645.26 448.12 L645.55 439.75 L645.84 439.75 L646.13 456.50 L646.42 456.50 L646.71 456.50 L647.01 414.62 L647.30 456.50 L647.59 448.12 L647.88 439.75 L648.17 448.12 L648.46 456.50 L648.75 456.50 L649.04 456.50 L649.33 456.50 L649.62 456.50 L649.91 456.50 L650.20 456.50 L650.49 456.50 L650.78 431.37 L651.07 456.50 L651.36 456.50 L651.65 456.50 L651.94 456.50 L652.23 456.50 L652.52 456.50 L652.81 439.75 L653.10 456.50 L653.39 406.24 L653.68 439.75 L653.97 456.50 L654.26 439.75 L654.55 406.24 L654.84 439.75 L655.13 456.50 L655.42 448.12 L655.71 456.50 L656.00 439.75 L656.29 456.50 L656.59 406.24 L656.88 456.50 L657.17 456.50 L657.46 406.24 L657.75 448.12 L658.04 439.75 L658.33 456.50 L658.62 456.50 L658.91 406.24 L659.20 448.12 L659.49 448.12 L659.78 456.50 L660.07 431.37 L660.36 456.50 L660.65 431.37 L660.94 456.50 L661.23 456.50 L661.52 456.50 L661.81 456.50 L662.10 456.50 L662.39 456.50 L662.68 448.12 L662.97 456.50 L663.26 439.75 L663.55 439.75 L663.84 456.50 L664.13 439.75 L664.42 456.50 L664.71 456.50 L665.00 456.50 L665.29 448.12 L665.58 448.12 L665.87 439.75 L666.17 406.24 L666.46 439.75 L666.75 439.75 L667.04 439.75 L667.33 456.50 L667.62 439.75 L667.91 448.12 L668.20 431.37 L668.49 414.62 L668.78 456.50 L669.07 448.12 L669.36 456.50 L669.65 448.12 L669.94 456.50 L670.23 439.75 L670.52 456.50 L670.81 456.50 L671.10 456.50 L671.39 431.37 L671.68 456.50 L671.97 456.50 L672.26 456.50 L672.55 456.50 L672.84 439.75 L673.13 456.50 L673.42 431.37 L673.71 456.50 L674.00 456.50 L674.29 456.50 L674.58 456.50 L674.87 439.75 L675.16 456.50 L675.45 439.75" fill="none" stroke="#000" stroke-opacity="0.85" stroke-width="0.55" stroke-linejoin="miter" stroke-miterlimit="4"/>
<path d="M35.90 386.70 V456.50" stroke="#333" stroke-width="1" fill="none"/>
<text x="29.6" y="459.80" text-anchor="end" font-size="9">0</text>
<text x="29.6" y="445.84" text-anchor="end" font-size="9">1</text>
<text x="29.6" y="431.88" text-anchor="end" font-size="9">2</text>
<text x="29.6" y="417.92" text-anchor="end" font-size="9">3</text>
<text x="29.6" y="403.96" text-anchor="end" font-size="9">4</text>
<text x="29.6" y="390.00" text-anchor="end" font-size="9">5</text>
<path d="M31.90 456.50 H35.90 M31.90 442.54 H35.90 M31.90 428.58 H35.90 M31.90 414.62 H35.90 M31.90 400.66 H35.90 M31.90 386.70 H35.90" stroke="#333" stroke-width="1" fill="none"/>
<path d="M39.40 459.75 H675.60" stroke="#333" stroke-width="1" fill="none"/>
<text x="39.25" y="470.90" text-anchor="middle" font-size="8.5" letter-spacing="-0.3">2004</text>
<text x="145.28" y="470.90" text-anchor="middle" font-size="8.5" letter-spacing="-0.3">2005</text>
<text x="251.32" y="470.90" text-anchor="middle" font-size="8.5" letter-spacing="-0.3">2006</text>
<text x="357.35" y="470.90" text-anchor="middle" font-size="8.5" letter-spacing="-0.3">2007</text>
<text x="463.38" y="470.90" text-anchor="middle" font-size="8.5" letter-spacing="-0.3">2008</text>
<text x="569.42" y="470.90" text-anchor="middle" font-size="8.5" letter-spacing="-0.3">2009</text>
<text x="675.45" y="470.90" text-anchor="middle" font-size="8.5" letter-spacing="-0.3">2010</text>
<path d="M39.40 459.75 V462.75 M145.43 459.75 V462.75 M251.47 459.75 V462.75 M357.50 459.75 V462.75 M463.53 459.75 V462.75 M569.57 459.75 V462.75 M675.60 459.75 V462.75" stroke="#333" stroke-width="1" fill="none"/>
<text x="38.9" y="393.20" font-size="8.3" letter-spacing="-0.1">Administrative</text>
<rect x="94.80" y="482.70" width="6.20" height="69.80" fill="#1E90FF"/>
<rect x="165.90" y="482.70" width="6.10" height="69.80" fill="#1E90FF"/>
<rect x="180.30" y="482.70" width="11.90" height="69.80" fill="#1E90FF"/>
<rect x="298.20" y="482.70" width="8.30" height="69.80" fill="#1E90FF"/>
<rect x="371.40" y="482.70" width="8.10" height="69.80" fill="#1E90FF"/>
<rect x="406.10" y="482.70" width="7.90" height="69.80" fill="#1E90FF"/>
<rect x="479.50" y="482.70" width="8.10" height="69.80" fill="#1E90FF"/>
<rect x="520.00" y="482.70" width="7.90" height="69.80" fill="#1E90FF"/>
<rect x="572.90" y="482.70" width="18.20" height="69.80" fill="#1E90FF"/>
<rect x="604.00" y="482.70" width="12.90" height="69.80" fill="#EC6464"/>
<rect x="616.90" y="482.70" width="58.90" height="69.80" fill="#924346"/>
<rect x="617.50" y="482.70" width="0.90" height="69.80" fill="#8C494D"/>
<rect x="619.01" y="482.70" width="1.18" height="69.80" fill="#8C494D"/>
<rect x="620.85" y="482.70" width="0.77" height="69.80" fill="#8C494D"/>
<rect x="623.56" y="482.70" width="0.79" height="69.80" fill="#983E41"/>
<rect x="626.07" y="482.70" width="1.06" height="69.80" fill="#983E41"/>
<rect x="627.58" y="482.70" width="1.02" height="69.80" fill="#8C494D"/>
<rect x="629.51" y="482.70" width="0.86" height="69.80" fill="#8C494D"/>
<rect x="631.04" y="482.70" width="0.96" height="69.80" fill="#8C494D"/>
<rect x="632.61" y="482.70" width="0.72" height="69.80" fill="#983E41"/>
<rect x="633.73" y="482.70" width="0.66" height="69.80" fill="#983E41"/>
<rect x="634.81" y="482.70" width="0.96" height="69.80" fill="#983E41"/>
<rect x="636.59" y="482.70" width="1.18" height="69.80" fill="#983E41"/>
<rect x="638.15" y="482.70" width="1.01" height="69.80" fill="#8C494D"/>
<rect x="639.98" y="482.70" width="0.97" height="69.80" fill="#983E41"/>
<rect x="641.88" y="482.70" width="0.94" height="69.80" fill="#8C494D"/>
<rect x="643.56" y="482.70" width="1.06" height="69.80" fill="#8C494D"/>
<rect x="645.15" y="482.70" width="0.62" height="69.80" fill="#8C494D"/>
<rect x="646.69" y="482.70" width="0.69" height="69.80" fill="#8C494D"/>
<rect x="648.10" y="482.70" width="1.02" height="69.80" fill="#983E41"/>
<rect x="649.39" y="482.70" width="0.76" height="69.80" fill="#8C494D"/>
<rect x="650.66" y="482.70" width="0.75" height="69.80" fill="#983E41"/>
<rect x="652.19" y="482.70" width="0.75" height="69.80" fill="#8C494D"/>
<rect x="655.45" y="482.70" width="0.93" height="69.80" fill="#983E41"/>
<rect x="657.12" y="482.70" width="1.11" height="69.80" fill="#983E41"/>
<rect x="658.46" y="482.70" width="0.88" height="69.80" fill="#983E41"/>
<rect x="661.60" y="482.70" width="1.10" height="69.80" fill="#8C494D"/>
<rect x="663.47" y="482.70" width="1.19" height="69.80" fill="#983E41"/>
<rect x="665.07" y="482.70" width="0.91" height="69.80" fill="#983E41"/>
<rect x="666.82" y="482.70" width="1.15" height="69.80" fill="#8C494D"/>
<rect x="668.28" y="482.70" width="0.83" height="69.80" fill="#983E41"/>
<rect x="669.82" y="482.70" width="0.75" height="69.80" fill="#983E41"/>
<rect x="671.18" y="482.70" width="0.77" height="69.80" fill="#8C494D"/>
<rect x="672.42" y="482.70" width="1.06" height="69.80" fill="#983E41"/>
<rect x="674.27" y="482.70" width="0.67" height="69.80" fill="#8C494D"/>
<path d="M39.40 538.76 L39.69 537.09 L39.98 548.07 L40.27 542.62 L40.56 536.59 L40.85 536.40 L41.14 538.86 L41.43 536.43 L41.72 539.61 L42.01 540.99 L42.30 541.34 L42.59 550.33 L42.88 541.31 L43.17 539.64 L43.46 542.60 L43.75 539.09 L44.04 540.11 L44.34 538.76 L44.63 538.80 L44.92 535.70 L45.21 541.74 L45.50 542.21 L45.79 540.03 L46.08 541.44 L46.37 545.54 L46.66 541.77 L46.95 537.31 L47.24 540.41 L47.53 537.21 L47.82 539.39 L48.11 542.14 L48.40 541.90 L48.69 536.99 L48.98 539.16 L49.27 537.69 L49.56 541.60 L49.85 541.16 L50.14 543.61 L50.43 540.19 L50.72 537.71 L51.01 540.27 L51.30 534.72 L51.59 540.57 L51.88 539.89 L52.17 540.63 L52.46 538.33 L52.75 540.16 L53.04 539.54 L53.33 541.99 L53.62 545.59 L53.92 540.72 L54.21 542.61 L54.50 545.45 L54.79 541.36 L55.08 545.04 L55.37 545.57 L55.66 542.21 L55.95 540.70 L56.24 544.14 L56.53 541.95 L56.82 538.29 L57.11 548.45 L57.40 540.78 L57.69 539.51 L57.98 545.98 L58.27 543.11 L58.56 548.37 L58.85 550.15 L59.14 540.89 L59.43 543.15 L59.72 545.16 L60.01 543.38 L60.30 546.29 L60.59 544.27 L60.88 543.98 L61.17 541.60 L61.46 545.74 L61.75 544.05 L62.04 543.76 L62.33 542.18 L62.62 548.08 L62.91 542.63 L63.20 540.04 L63.50 545.41 L63.79 546.84 L64.08 544.59 L64.37 546.51 L64.66 543.07 L64.95 543.15 L65.24 540.37 L65.53 539.90 L65.82 539.80 L66.11 545.87 L66.40 541.15 L66.69 550.15 L66.98 543.97 L67.27 543.95 L67.56 541.78 L67.85 543.02 L68.14 542.23 L68.43 542.88 L68.72 543.19 L69.01 540.96 L69.30 537.98 L69.59 547.99 L69.88 547.10 L70.17 545.16 L70.46 547.42 L70.75 550.93 L71.04 543.98 L71.33 545.40 L71.62 549.76 L71.91 541.92 L72.20 541.04 L72.49 542.77 L72.78 545.58 L73.08 541.69 L73.37 545.78 L73.66 544.02 L73.95 545.60 L74.24 544.25 L74.53 546.64 L74.82 543.47 L75.11 540.73 L75.40 540.57 L75.69 546.88 L75.98 547.86 L76.27 543.29 L76.56 547.10 L76.85 544.51 L77.14 541.92 L77.43 542.74 L77.72 542.02 L78.01 542.74 L78.30 543.41 L78.59 547.18 L78.88 541.62 L79.17 541.83 L79.46 540.29 L79.75 541.55 L80.04 539.50 L80.33 542.43 L80.62 543.94 L80.91 544.11 L81.20 541.75 L81.49 541.09 L81.78 540.82 L82.07 541.59 L82.36 543.71 L82.66 537.53 L82.95 545.22 L83.24 540.83 L83.53 535.70 L83.82 543.33 L84.11 540.27 L84.40 541.42 L84.69 545.86 L84.98 549.65 L85.27 544.43 L85.56 541.43 L85.85 541.27 L86.14 547.31 L86.43 542.35 L86.72 545.82 L87.01 540.72 L87.30 538.96 L87.59 542.12 L87.88 541.85 L88.17 541.24 L88.46 538.89 L88.75 536.17 L89.04 541.38 L89.33 538.93 L89.62 538.33 L89.91 541.11 L90.20 539.80 L90.49 540.84 L90.78 543.77 L91.07 545.42 L91.36 539.44 L91.65 539.04 L91.94 541.90 L92.24 538.84 L92.53 540.25 L92.82 544.32 L93.11 540.36 L93.40 543.92 L93.69 538.44 L93.98 538.17 L94.27 543.11 L94.56 542.65 L94.85 541.55 L95.14 538.97 L95.43 537.96 L95.72 539.44 L96.01 538.91 L96.30 540.93 L96.59 543.90 L96.88 543.85 L97.17 543.03 L97.46 543.70 L97.75 540.23 L98.04 542.30 L98.33 539.30 L98.62 544.49 L98.91 545.12 L99.20 546.86 L99.49 548.30 L99.78 539.00 L100.07 539.07 L100.36 540.37 L100.65 541.95 L100.94 542.69 L101.23 548.34 L101.52 540.23 L101.82 542.62 L102.11 542.74 L102.40 545.22 L102.69 539.48 L102.98 550.43 L103.27 547.05 L103.56 538.90 L103.85 541.14 L104.14 543.66 L104.43 541.84 L104.72 543.23 L105.01 547.28 L105.30 544.80 L105.59 537.43 L105.88 538.19 L106.17 539.79 L106.46 543.34 L106.75 542.77 L107.04 543.36 L107.33 541.10 L107.62 541.29 L107.91 542.78 L108.20 538.24 L108.49 541.07 L108.78 542.53 L109.07 545.76 L109.36 545.45 L109.65 536.94 L109.94 538.79 L110.23 542.37 L110.52 545.17 L110.81 549.82 L111.10 542.30 L111.40 543.14 L111.69 539.93 L111.98 545.74 L112.27 544.84 L112.56 548.01 L112.85 543.94 L113.14 544.12 L113.43 545.70 L113.72 541.60 L114.01 539.33 L114.30 542.04 L114.59 542.30 L114.88 541.27 L115.17 542.88 L115.46 539.38 L115.75 535.43 L116.04 542.42 L116.33 540.19 L116.62 541.07 L116.91 538.70 L117.20 543.77 L117.49 538.42 L117.78 535.89 L118.07 538.23 L118.36 541.90 L118.65 540.57 L118.94 542.93 L119.23 541.78 L119.52 539.42 L119.81 542.86 L120.10 541.39 L120.39 540.74 L120.68 543.04 L120.98 539.25 L121.27 544.49 L121.56 542.14 L121.85 541.34 L122.14 536.27 L122.43 539.91 L122.72 538.27 L123.01 539.84 L123.30 545.36 L123.59 544.36 L123.88 540.31 L124.17 537.54 L124.46 540.32 L124.75 539.46 L125.04 540.18 L125.33 542.69 L125.62 540.65 L125.91 538.26 L126.20 542.99 L126.49 541.37 L126.78 550.21 L127.07 543.87 L127.36 540.45 L127.65 539.63 L127.94 541.85 L128.23 539.87 L128.52 545.24 L128.81 541.21 L129.10 545.39 L129.39 548.25 L129.68 546.28 L129.97 543.67 L130.26 545.13 L130.56 544.05 L130.85 545.72 L131.14 546.37 L131.43 544.21 L131.72 539.72 L132.01 541.80 L132.30 543.80 L132.59 544.90 L132.88 541.51 L133.17 542.86 L133.46 543.50 L133.75 547.47 L134.04 542.28 L134.33 543.97 L134.62 539.87 L134.91 543.20 L135.20 547.50 L135.49 542.79 L135.78 540.84 L136.07 537.14 L136.36 547.33 L136.65 540.72 L136.94 548.86 L137.23 540.63 L137.52 545.12 L137.81 548.44 L138.10 541.06 L138.39 541.61 L138.68 540.00 L138.97 540.04 L139.26 542.33 L139.55 542.90 L139.84 547.45 L140.14 542.62 L140.43 541.73 L140.72 541.56 L141.01 544.48 L141.30 540.58 L141.59 544.23 L141.88 546.88 L142.17 541.28 L142.46 544.49 L142.75 544.91 L143.04 545.94 L143.33 540.03 L143.62 542.75 L143.91 548.29 L144.20 538.04 L144.49 539.81 L144.78 543.08 L145.07 541.05 L145.36 536.85 L145.65 542.86 L145.94 541.85 L146.23 536.87 L146.52 542.81 L146.81 543.76 L147.10 549.81 L147.39 540.89 L147.68 541.14 L147.97 544.52 L148.26 541.35 L148.55 538.39 L148.84 539.50 L149.13 537.71 L149.43 539.85 L149.72 543.50 L150.01 542.10 L150.30 538.91 L150.59 542.08 L150.88 543.42 L151.17 537.99 L151.46 534.47 L151.75 541.45 L152.04 546.82 L152.33 539.75 L152.62 537.82 L152.91 544.33 L153.20 542.16 L153.49 542.40 L153.78 545.40 L154.07 544.72 L154.36 536.17 L154.65 539.98 L154.94 540.22 L155.23 535.06 L155.52 541.54 L155.81 544.95 L156.10 538.87 L156.39 531.08 L156.68 535.49 L156.97 536.18 L157.26 539.82 L157.55 538.52 L157.84 536.14 L158.13 536.86 L158.42 534.60 L158.71 537.34 L159.01 539.04 L159.30 539.58 L159.59 540.44 L159.88 538.45 L160.17 541.55 L160.46 536.74 L160.75 534.94 L161.04 535.42 L161.33 536.79 L161.62 536.57 L161.91 539.90 L162.20 544.39 L162.49 535.87 L162.78 537.49 L163.07 538.04 L163.36 536.90 L163.65 539.69 L163.94 537.26 L164.23 539.77 L164.52 533.91 L164.81 535.01 L165.10 536.95 L165.39 535.51 L165.68 536.06 L165.97 538.00 L166.26 540.49 L166.55 537.04 L166.84 536.84 L167.13 536.51 L167.42 541.02 L167.71 538.79 L168.00 542.29 L168.29 539.98 L168.59 535.46 L168.88 533.40 L169.17 534.36 L169.46 534.16 L169.75 539.39 L170.04 540.41 L170.33 539.51 L170.62 531.61 L170.91 532.38 L171.20 538.29 L171.49 536.36 L171.78 545.73 L172.07 543.01 L172.36 540.93 L172.65 532.15 L172.94 534.71 L173.23 539.68 L173.52 534.59 L173.81 536.76 L174.10 540.31 L174.39 543.89 L174.68 536.53 L174.97 534.14 L175.26 537.09 L175.55 536.69 L175.84 539.27 L176.13 537.26 L176.42 540.86 L176.71 533.57 L177.00 536.50 L177.29 539.93 L177.58 534.44 L177.87 540.60 L178.17 541.45 L178.46 538.36 L178.75 536.15 L179.04 538.11 L179.33 534.93 L179.62 536.66 L179.91 536.72 L180.20 537.02 L180.49 532.96 L180.78 533.27 L181.07 527.80 L181.36 533.27 L181.65 534.58 L181.94 540.12 L182.23 539.97 L182.52 535.20 L182.81 529.96 L183.10 534.54 L183.39 533.05 L183.68 532.69 L183.97 536.79 L184.26 541.18 L184.55 539.77 L184.84 533.91 L185.13 533.34 L185.42 532.55 L185.71 536.99 L186.00 535.65 L186.29 539.36 L186.58 537.96 L186.87 531.54 L187.16 532.46 L187.45 536.88 L187.75 538.00 L188.04 538.49 L188.33 540.18 L188.62 539.86 L188.91 535.00 L189.20 536.19 L189.49 538.12 L189.78 538.83 L190.07 537.35 L190.36 534.33 L190.65 537.48 L190.94 533.14 L191.23 534.64 L191.52 536.10 L191.81 530.66 L192.10 537.31 L192.39 540.54 L192.68 540.20 L192.97 532.78 L193.26 535.56 L193.55 536.83 L193.84 538.18 L194.13 539.81 L194.42 538.41 L194.71 542.67 L195.00 529.51 L195.29 542.07 L195.58 538.78 L195.87 536.37 L196.16 535.45 L196.45 540.47 L196.74 538.65 L197.03 534.55 L197.33 536.30 L197.62 536.13 L197.91 537.18 L198.20 538.55 L198.49 541.06 L198.78 538.29 L199.07 536.06 L199.36 535.06 L199.65 533.82 L199.94 536.49 L200.23 535.21 L200.52 539.83 L200.81 537.88 L201.10 532.96 L201.39 535.17 L201.68 534.63 L201.97 533.25 L202.26 537.49 L202.55 540.08 L202.84 537.66 L203.13 537.26 L203.42 535.31 L203.71 533.82 L204.00 537.67 L204.29 537.91 L204.58 540.91 L204.87 539.46 L205.16 536.12 L205.45 538.22 L205.74 545.35 L206.03 539.62 L206.32 537.67 L206.61 540.96 L206.91 541.70 L207.20 547.61 L207.49 538.83 L207.78 537.61 L208.07 536.23 L208.36 539.99 L208.65 540.69 L208.94 540.42 L209.23 539.74 L209.52 539.79 L209.81 540.48 L210.10 541.69 L210.39 538.17 L210.68 543.66 L210.97 544.58 L211.26 542.65 L211.55 540.61 L211.84 537.65 L212.13 541.16 L212.42 538.42 L212.71 541.05 L213.00 542.59 L213.29 546.45 L213.58 537.27 L213.87 542.55 L214.16 537.44 L214.45 540.88 L214.74 538.87 L215.03 541.63 L215.32 535.56 L215.61 533.97 L215.90 539.79 L216.19 537.38 L216.49 538.79 L216.78 539.37 L217.07 539.04 L217.36 535.15 L217.65 535.83 L217.94 537.10 L218.23 535.32 L218.52 537.92 L218.81 539.25 L219.10 538.56 L219.39 537.86 L219.68 539.02 L219.97 537.26 L220.26 538.28 L220.55 536.08 L220.84 545.57 L221.13 539.12 L221.42 532.88 L221.71 536.39 L222.00 535.23 L222.29 537.48 L222.58 537.63 L222.87 537.64 L223.16 546.86 L223.45 539.36 L223.74 533.98 L224.03 534.93 L224.32 535.75 L224.61 535.21 L224.90 536.78 L225.19 537.75 L225.48 530.72 L225.77 531.70 L226.07 535.41 L226.36 547.32 L226.65 533.11 L226.94 537.41 L227.23 533.14 L227.52 531.83 L227.81 530.29 L228.10 529.25 L228.39 536.85 L228.68 537.71 L228.97 536.53 L229.26 537.58 L229.55 532.01 L229.84 530.05 L230.13 535.28 L230.42 532.31 L230.71 536.44 L231.00 539.49 L231.29 536.55 L231.58 533.26 L231.87 533.26 L232.16 535.50 L232.45 533.63 L232.74 535.62 L233.03 542.90 L233.32 539.23 L233.61 536.10 L233.90 546.78 L234.19 538.98 L234.48 536.18 L234.77 536.62 L235.06 541.94 L235.35 538.41 L235.65 532.39 L235.94 535.91 L236.23 533.49 L236.52 535.75 L236.81 535.88 L237.10 540.32 L237.39 537.48 L237.68 532.60 L237.97 534.22 L238.26 538.57 L238.55 536.15 L238.84 535.46 L239.13 537.12 L239.42 537.79 L239.71 537.81 L240.00 535.70 L240.29 541.38 L240.58 540.13 L240.87 540.85 L241.16 537.45 L241.45 538.66 L241.74 535.04 L242.03 538.11 L242.32 534.30 L242.61 538.23 L242.90 537.02 L243.19 538.95 L243.48 541.81 L243.77 534.78 L244.06 541.29 L244.35 536.10 L244.64 541.44 L244.93 536.36 L245.23 539.24 L245.52 539.00 L245.81 529.18 L246.10 540.71 L246.39 535.22 L246.68 538.17 L246.97 536.96 L247.26 540.65 L247.55 540.39 L247.84 535.71 L248.13 537.29 L248.42 535.69 L248.71 540.58 L249.00 535.84 L249.29 541.70 L249.58 538.48 L249.87 536.74 L250.16 533.60 L250.45 536.61 L250.74 534.74 L251.03 534.30 L251.32 540.42 L251.61 547.18 L251.90 532.83 L252.19 531.38 L252.48 538.12 L252.77 534.50 L253.06 536.54 L253.35 542.47 L253.64 540.27 L253.93 535.13 L254.22 532.74 L254.51 537.65 L254.81 532.90 L255.10 536.11 L255.39 536.10 L255.68 540.69 L255.97 532.93 L256.26 532.19 L256.55 535.71 L256.84 537.90 L257.13 535.51 L257.42 536.80 L257.71 537.12 L258.00 533.11 L258.29 533.58 L258.58 537.30 L258.87 534.48 L259.16 533.69 L259.45 541.06 L259.74 535.55 L260.03 530.90 L260.32 532.80 L260.61 532.53 L260.90 532.07 L261.19 531.17 L261.48 534.85 L261.77 538.35 L262.06 529.57 L262.35 537.01 L262.64 531.27 L262.93 531.63 L263.22 531.83 L263.51 537.52 L263.80 532.79 L264.09 528.65 L264.39 532.15 L264.68 549.02 L264.97 533.19 L265.26 536.50 L265.55 539.90 L265.84 538.49 L266.13 526.89 L266.42 536.99 L266.71 535.38 L267.00 535.07 L267.29 533.73 L267.58 540.00 L267.87 538.66 L268.16 530.77 L268.45 533.56 L268.74 531.66 L269.03 537.58 L269.32 536.00 L269.61 536.25 L269.90 537.05 L270.19 535.02 L270.48 533.29 L270.77 538.79 L271.06 536.84 L271.35 533.85 L271.64 535.10 L271.93 535.41 L272.22 529.86 L272.51 535.39 L272.80 535.25 L273.09 532.28 L273.38 530.06 L273.67 537.27 L273.97 539.90 L274.26 535.24 L274.55 531.76 L274.84 533.13 L275.13 538.74 L275.42 535.77 L275.71 535.67 L276.00 534.90 L276.29 534.05 L276.58 534.67 L276.87 534.14 L277.16 537.66 L277.45 540.16 L277.74 540.44 L278.03 535.65 L278.32 531.30 L278.61 534.83 L278.90 538.86 L279.19 539.90 L279.48 538.52 L279.77 538.17 L280.06 535.33 L280.35 534.64 L280.64 533.78 L280.93 538.63 L281.22 540.44 L281.51 549.34 L281.80 541.42 L282.09 540.53 L282.38 538.85 L282.67 532.67 L282.96 540.10 L283.25 537.21 L283.55 541.01 L283.84 541.80 L284.13 536.22 L284.42 534.43 L284.71 535.97 L285.00 534.30 L285.29 536.27 L285.58 534.03 L285.87 542.11 L286.16 534.73 L286.45 532.81 L286.74 535.67 L287.03 532.97 L287.32 533.26 L287.61 535.60 L287.90 535.67 L288.19 539.67 L288.48 535.39 L288.77 533.77 L289.06 531.47 L289.35 532.87 L289.64 534.80 L289.93 538.70 L290.22 536.61 L290.51 529.58 L290.80 534.16 L291.09 535.25 L291.38 533.24 L291.67 533.40 L291.96 537.48 L292.25 533.66 L292.54 531.71 L292.83 547.52 L293.13 539.12 L293.42 532.99 L293.71 536.12 L294.00 538.52 L294.29 538.05 L294.58 532.12 L294.87 533.60 L295.16 535.47 L295.45 537.08 L295.74 537.40 L296.03 539.14 L296.32 540.45 L296.61 532.03 L296.90 532.22 L297.19 533.78 L297.48 535.91 L297.77 538.70 L298.06 541.26 L298.35 539.38 L298.64 533.81 L298.93 531.77 L299.22 531.45 L299.51 531.34 L299.80 531.29 L300.09 538.51 L300.38 536.75 L300.67 530.03 L300.96 530.56 L301.25 534.65 L301.54 535.22 L301.83 530.75 L302.12 534.39 L302.41 534.67 L302.71 531.40 L303.00 533.90 L303.29 532.11 L303.58 531.34 L303.87 532.07 L304.16 533.58 L304.45 535.07 L304.74 527.55 L305.03 532.46 L305.32 532.33 L305.61 533.68 L305.90 538.20 L306.19 540.19 L306.48 537.76 L306.77 531.45 L307.06 532.33 L307.35 530.85 L307.64 533.95 L307.93 535.36 L308.22 538.01 L308.51 541.26 L308.80 533.43 L309.09 536.98 L309.38 535.20 L309.67 538.29 L309.96 537.03 L310.25 534.75 L310.54 535.59 L310.83 527.81 L311.12 533.88 L311.41 534.88 L311.70 536.79 L311.99 536.18 L312.29 541.70 L312.58 537.16 L312.87 532.91 L313.16 536.18 L313.45 538.23 L313.74 536.44 L314.03 535.46 L314.32 536.86 L314.61 540.32 L314.90 531.58 L315.19 532.70 L315.48 528.86 L315.77 533.47 L316.06 546.97 L316.35 538.82 L316.64 536.77 L316.93 533.06 L317.22 535.13 L317.51 533.25 L317.80 534.92 L318.09 531.41 L318.38 537.43 L318.67 536.18 L318.96 535.30 L319.25 536.03 L319.54 532.76 L319.83 536.20 L320.12 532.96 L320.41 540.52 L320.70 539.68 L320.99 529.44 L321.28 537.70 L321.57 537.33 L321.87 535.44 L322.16 536.05 L322.45 542.70 L322.74 535.03 L323.03 535.37 L323.32 539.70 L323.61 534.29 L323.90 536.98 L324.19 536.07 L324.48 537.06 L324.77 540.89 L325.06 535.31 L325.35 534.97 L325.64 533.34 L325.93 538.62 L326.22 532.99 L326.51 538.17 L326.80 540.39 L327.09 533.40 L327.38 533.22 L327.67 531.86 L327.96 534.60 L328.25 533.78 L328.54 538.88 L328.83 536.12 L329.12 538.82 L329.41 547.56 L329.70 535.73 L329.99 530.80 L330.28 536.72 L330.57 537.91 L330.86 536.32 L331.15 529.87 L331.45 531.78 L331.74 531.24 L332.03 534.45 L332.32 533.02 L332.61 531.34 L332.90 534.38 L333.19 530.76 L333.48 536.45 L333.77 532.39 L334.06 532.62 L334.35 535.29 L334.64 535.76 L334.93 542.36 L335.22 533.09 L335.51 534.54 L335.80 532.28 L336.09 545.82 L336.38 536.87 L336.67 533.46 L336.96 539.38 L337.25 529.04 L337.54 529.00 L337.83 531.89 L338.12 533.87 L338.41 532.29 L338.70 536.59 L338.99 536.58 L339.28 528.63 L339.57 531.45 L339.86 525.65 L340.15 530.87 L340.44 533.63 L340.73 535.91 L341.03 532.71 L341.32 528.48 L341.61 532.21 L341.90 535.80 L342.19 530.31 L342.48 535.81 L342.77 537.30 L343.06 534.09 L343.35 548.24 L343.64 530.42 L343.93 535.68 L344.22 535.38 L344.51 536.68 L344.80 533.01 L345.09 541.01 L345.38 532.71 L345.67 535.86 L345.96 536.09 L346.25 545.21 L346.54 537.18 L346.83 535.23 L347.12 533.47 L347.41 532.86 L347.70 535.44 L347.99 534.84 L348.28 530.64 L348.57 534.89 L348.86 542.58 L349.15 535.38 L349.44 532.50 L349.73 531.88 L350.02 533.10 L350.31 545.58 L350.61 532.37 L350.90 535.99 L351.19 539.06 L351.48 536.61 L351.77 535.22 L352.06 536.28 L352.35 532.56 L352.64 535.40 L352.93 537.52 L353.22 535.58 L353.51 530.72 L353.80 530.63 L354.09 531.82 L354.38 530.84 L354.67 537.06 L354.96 536.43 L355.25 536.51 L355.54 526.15 L355.83 529.00 L356.12 534.11 L356.41 531.17 L356.70 538.44 L356.99 539.27 L357.28 536.12 L357.57 529.25 L357.86 534.11 L358.15 531.68 L358.44 529.33 L358.73 536.12 L359.02 537.72 L359.31 538.19 L359.60 525.99 L359.90 533.10 L360.19 531.69 L360.48 533.55 L360.77 532.60 L361.06 535.75 L361.35 533.58 L361.64 528.60 L361.93 526.76 L362.22 533.79 L362.51 532.51 L362.80 534.02 L363.09 538.98 L363.38 534.52 L363.67 527.35 L363.96 535.51 L364.25 528.02 L364.54 535.11 L364.83 535.58 L365.12 544.61 L365.41 538.20 L365.70 532.76 L365.99 533.83 L366.28 532.18 L366.57 535.10 L366.86 533.78 L367.15 539.52 L367.44 539.28 L367.73 531.46 L368.02 548.37 L368.31 532.34 L368.60 534.33 L368.89 536.33 L369.18 537.23 L369.48 537.14 L369.77 533.08 L370.06 530.96 L370.35 533.24 L370.64 535.72 L370.93 534.48 L371.22 535.12 L371.51 548.85 L371.80 533.41 L372.09 531.80 L372.38 531.57 L372.67 530.75 L372.96 532.74 L373.25 538.59 L373.54 537.37 L373.83 531.45 L374.12 535.15 L374.41 536.40 L374.70 537.76 L374.99 529.13 L375.28 536.57 L375.57 536.11 L375.86 528.11 L376.15 530.73 L376.44 531.91 L376.73 530.72 L377.02 533.82 L377.31 536.58 L377.60 532.74 L377.89 527.04 L378.18 532.77 L378.47 528.64 L378.76 534.40 L379.06 537.71 L379.35 536.07 L379.64 534.69 L379.93 530.17 L380.22 533.63 L380.51 529.53 L380.80 532.69 L381.09 533.52 L381.38 535.76 L381.67 534.39 L381.96 547.61 L382.25 532.15 L382.54 531.25 L382.83 529.95 L383.12 531.41 L383.41 547.67 L383.70 536.59 L383.99 532.31 L384.28 535.85 L384.57 533.97 L384.86 532.46 L385.15 533.86 L385.44 535.16 L385.73 535.20 L386.02 532.09 L386.31 530.84 L386.60 536.57 L386.89 531.04 L387.18 534.60 L387.47 532.07 L387.76 538.30 L388.05 531.40 L388.34 532.05 L388.64 532.40 L388.93 535.42 L389.22 535.64 L389.51 534.47 L389.80 536.60 L390.09 527.17 L390.38 525.94 L390.67 532.78 L390.96 531.65 L391.25 527.31 L391.54 532.86 L391.83 537.70 L392.12 527.89 L392.41 526.47 L392.70 535.94 L392.99 530.80 L393.28 529.14 L393.57 535.71 L393.86 535.89 L394.15 526.77 L394.44 532.34 L394.73 528.83 L395.02 527.31 L395.31 530.43 L395.60 537.88 L395.89 530.28 L396.18 528.37 L396.47 528.07 L396.76 533.10 L397.05 531.85 L397.34 529.83 L397.63 539.85 L397.92 538.82 L398.22 534.93 L398.51 529.94 L398.80 530.57 L399.09 533.70 L399.38 531.63 L399.67 535.82 L399.96 530.24 L400.25 531.04 L400.54 529.16 L400.83 531.71 L401.12 526.82 L401.41 530.23 L401.70 537.00 L401.99 532.92 L402.28 527.86 L402.57 531.01 L402.86 529.29 L403.15 530.61 L403.44 534.48 L403.73 535.72 L404.02 531.71 L404.31 526.17 L404.60 529.79 L404.89 531.52 L405.18 531.08 L405.47 532.51 L405.76 544.75 L406.05 533.74 L406.34 531.16 L406.63 548.01 L406.92 530.07 L407.21 530.49 L407.50 532.71 L407.80 535.09 L408.09 536.24 L408.38 529.16 L408.67 532.14 L408.96 527.69 L409.25 534.55 L409.54 528.74 L409.83 533.12 L410.12 536.31 L410.41 525.82 L410.70 529.23 L410.99 533.71 L411.28 532.36 L411.57 533.05 L411.86 537.70 L412.15 536.15 L412.44 529.47 L412.73 532.57 L413.02 532.92 L413.31 530.62 L413.60 532.76 L413.89 536.82 L414.18 537.62 L414.47 528.39 L414.76 530.06 L415.05 530.82 L415.34 529.10 L415.63 529.88 L415.92 534.54 L416.21 535.17 L416.50 526.97 L416.79 527.69 L417.08 529.09 L417.38 534.76 L417.67 531.34 L417.96 537.01 L418.25 532.95 L418.54 526.72 L418.83 528.58 L419.12 527.32 L419.41 530.82 L419.70 531.69 L419.99 537.72 L420.28 535.45 L420.57 530.48 L420.86 531.18 L421.15 533.13 L421.44 538.25 L421.73 531.63 L422.02 535.67 L422.31 542.13 L422.60 530.35 L422.89 529.29 L423.18 530.40 L423.47 531.96 L423.76 534.06 L424.05 537.84 L424.34 531.15 L424.63 528.22 L424.92 527.02 L425.21 531.84 L425.50 529.84 L425.79 530.49 L426.08 534.32 L426.37 538.18 L426.66 523.72 L426.96 529.50 L427.25 531.92 L427.54 531.16 L427.83 537.12 L428.12 533.71 L428.41 536.90 L428.70 529.26 L428.99 530.62 L429.28 536.29 L429.57 534.05 L429.86 531.54 L430.15 539.02 L430.44 535.84 L430.73 527.50 L431.02 527.09 L431.31 533.09 L431.60 529.20 L431.89 529.92 L432.18 532.65 L432.47 531.14 L432.76 526.27 L433.05 531.68 L433.34 529.35 L433.63 532.41 L433.92 531.33 L434.21 535.56 L434.50 531.43 L434.79 546.47 L435.08 528.81 L435.37 531.72 L435.66 529.73 L435.95 534.16 L436.24 537.46 L436.54 538.92 L436.83 526.58 L437.12 531.13 L437.41 548.63 L437.70 528.64 L437.99 529.62 L438.28 535.27 L438.57 530.80 L438.86 525.08 L439.15 531.38 L439.44 528.76 L439.73 531.98 L440.02 531.54 L440.31 532.20 L440.60 533.38 L440.89 524.23 L441.18 528.07 L441.47 529.03 L441.76 527.73 L442.05 529.13 L442.34 532.48 L442.63 530.38 L442.92 524.49 L443.21 530.62 L443.50 531.86 L443.79 529.85 L444.08 528.53 L444.37 535.60 L444.66 536.06 L444.95 526.87 L445.24 529.98 L445.53 526.36 L445.82 534.90 L446.12 528.70 L446.41 547.83 L446.70 538.82 L446.99 529.41 L447.28 529.00 L447.57 528.89 L447.86 530.42 L448.15 529.69 L448.44 534.57 L448.73 536.10 L449.02 524.44 L449.31 528.97 L449.60 532.78 L449.89 530.17 L450.18 531.22 L450.47 535.08 L450.76 534.16 L451.05 529.91 L451.34 529.90 L451.63 531.37 L451.92 533.89 L452.21 529.26 L452.50 533.47 L452.79 533.10 L453.08 529.59 L453.37 530.16 L453.66 526.10 L453.95 532.15 L454.24 529.55 L454.53 533.76 L454.82 532.44 L455.11 528.58 L455.40 529.82 L455.70 530.11 L455.99 532.80 L456.28 527.83 L456.57 535.41 L456.86 532.48 L457.15 522.81 L457.44 525.12 L457.73 530.41 L458.02 529.20 L458.31 528.83 L458.60 539.40 L458.89 529.89 L459.18 526.13 L459.47 529.11 L459.76 529.88 L460.05 535.99 L460.34 530.68 L460.63 532.37 L460.92 535.44 L461.21 525.34 L461.50 528.38 L461.79 534.43 L462.08 529.72 L462.37 536.05 L462.66 538.56 L462.95 531.97 L463.24 526.03 L463.53 529.27 L463.82 530.79 L464.11 534.88 L464.40 528.74 L464.69 534.20 L464.98 533.60 L465.28 519.15 L465.57 528.18 L465.86 530.13 L466.15 527.30 L466.44 533.07 L466.73 538.15 L467.02 533.17 L467.31 531.03 L467.60 533.12 L467.89 532.30 L468.18 532.80 L468.47 530.72 L468.76 532.87 L469.05 538.19 L469.34 526.92 L469.63 532.49 L469.92 533.65 L470.21 538.90 L470.50 529.41 L470.79 534.63 L471.08 534.22 L471.37 527.30 L471.66 525.63 L471.95 528.53 L472.24 535.86 L472.53 529.30 L472.82 533.06 L473.11 532.55 L473.40 525.43 L473.69 525.54 L473.98 529.40 L474.27 523.24 L474.56 528.46 L474.86 534.32 L475.15 532.37 L475.44 529.34 L475.73 527.15 L476.02 530.10 L476.31 531.98 L476.60 529.09 L476.89 533.81 L477.18 535.43 L477.47 527.40 L477.76 526.39 L478.05 522.64 L478.34 528.55 L478.63 529.87 L478.92 531.62 L479.21 534.64 L479.50 525.32 L479.79 525.25 L480.08 526.83 L480.37 526.87 L480.66 530.15 L480.95 530.28 L481.24 527.34 L481.53 518.55 L481.82 523.55 L482.11 528.61 L482.40 529.47 L482.69 529.29 L482.98 528.18 L483.27 534.63 L483.56 525.83 L483.85 530.69 L484.14 529.18 L484.44 530.07 L484.73 527.30 L485.02 530.41 L485.31 531.23 L485.60 525.57 L485.89 527.24 L486.18 523.93 L486.47 529.05 L486.76 531.52 L487.05 534.36 L487.34 532.25 L487.63 528.47 L487.92 531.77 L488.21 528.09 L488.50 532.90 L488.79 532.14 L489.08 534.46 L489.37 533.34 L489.66 526.98 L489.95 534.18 L490.24 529.71 L490.53 530.57 L490.82 531.70 L491.11 534.59 L491.40 528.55 L491.69 523.48 L491.98 526.94 L492.27 526.35 L492.56 530.90 L492.85 530.87 L493.14 532.60 L493.43 531.04 L493.72 524.07 L494.02 523.52 L494.31 528.73 L494.60 527.04 L494.89 543.82 L495.18 532.75 L495.47 535.92 L495.76 524.74 L496.05 529.85 L496.34 527.05 L496.63 534.58 L496.92 526.66 L497.21 533.52 L497.50 532.53 L497.79 526.94 L498.08 533.16 L498.37 531.69 L498.66 532.42 L498.95 531.72 L499.24 537.99 L499.53 534.67 L499.82 527.10 L500.11 526.71 L500.40 528.43 L500.69 533.12 L500.98 529.02 L501.27 530.82 L501.56 533.35 L501.85 528.91 L502.14 531.37 L502.43 530.26 L502.72 526.62 L503.01 533.48 L503.30 541.21 L503.60 533.40 L503.89 530.73 L504.18 530.77 L504.47 531.57 L504.76 527.80 L505.05 532.27 L505.34 535.81 L505.63 534.69 L505.92 522.45 L506.21 524.03 L506.50 528.10 L506.79 529.10 L507.08 528.89 L507.37 530.76 L507.66 533.28 L507.95 521.79 L508.24 526.33 L508.53 534.14 L508.82 531.71 L509.11 531.06 L509.40 528.68 L509.69 529.70 L509.98 526.57 L510.27 532.02 L510.56 530.13 L510.85 530.00 L511.14 531.46 L511.43 533.11 L511.72 531.06 L512.01 527.61 L512.30 530.91 L512.59 529.30 L512.88 534.39 L513.18 533.04 L513.47 533.23 L513.76 534.77 L514.05 531.77 L514.34 529.59 L514.63 530.98 L514.92 530.62 L515.21 529.73 L515.50 536.30 L515.79 537.88 L516.08 525.45 L516.37 530.66 L516.66 528.66 L516.95 531.05 L517.24 532.64 L517.53 533.14 L517.82 533.60 L518.11 527.98 L518.40 528.40 L518.69 532.38 L518.98 529.93 L519.27 534.57 L519.56 532.77 L519.85 531.27 L520.14 529.94 L520.43 524.77 L520.72 531.85 L521.01 531.29 L521.30 533.91 L521.59 535.41 L521.88 533.92 L522.17 529.26 L522.46 526.98 L522.76 532.01 L523.05 530.51 L523.34 534.43 L523.63 536.91 L523.92 533.46 L524.21 527.19 L524.50 529.19 L524.79 529.07 L525.08 529.82 L525.37 533.51 L525.66 534.47 L525.95 536.28 L526.24 531.37 L526.53 530.96 L526.82 532.28 L527.11 528.79 L527.40 531.07 L527.69 535.11 L527.98 539.39 L528.27 548.91 L528.56 530.01 L528.85 531.16 L529.14 533.77 L529.43 537.78 L529.72 541.83 L530.01 540.65 L530.30 531.21 L530.59 532.03 L530.88 530.24 L531.17 536.18 L531.46 534.57 L531.75 538.96 L532.04 537.38 L532.34 531.25 L532.63 534.28 L532.92 530.82 L533.21 537.40 L533.50 532.37 L533.79 536.71 L534.08 536.77 L534.37 527.51 L534.66 531.59 L534.95 530.18 L535.24 532.66 L535.53 531.21 L535.82 538.21 L536.11 534.57 L536.40 528.47 L536.69 532.23 L536.98 534.87 L537.27 536.03 L537.56 534.59 L537.85 538.55 L538.14 534.87 L538.43 532.22 L538.72 533.88 L539.01 535.04 L539.30 536.34 L539.59 537.43 L539.88 539.46 L540.17 537.72 L540.46 533.87 L540.75 533.84 L541.04 532.02 L541.33 532.09 L541.62 535.72 L541.92 540.18 L542.21 533.02 L542.50 531.69 L542.79 533.08 L543.08 534.57 L543.37 534.29 L543.66 538.86 L543.95 537.81 L544.24 534.24 L544.53 525.47 L544.82 530.13 L545.11 530.39 L545.40 530.57 L545.69 534.32 L545.98 538.00 L546.27 534.29 L546.56 526.60 L546.85 530.40 L547.14 530.53 L547.43 531.60 L547.72 532.09 L548.01 535.72 L548.30 533.01 L548.59 527.89 L548.88 531.06 L549.17 531.10 L549.46 531.27 L549.75 531.22 L550.04 531.79 L550.33 531.21 L550.62 530.12 L550.91 531.10 L551.20 533.17 L551.50 531.78 L551.79 531.67 L552.08 539.85 L552.37 535.36 L552.66 547.57 L552.95 534.53 L553.24 529.87 L553.53 531.98 L553.82 535.91 L554.11 539.24 L554.40 548.74 L554.69 531.42 L554.98 533.71 L555.27 531.68 L555.56 534.99 L555.85 534.43 L556.14 531.69 L556.43 535.83 L556.72 530.14 L557.01 534.84 L557.30 534.15 L557.59 531.58 L557.88 533.55 L558.17 533.80 L558.46 533.63 L558.75 529.54 L559.04 533.13 L559.33 537.51 L559.62 531.27 L559.91 533.84 L560.20 530.55 L560.49 536.84 L560.78 531.62 L561.08 533.15 L561.37 535.52 L561.66 534.43 L561.95 534.23 L562.24 537.84 L562.53 538.33 L562.82 534.79 L563.11 532.72 L563.40 533.68 L563.69 547.80 L563.98 539.68 L564.27 540.59 L564.56 539.85 L564.85 529.95 L565.14 535.42 L565.43 533.13 L565.72 536.78 L566.01 536.59 L566.30 533.04 L566.59 547.90 L566.88 532.53 L567.17 535.06 L567.46 532.77 L567.75 534.57 L568.04 535.34 L568.33 533.82 L568.62 534.16 L568.91 529.63 L569.20 534.97 L569.49 535.97 L569.78 531.29 L570.07 537.80 L570.37 533.63 L570.66 533.09 L570.95 531.95 L571.24 535.00 L571.53 536.86 L571.82 533.53 L572.11 534.73 L572.40 540.51 L572.69 540.58 L572.98 531.90 L573.27 535.62 L573.56 535.00 L573.85 538.38 L574.14 534.66 L574.43 537.58 L574.72 539.06 L575.01 534.26 L575.30 534.04 L575.59 534.42 L575.88 534.71 L576.17 535.92 L576.46 540.13 L576.75 535.85 L577.04 528.52 L577.33 533.66 L577.62 536.36 L577.91 530.48 L578.20 533.88 L578.49 541.31 L578.78 534.40 L579.07 529.91 L579.36 532.86 L579.65 531.88 L579.95 535.31 L580.24 536.09 L580.53 540.60 L580.82 533.90 L581.11 531.89 L581.40 531.39 L581.69 532.42 L581.98 539.68 L582.27 534.15 L582.56 539.51 L582.85 532.42 L583.14 531.99 L583.43 528.61 L583.72 527.97 L584.01 531.09 L584.30 529.94 L584.59 531.70 L584.88 532.95 L585.17 526.93 L585.46 531.15 L585.75 525.56 L586.04 528.19 L586.33 530.61 L586.62 537.25 L586.91 530.41 L587.20 546.24 L587.49 527.54 L587.78 528.47 L588.07 526.90 L588.36 531.58 L588.65 536.38 L588.94 532.74 L589.23 528.21 L589.53 545.30 L589.82 526.48 L590.11 529.62 L590.40 536.37 L590.69 541.02 L590.98 539.10 L591.27 529.77 L591.56 529.28 L591.85 527.72 L592.14 531.64 L592.43 533.75 L592.72 535.74 L593.01 534.79 L593.30 546.07 L593.59 529.74 L593.88 534.87 L594.17 532.48 L594.46 532.32 L594.75 537.62 L595.04 534.65 L595.33 545.32 L595.62 527.43 L595.91 528.48 L596.20 528.82 L596.49 531.55 L596.78 532.47 L597.07 533.05 L597.36 529.52 L597.65 526.43 L597.94 529.59 L598.23 536.84 L598.52 526.92 L598.81 533.29 L599.11 534.62 L599.40 525.43 L599.69 526.84 L599.98 527.35 L600.27 524.34 L600.56 526.99 L600.85 533.51 L601.14 535.18 L601.43 531.14 L601.72 527.38 L602.01 530.20 L602.30 528.33 L602.59 530.66 L602.88 532.92 L603.17 530.23 L603.46 528.82 L603.75 530.74 L604.04 529.30 L604.33 533.14 L604.62 545.49 L604.91 533.66 L605.20 529.39 L605.49 527.89 L605.78 526.16 L606.07 531.40 L606.36 531.00 L606.65 532.98 L606.94 534.94 L607.23 535.78 L607.52 529.51 L607.81 530.89 L608.10 526.13 L608.39 528.64 L608.69 525.57 L608.98 528.32 L609.27 535.68 L609.56 521.85 L609.85 530.87 L610.14 534.43 L610.43 532.09 L610.72 530.16 L611.01 539.34 L611.30 530.07 L611.59 525.49 L611.88 524.24 L612.17 526.47 L612.46 526.91 L612.75 545.23 L613.04 533.08 L613.33 536.69 L613.62 519.84 L613.91 528.04 L614.20 526.22 L614.49 525.53 L614.78 530.75 L615.07 533.76 L615.36 536.97 L615.65 523.00 L615.94 524.14 L616.23 528.18 L616.52 530.44 L616.81 537.21 L617.10 530.00 L617.39 533.38 L617.68 524.82 L617.97 525.60 L618.27 526.95 L618.56 526.52 L618.85 527.94 L619.14 531.58 L619.43 535.23 L619.72 544.94 L620.01 525.16 L620.30 529.75 L620.59 527.56 L620.88 524.62 L621.17 528.71 L621.46 530.19 L621.75 521.96 L622.04 542.96 L622.33 526.94 L622.62 522.39 L622.91 528.74 L623.20 532.68 L623.49 534.43 L623.78 523.24 L624.07 526.92 L624.36 531.05 L624.65 527.47 L624.94 529.20 L625.23 530.76 L625.52 530.66 L625.81 525.94 L626.10 522.87 L626.39 525.84 L626.68 526.09 L626.97 527.35 L627.26 527.88 L627.55 529.32 L627.85 523.82 L628.14 516.83 L628.43 526.87 L628.72 523.45 L629.01 523.12 L629.30 529.38 L629.59 531.09 L629.88 524.70 L630.17 529.68 L630.46 524.81 L630.75 529.64 L631.04 527.14 L631.33 546.95 L631.62 527.30 L631.91 524.42 L632.20 523.98 L632.49 520.48 L632.78 529.51 L633.07 527.41 L633.36 537.65 L633.65 530.53 L633.94 522.18 L634.23 525.29 L634.52 523.27 L634.81 521.64 L635.10 524.11 L635.39 528.32 L635.68 526.85 L635.97 524.44 L636.26 527.08 L636.55 523.54 L636.84 519.60 L637.13 526.94 L637.43 535.29 L637.72 529.49 L638.01 517.61 L638.30 520.37 L638.59 523.91 L638.88 543.59 L639.17 523.11 L639.46 531.61 L639.75 526.07 L640.04 517.23 L640.33 520.39 L640.62 517.43 L640.91 516.83 L641.20 529.15 L641.49 530.23 L641.78 531.51 L642.07 525.41 L642.36 525.37 L642.65 523.22 L642.94 521.24 L643.23 521.64 L643.52 536.49 L643.81 527.49 L644.10 523.85 L644.39 520.37 L644.68 526.03 L644.97 519.15 L645.26 517.57 L645.55 521.65 L645.84 527.19 L646.13 515.71 L646.42 520.33 L646.71 520.55 L647.01 516.06 L647.30 529.22 L647.59 530.22 L647.88 527.89 L648.17 522.27 L648.46 525.78 L648.75 519.53 L649.04 524.42 L649.33 526.55 L649.62 534.10 L649.91 528.83 L650.20 516.91 L650.49 521.51 L650.78 517.33 L651.07 523.03 L651.36 524.97 L651.65 525.96 L651.94 528.80 L652.23 522.63 L652.52 517.27 L652.81 517.84 L653.10 517.60 L653.39 530.66 L653.68 524.27 L653.97 525.51 L654.26 517.38 L654.55 518.71 L654.84 519.33 L655.13 521.23 L655.42 522.74 L655.71 529.65 L656.00 522.28 L656.29 519.55 L656.59 517.34 L656.88 524.07 L657.17 522.97 L657.46 523.71 L657.75 526.79 L658.04 521.89 L658.33 523.63 L658.62 515.52 L658.91 524.54 L659.20 516.71 L659.49 528.16 L659.78 528.58 L660.07 525.41 L660.36 525.02 L660.65 521.41 L660.94 522.26 L661.23 521.57 L661.52 524.07 L661.81 530.95 L662.10 532.67 L662.39 520.89 L662.68 521.06 L662.97 522.38 L663.26 519.27 L663.55 523.98 L663.84 534.58 L664.13 530.41 L664.42 514.65 L664.71 517.84 L665.00 522.36 L665.29 526.14 L665.58 519.92 L665.87 531.89 L666.17 530.39 L666.46 515.34 L666.75 527.73 L667.04 520.27 L667.33 527.23 L667.62 525.06 L667.91 534.21 L668.20 537.57 L668.49 520.89 L668.78 526.80 L669.07 526.73 L669.36 526.53 L669.65 526.93 L669.94 530.35 L670.23 526.96 L670.52 525.02 L670.81 515.64 L671.10 529.53 L671.39 525.74 L671.68 525.85 L671.97 532.49 L672.26 526.98 L672.55 523.47 L672.84 522.64 L673.13 514.83 L673.42 525.75 L673.71 516.58 L674.00 534.31 L674.29 525.62 L674.58 517.62 L674.87 518.05 L675.16 529.85 L675.45 530.23" fill="none" stroke="#000" stroke-opacity="0.85" stroke-width="0.70" stroke-linejoin="miter" stroke-miterlimit="4"/>
<path d="M35.90 482.70 V552.50" stroke="#333" stroke-width="1" fill="none"/>
<text x="29.6" y="555.80" text-anchor="end" font-size="9">0</text>
<text x="29.6" y="541.84" text-anchor="end" font-size="9">1</text>
<text x="29.6" y="527.88" text-anchor="end" font-size="9">2</text>
<text x="29.6" y="513.92" text-anchor="end" font-size="9">3</text>
<text x="29.6" y="499.96" text-anchor="end" font-size="9">4</text>
<text x="29.6" y="486.00" text-anchor="end" font-size="9">5</text>
<path d="M31.90 552.50 H35.90 M31.90 538.54 H35.90 M31.90 524.58 H35.90 M31.90 510.62 H35.90 M31.90 496.66 H35.90 M31.90 482.70 H35.90" stroke="#333" stroke-width="1" fill="none"/>
<path d="M39.40 555.75 H675.60" stroke="#333" stroke-width="1" fill="none"/>
<text x="39.25" y="566.90" text-anchor="middle" font-size="8.5" letter-spacing="-0.3">2004</text>
<text x="145.28" y="566.90" text-anchor="middle" font-size="8.5" letter-spacing="-0.3">2005</text>
<text x="251.32" y="566.90" text-anchor="middle" font-size="8.5" letter-spacing="-0.3">2006</text>
<text x="357.35" y="566.90" text-anchor="middle" font-size="8.5" letter-spacing="-0.3">2007</text>
<text x="463.38" y="566.90" text-anchor="middle" font-size="8.5" letter-spacing="-0.3">2008</text>
<text x="569.42" y="566.90" text-anchor="middle" font-size="8.5" letter-spacing="-0.3">2009</text>
<text x="675.45" y="566.90" text-anchor="middle" font-size="8.5" letter-spacing="-0.3">2010</text>
<path d="M39.40 555.75 V558.75 M145.43 555.75 V558.75 M251.47 555.75 V558.75 M357.50 555.75 V558.75 M463.53 555.75 V558.75 M569.57 555.75 V558.75 M675.60 555.75 V558.75" stroke="#333" stroke-width="1" fill="none"/>
<text x="38.9" y="489.20" font-size="8.3" letter-spacing="-0.1">Supporting</text>
</svg></body></html>
